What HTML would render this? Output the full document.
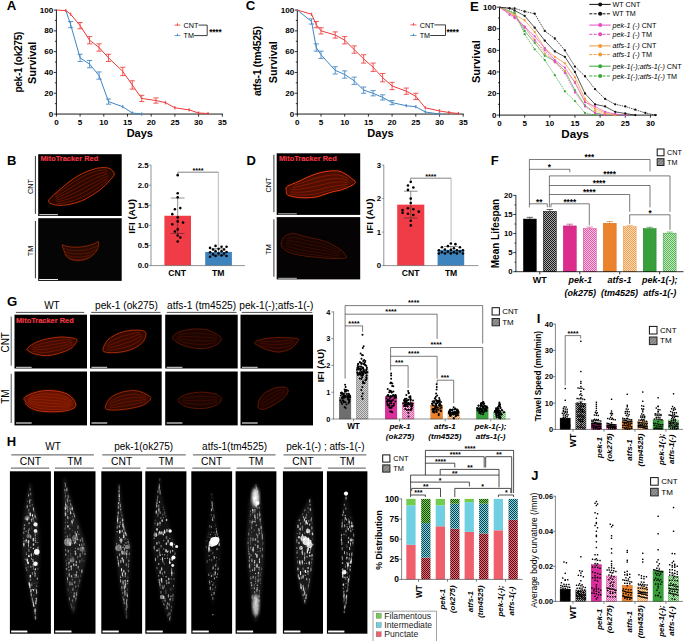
<!DOCTYPE html>
<html><head><meta charset="utf-8"><title>Figure</title>
<style>html,body{margin:0;padding:0;background:#fff;}svg{display:block;font-family:'Liberation Sans', sans-serif;}</style>
</head><body>
<svg width="685" height="641" viewBox="0 0 685 641" font-family='&quot;Liberation Sans&quot;, sans-serif'>
<rect x="0" y="0" width="685" height="641" fill="#fff"/>
<defs>
<pattern id="ckK" width="2.0" height="2.0" patternUnits="userSpaceOnUse"><rect width="2.0" height="2.0" fill="#a8a8a8"/><rect width="1.0" height="1.0" fill="#1a1a1a"/><rect x="1.0" y="1.0" width="1.0" height="1.0" fill="#1a1a1a"/></pattern>
<pattern id="ckM" width="2.0" height="2.0" patternUnits="userSpaceOnUse"><rect width="2.0" height="2.0" fill="#f9c4e0"/><rect width="1.0" height="1.0" fill="#e458ac"/><rect x="1.0" y="1.0" width="1.0" height="1.0" fill="#e458ac"/></pattern>
<pattern id="ckO" width="2.0" height="2.0" patternUnits="userSpaceOnUse"><rect width="2.0" height="2.0" fill="#fbdcb8"/><rect width="1.0" height="1.0" fill="#f0a050"/><rect x="1.0" y="1.0" width="1.0" height="1.0" fill="#f0a050"/></pattern>
<pattern id="ckG" width="2.0" height="2.0" patternUnits="userSpaceOnUse"><rect width="2.0" height="2.0" fill="#c4e8c0"/><rect width="1.0" height="1.0" fill="#58b556"/><rect x="1.0" y="1.0" width="1.0" height="1.0" fill="#58b556"/></pattern>
<pattern id="ckGray" width="2.0" height="2.0" patternUnits="userSpaceOnUse"><rect width="2.0" height="2.0" fill="#d4d4d4"/><rect width="1.0" height="1.0" fill="#8c8c8c"/><rect x="1.0" y="1.0" width="1.0" height="1.0" fill="#8c8c8c"/></pattern>
<pattern id="hP" width="2.0" height="2.0" patternUnits="userSpaceOnUse"><rect width="2.0" height="2.0" fill="#f06a75"/><rect width="1.0" height="1.0" fill="#50101a"/><rect x="1.0" y="1.0" width="1.0" height="1.0" fill="#50101a"/></pattern>
<pattern id="hI" width="2.0" height="2.0" patternUnits="userSpaceOnUse"><rect width="2.0" height="2.0" fill="#7dd5e6"/><rect width="1.0" height="1.0" fill="#104048"/><rect x="1.0" y="1.0" width="1.0" height="1.0" fill="#104048"/></pattern>
<pattern id="hF" width="2.0" height="2.0" patternUnits="userSpaceOnUse"><rect width="2.0" height="2.0" fill="#7ccf52"/><rect width="1.0" height="1.0" fill="#184a10"/><rect x="1.0" y="1.0" width="1.0" height="1.0" fill="#184a10"/></pattern>
<pattern id="hatchL" width="2.4" height="2.4" patternUnits="userSpaceOnUse" patternTransform="rotate(-45)"><rect width="2.4" height="2.4" fill="#7c7c7c"/><rect width="2.4" height="0.9" fill="#a2a2a2"/></pattern>
<filter id="b1" x="-20%" y="-20%" width="140%" height="140%"><feGaussianBlur stdDeviation="0.6"/></filter>
<filter id="b2" x="-20%" y="-20%" width="140%" height="140%"><feGaussianBlur stdDeviation="1.5"/></filter>
<filter id="b3" x="-30%" y="-30%" width="160%" height="160%"><feGaussianBlur stdDeviation="3"/></filter>
</defs>
<line x1="56.40" y1="9.55" x2="56.40" y2="114.55" stroke="#000" stroke-width="0.9"/>
<line x1="56.00" y1="114.05" x2="222.80" y2="114.05" stroke="#000" stroke-width="0.9"/>
<line x1="53.80" y1="114.05" x2="56.40" y2="114.05" stroke="#000" stroke-width="0.8"/>
<text x="53.30" y="116.55" font-size="8.1" font-weight="bold" text-anchor="end" fill="#000">0</text>
<line x1="54.90" y1="103.65" x2="56.40" y2="103.65" stroke="#000" stroke-width="0.8"/>
<line x1="53.80" y1="93.25" x2="56.40" y2="93.25" stroke="#000" stroke-width="0.8"/>
<text x="53.30" y="95.75" font-size="8.1" font-weight="bold" text-anchor="end" fill="#000">20</text>
<line x1="54.90" y1="82.85" x2="56.40" y2="82.85" stroke="#000" stroke-width="0.8"/>
<line x1="53.80" y1="72.45" x2="56.40" y2="72.45" stroke="#000" stroke-width="0.8"/>
<text x="53.30" y="74.95" font-size="8.1" font-weight="bold" text-anchor="end" fill="#000">40</text>
<line x1="54.90" y1="62.05" x2="56.40" y2="62.05" stroke="#000" stroke-width="0.8"/>
<line x1="53.80" y1="51.65" x2="56.40" y2="51.65" stroke="#000" stroke-width="0.8"/>
<text x="53.30" y="54.15" font-size="8.1" font-weight="bold" text-anchor="end" fill="#000">60</text>
<line x1="54.90" y1="41.25" x2="56.40" y2="41.25" stroke="#000" stroke-width="0.8"/>
<line x1="53.80" y1="30.85" x2="56.40" y2="30.85" stroke="#000" stroke-width="0.8"/>
<text x="53.30" y="33.35" font-size="8.1" font-weight="bold" text-anchor="end" fill="#000">80</text>
<line x1="54.90" y1="20.45" x2="56.40" y2="20.45" stroke="#000" stroke-width="0.8"/>
<line x1="53.80" y1="10.05" x2="56.40" y2="10.05" stroke="#000" stroke-width="0.8"/>
<text x="53.30" y="12.55" font-size="8.1" font-weight="bold" text-anchor="end" fill="#000">100</text>
<line x1="56.40" y1="114.05" x2="56.40" y2="116.65" stroke="#000" stroke-width="0.8"/>
<text x="56.40" y="124.65" font-size="8.1" font-weight="bold" text-anchor="middle" fill="#000">0</text>
<line x1="80.10" y1="114.05" x2="80.10" y2="116.65" stroke="#000" stroke-width="0.8"/>
<text x="80.10" y="124.65" font-size="8.1" font-weight="bold" text-anchor="middle" fill="#000">5</text>
<line x1="103.80" y1="114.05" x2="103.80" y2="116.65" stroke="#000" stroke-width="0.8"/>
<text x="103.80" y="124.65" font-size="8.1" font-weight="bold" text-anchor="middle" fill="#000">10</text>
<line x1="127.50" y1="114.05" x2="127.50" y2="116.65" stroke="#000" stroke-width="0.8"/>
<text x="127.50" y="124.65" font-size="8.1" font-weight="bold" text-anchor="middle" fill="#000">15</text>
<line x1="151.20" y1="114.05" x2="151.20" y2="116.65" stroke="#000" stroke-width="0.8"/>
<text x="151.20" y="124.65" font-size="8.1" font-weight="bold" text-anchor="middle" fill="#000">20</text>
<line x1="174.90" y1="114.05" x2="174.90" y2="116.65" stroke="#000" stroke-width="0.8"/>
<text x="174.90" y="124.65" font-size="8.1" font-weight="bold" text-anchor="middle" fill="#000">25</text>
<line x1="198.60" y1="114.05" x2="198.60" y2="116.65" stroke="#000" stroke-width="0.8"/>
<text x="198.60" y="124.65" font-size="8.1" font-weight="bold" text-anchor="middle" fill="#000">30</text>
<line x1="222.30" y1="114.05" x2="222.30" y2="116.65" stroke="#000" stroke-width="0.8"/>
<text x="222.30" y="124.65" font-size="8.1" font-weight="bold" text-anchor="middle" fill="#000">35</text>
<text x="6.70" y="10.10" font-size="13.2" font-weight="bold" text-anchor="start" fill="#000">A</text>
<text x="139.80" y="137.00" font-size="11" font-weight="bold" text-anchor="middle" fill="#000">Days</text>
<text x="35.90" y="62.80" font-size="10.9" font-weight="bold" text-anchor="middle" fill="#000" transform="rotate(-90 35.90 62.80)">Survival</text>
<text x="21.60" y="62.30" font-size="10.1" font-weight="bold" text-anchor="middle" fill="#000" transform="rotate(-90 21.60 62.30)" letter-spacing="-0.3">pek-1 (ok275)</text>
<polyline points="65.88,10.57 70.62,24.61 80.10,57.89 89.58,64.13 99.06,75.57 108.54,101.57 122.76,106.77 132.24,113.01 141.72,114.05" fill="none" stroke="#3f86c4" stroke-width="1.0" stroke-linejoin="round"/>
<line x1="70.62" y1="21.49" x2="70.62" y2="27.73" stroke="#3f86c4" stroke-width="0.85"/>
<line x1="68.02" y1="21.49" x2="73.22" y2="21.49" stroke="#3f86c4" stroke-width="0.85"/>
<line x1="68.02" y1="27.73" x2="73.22" y2="27.73" stroke="#3f86c4" stroke-width="0.85"/>
<line x1="80.10" y1="54.25" x2="80.10" y2="61.53" stroke="#3f86c4" stroke-width="0.85"/>
<line x1="77.50" y1="54.25" x2="82.70" y2="54.25" stroke="#3f86c4" stroke-width="0.85"/>
<line x1="77.50" y1="61.53" x2="82.70" y2="61.53" stroke="#3f86c4" stroke-width="0.85"/>
<line x1="89.58" y1="60.49" x2="89.58" y2="67.77" stroke="#3f86c4" stroke-width="0.85"/>
<line x1="86.98" y1="60.49" x2="92.18" y2="60.49" stroke="#3f86c4" stroke-width="0.85"/>
<line x1="86.98" y1="67.77" x2="92.18" y2="67.77" stroke="#3f86c4" stroke-width="0.85"/>
<line x1="99.06" y1="71.93" x2="99.06" y2="79.21" stroke="#3f86c4" stroke-width="0.85"/>
<line x1="96.46" y1="71.93" x2="101.66" y2="71.93" stroke="#3f86c4" stroke-width="0.85"/>
<line x1="96.46" y1="79.21" x2="101.66" y2="79.21" stroke="#3f86c4" stroke-width="0.85"/>
<line x1="108.54" y1="98.97" x2="108.54" y2="104.17" stroke="#3f86c4" stroke-width="0.85"/>
<line x1="105.94" y1="98.97" x2="111.14" y2="98.97" stroke="#3f86c4" stroke-width="0.85"/>
<line x1="105.94" y1="104.17" x2="111.14" y2="104.17" stroke="#3f86c4" stroke-width="0.85"/>
<line x1="122.76" y1="105.73" x2="122.76" y2="107.81" stroke="#3f86c4" stroke-width="0.85"/>
<line x1="122.06" y1="105.73" x2="123.46" y2="105.73" stroke="#3f86c4" stroke-width="0.85"/>
<line x1="122.06" y1="107.81" x2="123.46" y2="107.81" stroke="#3f86c4" stroke-width="0.85"/>
<line x1="132.24" y1="111.97" x2="132.24" y2="114.05" stroke="#3f86c4" stroke-width="0.85"/>
<line x1="131.54" y1="111.97" x2="132.94" y2="111.97" stroke="#3f86c4" stroke-width="0.85"/>
<line x1="131.54" y1="114.05" x2="132.94" y2="114.05" stroke="#3f86c4" stroke-width="0.85"/>
<line x1="141.72" y1="113.01" x2="141.72" y2="115.09" stroke="#3f86c4" stroke-width="0.85"/>
<line x1="141.02" y1="113.01" x2="142.42" y2="113.01" stroke="#3f86c4" stroke-width="0.85"/>
<line x1="141.02" y1="115.09" x2="142.42" y2="115.09" stroke="#3f86c4" stroke-width="0.85"/>
<polyline points="56.40,10.05 65.88,10.57 70.62,14.21 80.10,25.65 89.58,40.21 99.06,47.49 108.54,57.89 122.76,71.41 132.24,84.93 141.72,98.45 155.94,100.53 165.42,102.61 174.90,107.81 189.12,109.89 198.60,113.01 208.08,113.53" fill="none" stroke="#ee3b3b" stroke-width="1.0" stroke-linejoin="round"/>
<line x1="65.88" y1="9.74" x2="65.88" y2="11.40" stroke="#ee3b3b" stroke-width="0.85"/>
<line x1="65.18" y1="9.74" x2="66.58" y2="9.74" stroke="#ee3b3b" stroke-width="0.85"/>
<line x1="65.18" y1="11.40" x2="66.58" y2="11.40" stroke="#ee3b3b" stroke-width="0.85"/>
<line x1="70.62" y1="13.17" x2="70.62" y2="15.25" stroke="#ee3b3b" stroke-width="0.85"/>
<line x1="69.92" y1="13.17" x2="71.32" y2="13.17" stroke="#ee3b3b" stroke-width="0.85"/>
<line x1="69.92" y1="15.25" x2="71.32" y2="15.25" stroke="#ee3b3b" stroke-width="0.85"/>
<line x1="80.10" y1="22.53" x2="80.10" y2="28.77" stroke="#ee3b3b" stroke-width="0.85"/>
<line x1="77.50" y1="22.53" x2="82.70" y2="22.53" stroke="#ee3b3b" stroke-width="0.85"/>
<line x1="77.50" y1="28.77" x2="82.70" y2="28.77" stroke="#ee3b3b" stroke-width="0.85"/>
<line x1="89.58" y1="36.57" x2="89.58" y2="43.85" stroke="#ee3b3b" stroke-width="0.85"/>
<line x1="86.98" y1="36.57" x2="92.18" y2="36.57" stroke="#ee3b3b" stroke-width="0.85"/>
<line x1="86.98" y1="43.85" x2="92.18" y2="43.85" stroke="#ee3b3b" stroke-width="0.85"/>
<line x1="99.06" y1="43.85" x2="99.06" y2="51.13" stroke="#ee3b3b" stroke-width="0.85"/>
<line x1="96.46" y1="43.85" x2="101.66" y2="43.85" stroke="#ee3b3b" stroke-width="0.85"/>
<line x1="96.46" y1="51.13" x2="101.66" y2="51.13" stroke="#ee3b3b" stroke-width="0.85"/>
<line x1="108.54" y1="54.25" x2="108.54" y2="61.53" stroke="#ee3b3b" stroke-width="0.85"/>
<line x1="105.94" y1="54.25" x2="111.14" y2="54.25" stroke="#ee3b3b" stroke-width="0.85"/>
<line x1="105.94" y1="61.53" x2="111.14" y2="61.53" stroke="#ee3b3b" stroke-width="0.85"/>
<line x1="122.76" y1="67.25" x2="122.76" y2="75.57" stroke="#ee3b3b" stroke-width="0.85"/>
<line x1="120.16" y1="67.25" x2="125.36" y2="67.25" stroke="#ee3b3b" stroke-width="0.85"/>
<line x1="120.16" y1="75.57" x2="125.36" y2="75.57" stroke="#ee3b3b" stroke-width="0.85"/>
<line x1="132.24" y1="80.77" x2="132.24" y2="89.09" stroke="#ee3b3b" stroke-width="0.85"/>
<line x1="129.64" y1="80.77" x2="134.84" y2="80.77" stroke="#ee3b3b" stroke-width="0.85"/>
<line x1="129.64" y1="89.09" x2="134.84" y2="89.09" stroke="#ee3b3b" stroke-width="0.85"/>
<line x1="141.72" y1="95.33" x2="141.72" y2="101.57" stroke="#ee3b3b" stroke-width="0.85"/>
<line x1="139.12" y1="95.33" x2="144.32" y2="95.33" stroke="#ee3b3b" stroke-width="0.85"/>
<line x1="139.12" y1="101.57" x2="144.32" y2="101.57" stroke="#ee3b3b" stroke-width="0.85"/>
<line x1="155.94" y1="97.93" x2="155.94" y2="103.13" stroke="#ee3b3b" stroke-width="0.85"/>
<line x1="153.34" y1="97.93" x2="158.54" y2="97.93" stroke="#ee3b3b" stroke-width="0.85"/>
<line x1="153.34" y1="103.13" x2="158.54" y2="103.13" stroke="#ee3b3b" stroke-width="0.85"/>
<line x1="165.42" y1="101.36" x2="165.42" y2="103.86" stroke="#ee3b3b" stroke-width="0.85"/>
<line x1="164.72" y1="101.36" x2="166.12" y2="101.36" stroke="#ee3b3b" stroke-width="0.85"/>
<line x1="164.72" y1="103.86" x2="166.12" y2="103.86" stroke="#ee3b3b" stroke-width="0.85"/>
<line x1="174.90" y1="106.77" x2="174.90" y2="108.85" stroke="#ee3b3b" stroke-width="0.85"/>
<line x1="174.20" y1="106.77" x2="175.60" y2="106.77" stroke="#ee3b3b" stroke-width="0.85"/>
<line x1="174.20" y1="108.85" x2="175.60" y2="108.85" stroke="#ee3b3b" stroke-width="0.85"/>
<line x1="189.12" y1="108.85" x2="189.12" y2="110.93" stroke="#ee3b3b" stroke-width="0.85"/>
<line x1="188.42" y1="108.85" x2="189.82" y2="108.85" stroke="#ee3b3b" stroke-width="0.85"/>
<line x1="188.42" y1="110.93" x2="189.82" y2="110.93" stroke="#ee3b3b" stroke-width="0.85"/>
<line x1="198.60" y1="111.97" x2="198.60" y2="114.05" stroke="#ee3b3b" stroke-width="0.85"/>
<line x1="197.90" y1="111.97" x2="199.30" y2="111.97" stroke="#ee3b3b" stroke-width="0.85"/>
<line x1="197.90" y1="114.05" x2="199.30" y2="114.05" stroke="#ee3b3b" stroke-width="0.85"/>
<line x1="208.08" y1="112.70" x2="208.08" y2="114.36" stroke="#ee3b3b" stroke-width="0.85"/>
<line x1="207.38" y1="112.70" x2="208.78" y2="112.70" stroke="#ee3b3b" stroke-width="0.85"/>
<line x1="207.38" y1="114.36" x2="208.78" y2="114.36" stroke="#ee3b3b" stroke-width="0.85"/>
<line x1="174.50" y1="25.10" x2="180.40" y2="25.10" stroke="#ee3b3b" stroke-width="0.8"/>
<line x1="177.45" y1="23.30" x2="177.45" y2="25.40" stroke="#ee3b3b" stroke-width="1.0"/>
<line x1="174.50" y1="35.60" x2="180.40" y2="35.60" stroke="#3f86c4" stroke-width="0.8"/>
<line x1="177.45" y1="33.80" x2="177.45" y2="35.90" stroke="#3f86c4" stroke-width="1.0"/>
<text x="183.60" y="27.70" font-size="7.2" text-anchor="start" fill="#000">CNT</text>
<text x="183.60" y="38.20" font-size="7.2" text-anchor="start" fill="#000">TM</text>
<polyline points="198.50,25.10 207.20,25.10 207.20,35.60 194.10,35.60" fill="none" stroke="#333" stroke-width="0.95"/>
<text x="209.20" y="34.75" font-size="8.2" font-weight="bold" text-anchor="start" fill="#000" letter-spacing="-0.1">****</text>
<line x1="297.30" y1="9.55" x2="297.30" y2="114.55" stroke="#000" stroke-width="0.9"/>
<line x1="296.90" y1="114.05" x2="463.70" y2="114.05" stroke="#000" stroke-width="0.9"/>
<line x1="294.70" y1="114.05" x2="297.30" y2="114.05" stroke="#000" stroke-width="0.8"/>
<text x="294.20" y="116.55" font-size="8.1" font-weight="bold" text-anchor="end" fill="#000">0</text>
<line x1="295.80" y1="103.65" x2="297.30" y2="103.65" stroke="#000" stroke-width="0.8"/>
<line x1="294.70" y1="93.25" x2="297.30" y2="93.25" stroke="#000" stroke-width="0.8"/>
<text x="294.20" y="95.75" font-size="8.1" font-weight="bold" text-anchor="end" fill="#000">20</text>
<line x1="295.80" y1="82.85" x2="297.30" y2="82.85" stroke="#000" stroke-width="0.8"/>
<line x1="294.70" y1="72.45" x2="297.30" y2="72.45" stroke="#000" stroke-width="0.8"/>
<text x="294.20" y="74.95" font-size="8.1" font-weight="bold" text-anchor="end" fill="#000">40</text>
<line x1="295.80" y1="62.05" x2="297.30" y2="62.05" stroke="#000" stroke-width="0.8"/>
<line x1="294.70" y1="51.65" x2="297.30" y2="51.65" stroke="#000" stroke-width="0.8"/>
<text x="294.20" y="54.15" font-size="8.1" font-weight="bold" text-anchor="end" fill="#000">60</text>
<line x1="295.80" y1="41.25" x2="297.30" y2="41.25" stroke="#000" stroke-width="0.8"/>
<line x1="294.70" y1="30.85" x2="297.30" y2="30.85" stroke="#000" stroke-width="0.8"/>
<text x="294.20" y="33.35" font-size="8.1" font-weight="bold" text-anchor="end" fill="#000">80</text>
<line x1="295.80" y1="20.45" x2="297.30" y2="20.45" stroke="#000" stroke-width="0.8"/>
<line x1="294.70" y1="10.05" x2="297.30" y2="10.05" stroke="#000" stroke-width="0.8"/>
<text x="294.20" y="12.55" font-size="8.1" font-weight="bold" text-anchor="end" fill="#000">100</text>
<line x1="297.30" y1="114.05" x2="297.30" y2="116.65" stroke="#000" stroke-width="0.8"/>
<text x="297.30" y="124.65" font-size="8.1" font-weight="bold" text-anchor="middle" fill="#000">0</text>
<line x1="321.00" y1="114.05" x2="321.00" y2="116.65" stroke="#000" stroke-width="0.8"/>
<text x="321.00" y="124.65" font-size="8.1" font-weight="bold" text-anchor="middle" fill="#000">5</text>
<line x1="344.70" y1="114.05" x2="344.70" y2="116.65" stroke="#000" stroke-width="0.8"/>
<text x="344.70" y="124.65" font-size="8.1" font-weight="bold" text-anchor="middle" fill="#000">10</text>
<line x1="368.40" y1="114.05" x2="368.40" y2="116.65" stroke="#000" stroke-width="0.8"/>
<text x="368.40" y="124.65" font-size="8.1" font-weight="bold" text-anchor="middle" fill="#000">15</text>
<line x1="392.10" y1="114.05" x2="392.10" y2="116.65" stroke="#000" stroke-width="0.8"/>
<text x="392.10" y="124.65" font-size="8.1" font-weight="bold" text-anchor="middle" fill="#000">20</text>
<line x1="415.80" y1="114.05" x2="415.80" y2="116.65" stroke="#000" stroke-width="0.8"/>
<text x="415.80" y="124.65" font-size="8.1" font-weight="bold" text-anchor="middle" fill="#000">25</text>
<line x1="439.50" y1="114.05" x2="439.50" y2="116.65" stroke="#000" stroke-width="0.8"/>
<text x="439.50" y="124.65" font-size="8.1" font-weight="bold" text-anchor="middle" fill="#000">30</text>
<line x1="463.20" y1="114.05" x2="463.20" y2="116.65" stroke="#000" stroke-width="0.8"/>
<text x="463.20" y="124.65" font-size="8.1" font-weight="bold" text-anchor="middle" fill="#000">35</text>
<text x="245.70" y="10.40" font-size="13.2" font-weight="bold" text-anchor="start" fill="#000">C</text>
<text x="380.50" y="137.00" font-size="11" font-weight="bold" text-anchor="middle" fill="#000">Days</text>
<text x="276.60" y="62.30" font-size="10.8" font-weight="bold" text-anchor="middle" fill="#000" transform="rotate(-90 276.60 62.30)">Survival</text>
<text x="261.30" y="61.20" font-size="10.5" font-weight="bold" text-anchor="middle" fill="#000" transform="rotate(-90 261.30 61.20)" letter-spacing="-0.3">atfs-1 (tm4525)</text>
<polyline points="297.30,10.05 311.52,21.49 316.26,47.49 321.00,54.77 335.22,70.37 344.70,74.53 354.18,80.77 363.66,90.13 373.14,93.25 382.62,97.41 392.10,102.61 406.32,105.73 415.80,106.77 425.28,111.97 439.50,114.05" fill="none" stroke="#3f86c4" stroke-width="1.0" stroke-linejoin="round"/>
<line x1="311.52" y1="18.89" x2="311.52" y2="24.09" stroke="#3f86c4" stroke-width="0.85"/>
<line x1="308.92" y1="18.89" x2="314.12" y2="18.89" stroke="#3f86c4" stroke-width="0.85"/>
<line x1="308.92" y1="24.09" x2="314.12" y2="24.09" stroke="#3f86c4" stroke-width="0.85"/>
<line x1="316.26" y1="43.85" x2="316.26" y2="51.13" stroke="#3f86c4" stroke-width="0.85"/>
<line x1="313.66" y1="43.85" x2="318.86" y2="43.85" stroke="#3f86c4" stroke-width="0.85"/>
<line x1="313.66" y1="51.13" x2="318.86" y2="51.13" stroke="#3f86c4" stroke-width="0.85"/>
<line x1="321.00" y1="51.13" x2="321.00" y2="58.41" stroke="#3f86c4" stroke-width="0.85"/>
<line x1="318.40" y1="51.13" x2="323.60" y2="51.13" stroke="#3f86c4" stroke-width="0.85"/>
<line x1="318.40" y1="58.41" x2="323.60" y2="58.41" stroke="#3f86c4" stroke-width="0.85"/>
<line x1="335.22" y1="66.73" x2="335.22" y2="74.01" stroke="#3f86c4" stroke-width="0.85"/>
<line x1="332.62" y1="66.73" x2="337.82" y2="66.73" stroke="#3f86c4" stroke-width="0.85"/>
<line x1="332.62" y1="74.01" x2="337.82" y2="74.01" stroke="#3f86c4" stroke-width="0.85"/>
<line x1="344.70" y1="70.89" x2="344.70" y2="78.17" stroke="#3f86c4" stroke-width="0.85"/>
<line x1="342.10" y1="70.89" x2="347.30" y2="70.89" stroke="#3f86c4" stroke-width="0.85"/>
<line x1="342.10" y1="78.17" x2="347.30" y2="78.17" stroke="#3f86c4" stroke-width="0.85"/>
<line x1="354.18" y1="77.13" x2="354.18" y2="84.41" stroke="#3f86c4" stroke-width="0.85"/>
<line x1="351.58" y1="77.13" x2="356.78" y2="77.13" stroke="#3f86c4" stroke-width="0.85"/>
<line x1="351.58" y1="84.41" x2="356.78" y2="84.41" stroke="#3f86c4" stroke-width="0.85"/>
<line x1="363.66" y1="87.01" x2="363.66" y2="93.25" stroke="#3f86c4" stroke-width="0.85"/>
<line x1="361.06" y1="87.01" x2="366.26" y2="87.01" stroke="#3f86c4" stroke-width="0.85"/>
<line x1="361.06" y1="93.25" x2="366.26" y2="93.25" stroke="#3f86c4" stroke-width="0.85"/>
<line x1="373.14" y1="90.65" x2="373.14" y2="95.85" stroke="#3f86c4" stroke-width="0.85"/>
<line x1="370.54" y1="90.65" x2="375.74" y2="90.65" stroke="#3f86c4" stroke-width="0.85"/>
<line x1="370.54" y1="95.85" x2="375.74" y2="95.85" stroke="#3f86c4" stroke-width="0.85"/>
<line x1="382.62" y1="94.81" x2="382.62" y2="100.01" stroke="#3f86c4" stroke-width="0.85"/>
<line x1="380.02" y1="94.81" x2="385.22" y2="94.81" stroke="#3f86c4" stroke-width="0.85"/>
<line x1="380.02" y1="100.01" x2="385.22" y2="100.01" stroke="#3f86c4" stroke-width="0.85"/>
<line x1="392.10" y1="100.53" x2="392.10" y2="104.69" stroke="#3f86c4" stroke-width="0.85"/>
<line x1="389.50" y1="100.53" x2="394.70" y2="100.53" stroke="#3f86c4" stroke-width="0.85"/>
<line x1="389.50" y1="104.69" x2="394.70" y2="104.69" stroke="#3f86c4" stroke-width="0.85"/>
<line x1="406.32" y1="104.69" x2="406.32" y2="106.77" stroke="#3f86c4" stroke-width="0.85"/>
<line x1="405.62" y1="104.69" x2="407.02" y2="104.69" stroke="#3f86c4" stroke-width="0.85"/>
<line x1="405.62" y1="106.77" x2="407.02" y2="106.77" stroke="#3f86c4" stroke-width="0.85"/>
<line x1="415.80" y1="105.73" x2="415.80" y2="107.81" stroke="#3f86c4" stroke-width="0.85"/>
<line x1="415.10" y1="105.73" x2="416.50" y2="105.73" stroke="#3f86c4" stroke-width="0.85"/>
<line x1="415.10" y1="107.81" x2="416.50" y2="107.81" stroke="#3f86c4" stroke-width="0.85"/>
<line x1="425.28" y1="110.93" x2="425.28" y2="113.01" stroke="#3f86c4" stroke-width="0.85"/>
<line x1="424.58" y1="110.93" x2="425.98" y2="110.93" stroke="#3f86c4" stroke-width="0.85"/>
<line x1="424.58" y1="113.01" x2="425.98" y2="113.01" stroke="#3f86c4" stroke-width="0.85"/>
<line x1="439.50" y1="113.01" x2="439.50" y2="115.09" stroke="#3f86c4" stroke-width="0.85"/>
<line x1="438.80" y1="113.01" x2="440.20" y2="113.01" stroke="#3f86c4" stroke-width="0.85"/>
<line x1="438.80" y1="115.09" x2="440.20" y2="115.09" stroke="#3f86c4" stroke-width="0.85"/>
<polyline points="297.30,10.05 311.52,14.21 316.26,24.61 321.00,30.85 335.22,35.01 344.70,40.21 354.18,49.57 363.66,58.93 373.14,67.25 382.62,77.65 392.10,85.97 406.32,91.17 415.80,96.37 425.28,107.81 439.50,110.93 448.98,112.49 458.46,113.53" fill="none" stroke="#ee3b3b" stroke-width="1.0" stroke-linejoin="round"/>
<line x1="311.52" y1="13.17" x2="311.52" y2="15.25" stroke="#ee3b3b" stroke-width="0.85"/>
<line x1="310.82" y1="13.17" x2="312.22" y2="13.17" stroke="#ee3b3b" stroke-width="0.85"/>
<line x1="310.82" y1="15.25" x2="312.22" y2="15.25" stroke="#ee3b3b" stroke-width="0.85"/>
<line x1="316.26" y1="21.49" x2="316.26" y2="27.73" stroke="#ee3b3b" stroke-width="0.85"/>
<line x1="313.66" y1="21.49" x2="318.86" y2="21.49" stroke="#ee3b3b" stroke-width="0.85"/>
<line x1="313.66" y1="27.73" x2="318.86" y2="27.73" stroke="#ee3b3b" stroke-width="0.85"/>
<line x1="321.00" y1="27.73" x2="321.00" y2="33.97" stroke="#ee3b3b" stroke-width="0.85"/>
<line x1="318.40" y1="27.73" x2="323.60" y2="27.73" stroke="#ee3b3b" stroke-width="0.85"/>
<line x1="318.40" y1="33.97" x2="323.60" y2="33.97" stroke="#ee3b3b" stroke-width="0.85"/>
<line x1="335.22" y1="31.89" x2="335.22" y2="38.13" stroke="#ee3b3b" stroke-width="0.85"/>
<line x1="332.62" y1="31.89" x2="337.82" y2="31.89" stroke="#ee3b3b" stroke-width="0.85"/>
<line x1="332.62" y1="38.13" x2="337.82" y2="38.13" stroke="#ee3b3b" stroke-width="0.85"/>
<line x1="344.70" y1="36.57" x2="344.70" y2="43.85" stroke="#ee3b3b" stroke-width="0.85"/>
<line x1="342.10" y1="36.57" x2="347.30" y2="36.57" stroke="#ee3b3b" stroke-width="0.85"/>
<line x1="342.10" y1="43.85" x2="347.30" y2="43.85" stroke="#ee3b3b" stroke-width="0.85"/>
<line x1="354.18" y1="45.93" x2="354.18" y2="53.21" stroke="#ee3b3b" stroke-width="0.85"/>
<line x1="351.58" y1="45.93" x2="356.78" y2="45.93" stroke="#ee3b3b" stroke-width="0.85"/>
<line x1="351.58" y1="53.21" x2="356.78" y2="53.21" stroke="#ee3b3b" stroke-width="0.85"/>
<line x1="363.66" y1="54.77" x2="363.66" y2="63.09" stroke="#ee3b3b" stroke-width="0.85"/>
<line x1="361.06" y1="54.77" x2="366.26" y2="54.77" stroke="#ee3b3b" stroke-width="0.85"/>
<line x1="361.06" y1="63.09" x2="366.26" y2="63.09" stroke="#ee3b3b" stroke-width="0.85"/>
<line x1="373.14" y1="63.09" x2="373.14" y2="71.41" stroke="#ee3b3b" stroke-width="0.85"/>
<line x1="370.54" y1="63.09" x2="375.74" y2="63.09" stroke="#ee3b3b" stroke-width="0.85"/>
<line x1="370.54" y1="71.41" x2="375.74" y2="71.41" stroke="#ee3b3b" stroke-width="0.85"/>
<line x1="382.62" y1="73.49" x2="382.62" y2="81.81" stroke="#ee3b3b" stroke-width="0.85"/>
<line x1="380.02" y1="73.49" x2="385.22" y2="73.49" stroke="#ee3b3b" stroke-width="0.85"/>
<line x1="380.02" y1="81.81" x2="385.22" y2="81.81" stroke="#ee3b3b" stroke-width="0.85"/>
<line x1="392.10" y1="82.33" x2="392.10" y2="89.61" stroke="#ee3b3b" stroke-width="0.85"/>
<line x1="389.50" y1="82.33" x2="394.70" y2="82.33" stroke="#ee3b3b" stroke-width="0.85"/>
<line x1="389.50" y1="89.61" x2="394.70" y2="89.61" stroke="#ee3b3b" stroke-width="0.85"/>
<line x1="406.32" y1="88.05" x2="406.32" y2="94.29" stroke="#ee3b3b" stroke-width="0.85"/>
<line x1="403.72" y1="88.05" x2="408.92" y2="88.05" stroke="#ee3b3b" stroke-width="0.85"/>
<line x1="403.72" y1="94.29" x2="408.92" y2="94.29" stroke="#ee3b3b" stroke-width="0.85"/>
<line x1="415.80" y1="93.25" x2="415.80" y2="99.49" stroke="#ee3b3b" stroke-width="0.85"/>
<line x1="413.20" y1="93.25" x2="418.40" y2="93.25" stroke="#ee3b3b" stroke-width="0.85"/>
<line x1="413.20" y1="99.49" x2="418.40" y2="99.49" stroke="#ee3b3b" stroke-width="0.85"/>
<line x1="425.28" y1="106.77" x2="425.28" y2="108.85" stroke="#ee3b3b" stroke-width="0.85"/>
<line x1="424.58" y1="106.77" x2="425.98" y2="106.77" stroke="#ee3b3b" stroke-width="0.85"/>
<line x1="424.58" y1="108.85" x2="425.98" y2="108.85" stroke="#ee3b3b" stroke-width="0.85"/>
<line x1="439.50" y1="109.68" x2="439.50" y2="112.18" stroke="#ee3b3b" stroke-width="0.85"/>
<line x1="438.80" y1="109.68" x2="440.20" y2="109.68" stroke="#ee3b3b" stroke-width="0.85"/>
<line x1="438.80" y1="112.18" x2="440.20" y2="112.18" stroke="#ee3b3b" stroke-width="0.85"/>
<line x1="448.98" y1="111.45" x2="448.98" y2="113.53" stroke="#ee3b3b" stroke-width="0.85"/>
<line x1="448.28" y1="111.45" x2="449.68" y2="111.45" stroke="#ee3b3b" stroke-width="0.85"/>
<line x1="448.28" y1="113.53" x2="449.68" y2="113.53" stroke="#ee3b3b" stroke-width="0.85"/>
<line x1="458.46" y1="112.49" x2="458.46" y2="114.57" stroke="#ee3b3b" stroke-width="0.85"/>
<line x1="457.76" y1="112.49" x2="459.16" y2="112.49" stroke="#ee3b3b" stroke-width="0.85"/>
<line x1="457.76" y1="114.57" x2="459.16" y2="114.57" stroke="#ee3b3b" stroke-width="0.85"/>
<line x1="410.40" y1="24.90" x2="416.50" y2="24.90" stroke="#ee3b3b" stroke-width="0.8"/>
<line x1="413.45" y1="23.10" x2="413.45" y2="25.20" stroke="#ee3b3b" stroke-width="1.0"/>
<line x1="410.40" y1="35.50" x2="416.50" y2="35.50" stroke="#3f86c4" stroke-width="0.8"/>
<line x1="413.45" y1="33.70" x2="413.45" y2="35.80" stroke="#3f86c4" stroke-width="1.0"/>
<text x="419.70" y="27.50" font-size="7.2" text-anchor="start" fill="#000">CNT</text>
<text x="419.70" y="38.10" font-size="7.2" text-anchor="start" fill="#000">TM</text>
<polyline points="434.40,24.90 445.50,24.90 445.50,35.50 430.20,35.50" fill="none" stroke="#333" stroke-width="0.95"/>
<text x="446.40" y="34.60" font-size="8.2" font-weight="bold" text-anchor="start" fill="#000" letter-spacing="-0.1">****</text>
<line x1="499.50" y1="6.70" x2="499.50" y2="115.60" stroke="#000" stroke-width="0.9"/>
<line x1="499.10" y1="115.10" x2="656.94" y2="115.10" stroke="#000" stroke-width="0.9"/>
<line x1="496.90" y1="115.10" x2="499.50" y2="115.10" stroke="#000" stroke-width="0.8"/>
<text x="496.40" y="117.70" font-size="8.0" font-weight="bold" text-anchor="end" fill="#000">0</text>
<line x1="498.00" y1="104.31" x2="499.50" y2="104.31" stroke="#000" stroke-width="0.8"/>
<line x1="496.90" y1="93.52" x2="499.50" y2="93.52" stroke="#000" stroke-width="0.8"/>
<text x="496.40" y="96.12" font-size="8.0" font-weight="bold" text-anchor="end" fill="#000">20</text>
<line x1="498.00" y1="82.73" x2="499.50" y2="82.73" stroke="#000" stroke-width="0.8"/>
<line x1="496.90" y1="71.94" x2="499.50" y2="71.94" stroke="#000" stroke-width="0.8"/>
<text x="496.40" y="74.54" font-size="8.0" font-weight="bold" text-anchor="end" fill="#000">40</text>
<line x1="498.00" y1="61.15" x2="499.50" y2="61.15" stroke="#000" stroke-width="0.8"/>
<line x1="496.90" y1="50.36" x2="499.50" y2="50.36" stroke="#000" stroke-width="0.8"/>
<text x="496.40" y="52.96" font-size="8.0" font-weight="bold" text-anchor="end" fill="#000">60</text>
<line x1="498.00" y1="39.57" x2="499.50" y2="39.57" stroke="#000" stroke-width="0.8"/>
<line x1="496.90" y1="28.78" x2="499.50" y2="28.78" stroke="#000" stroke-width="0.8"/>
<text x="496.40" y="31.38" font-size="8.0" font-weight="bold" text-anchor="end" fill="#000">80</text>
<line x1="498.00" y1="17.99" x2="499.50" y2="17.99" stroke="#000" stroke-width="0.8"/>
<line x1="496.90" y1="7.20" x2="499.50" y2="7.20" stroke="#000" stroke-width="0.8"/>
<text x="496.40" y="9.80" font-size="8.0" font-weight="bold" text-anchor="end" fill="#000">100</text>
<line x1="499.50" y1="115.10" x2="499.50" y2="117.70" stroke="#000" stroke-width="0.8"/>
<text x="499.50" y="126.00" font-size="8.0" font-weight="bold" text-anchor="middle" fill="#000">0</text>
<line x1="524.65" y1="115.10" x2="524.65" y2="117.70" stroke="#000" stroke-width="0.8"/>
<text x="524.65" y="126.00" font-size="8.0" font-weight="bold" text-anchor="middle" fill="#000">5</text>
<line x1="549.80" y1="115.10" x2="549.80" y2="117.70" stroke="#000" stroke-width="0.8"/>
<text x="549.80" y="126.00" font-size="8.0" font-weight="bold" text-anchor="middle" fill="#000">10</text>
<line x1="574.95" y1="115.10" x2="574.95" y2="117.70" stroke="#000" stroke-width="0.8"/>
<text x="574.95" y="126.00" font-size="8.0" font-weight="bold" text-anchor="middle" fill="#000">15</text>
<line x1="600.10" y1="115.10" x2="600.10" y2="117.70" stroke="#000" stroke-width="0.8"/>
<text x="600.10" y="126.00" font-size="8.0" font-weight="bold" text-anchor="middle" fill="#000">20</text>
<line x1="625.25" y1="115.10" x2="625.25" y2="117.70" stroke="#000" stroke-width="0.8"/>
<text x="625.25" y="126.00" font-size="8.0" font-weight="bold" text-anchor="middle" fill="#000">25</text>
<line x1="650.40" y1="115.10" x2="650.40" y2="117.70" stroke="#000" stroke-width="0.8"/>
<text x="650.40" y="126.00" font-size="8.0" font-weight="bold" text-anchor="middle" fill="#000">30</text>
<text x="470.00" y="11.10" font-size="13.2" font-weight="bold" text-anchor="start" fill="#000">E</text>
<text x="575.20" y="138.30" font-size="11.6" font-weight="bold" text-anchor="middle" fill="#000">Days</text>
<text x="480.40" y="61.70" font-size="11" font-weight="bold" text-anchor="middle" fill="#000" transform="rotate(-90 480.40 61.70)">Survival</text>
<polyline points="499.50,7.20 514.59,12.59 524.65,34.17 534.71,49.28 544.77,60.07 554.83,75.18 564.89,91.36 574.95,101.07 585.01,112.94 595.07,115.10" fill="none" stroke="#3aa83c" stroke-width="0.7" stroke-dasharray="1.6 0.8"/>
<circle cx="514.59" cy="12.59" r="1.15" fill="#3aa83c"/>
<circle cx="524.65" cy="34.17" r="1.15" fill="#3aa83c"/>
<circle cx="534.71" cy="49.28" r="1.15" fill="#3aa83c"/>
<circle cx="544.77" cy="60.07" r="1.15" fill="#3aa83c"/>
<circle cx="554.83" cy="75.18" r="1.15" fill="#3aa83c"/>
<circle cx="564.89" cy="91.36" r="1.15" fill="#3aa83c"/>
<circle cx="574.95" cy="101.07" r="1.15" fill="#3aa83c"/>
<circle cx="585.01" cy="112.94" r="1.15" fill="#3aa83c"/>
<circle cx="595.07" cy="115.10" r="1.15" fill="#3aa83c"/>
<polyline points="499.50,7.20 514.59,13.67 524.65,30.94 534.71,42.81 544.77,55.75 554.83,61.15 564.89,70.86 574.95,90.28 585.01,105.39 595.07,112.94 605.13,115.10" fill="none" stroke="#3aa83c" stroke-width="0.7"/>
<circle cx="514.59" cy="13.67" r="1.15" fill="#3aa83c"/>
<circle cx="524.65" cy="30.94" r="1.15" fill="#3aa83c"/>
<circle cx="534.71" cy="42.81" r="1.15" fill="#3aa83c"/>
<circle cx="544.77" cy="55.75" r="1.15" fill="#3aa83c"/>
<circle cx="554.83" cy="61.15" r="1.15" fill="#3aa83c"/>
<circle cx="564.89" cy="70.86" r="1.15" fill="#3aa83c"/>
<circle cx="574.95" cy="90.28" r="1.15" fill="#3aa83c"/>
<circle cx="585.01" cy="105.39" r="1.15" fill="#3aa83c"/>
<circle cx="595.07" cy="112.94" r="1.15" fill="#3aa83c"/>
<circle cx="605.13" cy="115.10" r="1.15" fill="#3aa83c"/>
<polyline points="499.50,7.20 514.59,15.83 524.65,26.62 534.71,39.57 544.77,53.60 554.83,61.15 564.89,70.86 574.95,81.65 585.01,101.07 595.07,110.78 605.13,114.02 615.19,115.10" fill="none" stroke="#f09a3e" stroke-width="0.7" stroke-dasharray="1.6 0.8"/>
<circle cx="514.59" cy="15.83" r="1.15" fill="#f09a3e"/>
<circle cx="524.65" cy="26.62" r="1.15" fill="#f09a3e"/>
<circle cx="534.71" cy="39.57" r="1.15" fill="#f09a3e"/>
<circle cx="544.77" cy="53.60" r="1.15" fill="#f09a3e"/>
<circle cx="554.83" cy="61.15" r="1.15" fill="#f09a3e"/>
<circle cx="564.89" cy="70.86" r="1.15" fill="#f09a3e"/>
<circle cx="574.95" cy="81.65" r="1.15" fill="#f09a3e"/>
<circle cx="585.01" cy="101.07" r="1.15" fill="#f09a3e"/>
<circle cx="595.07" cy="110.78" r="1.15" fill="#f09a3e"/>
<circle cx="605.13" cy="114.02" r="1.15" fill="#f09a3e"/>
<circle cx="615.19" cy="115.10" r="1.15" fill="#f09a3e"/>
<polyline points="499.50,7.20 514.59,14.75 524.65,20.15 534.71,32.02 544.77,48.20 554.83,56.83 564.89,63.31 574.95,77.33 585.01,98.91 595.07,108.63 605.13,112.94 615.19,115.10" fill="none" stroke="#f09a3e" stroke-width="0.7"/>
<circle cx="514.59" cy="14.75" r="1.15" fill="#f09a3e"/>
<circle cx="524.65" cy="20.15" r="1.15" fill="#f09a3e"/>
<circle cx="534.71" cy="32.02" r="1.15" fill="#f09a3e"/>
<circle cx="544.77" cy="48.20" r="1.15" fill="#f09a3e"/>
<circle cx="554.83" cy="56.83" r="1.15" fill="#f09a3e"/>
<circle cx="564.89" cy="63.31" r="1.15" fill="#f09a3e"/>
<circle cx="574.95" cy="77.33" r="1.15" fill="#f09a3e"/>
<circle cx="585.01" cy="98.91" r="1.15" fill="#f09a3e"/>
<circle cx="595.07" cy="108.63" r="1.15" fill="#f09a3e"/>
<circle cx="605.13" cy="112.94" r="1.15" fill="#f09a3e"/>
<circle cx="615.19" cy="115.10" r="1.15" fill="#f09a3e"/>
<polyline points="499.50,7.20 509.56,14.75 514.59,17.99 524.65,27.70 534.71,40.65 544.77,50.36 554.83,62.23 564.89,73.02 574.95,92.44 585.01,106.47 595.07,112.94 605.13,115.10" fill="none" stroke="#e24fc0" stroke-width="0.7" stroke-dasharray="1.6 0.8"/>
<circle cx="509.56" cy="14.75" r="1.15" fill="#e24fc0"/>
<circle cx="514.59" cy="17.99" r="1.15" fill="#e24fc0"/>
<circle cx="524.65" cy="27.70" r="1.15" fill="#e24fc0"/>
<circle cx="534.71" cy="40.65" r="1.15" fill="#e24fc0"/>
<circle cx="544.77" cy="50.36" r="1.15" fill="#e24fc0"/>
<circle cx="554.83" cy="62.23" r="1.15" fill="#e24fc0"/>
<circle cx="564.89" cy="73.02" r="1.15" fill="#e24fc0"/>
<circle cx="574.95" cy="92.44" r="1.15" fill="#e24fc0"/>
<circle cx="585.01" cy="106.47" r="1.15" fill="#e24fc0"/>
<circle cx="595.07" cy="112.94" r="1.15" fill="#e24fc0"/>
<circle cx="605.13" cy="115.10" r="1.15" fill="#e24fc0"/>
<polyline points="499.50,7.20 514.59,16.91 524.65,26.62 534.71,36.33 544.77,48.20 554.83,60.07 564.89,67.62 574.95,82.73 585.01,102.15 595.07,106.47 605.13,111.86 615.19,114.02 625.25,115.10" fill="none" stroke="#e24fc0" stroke-width="0.7"/>
<circle cx="514.59" cy="16.91" r="1.15" fill="#e24fc0"/>
<circle cx="524.65" cy="26.62" r="1.15" fill="#e24fc0"/>
<circle cx="534.71" cy="36.33" r="1.15" fill="#e24fc0"/>
<circle cx="544.77" cy="48.20" r="1.15" fill="#e24fc0"/>
<circle cx="554.83" cy="60.07" r="1.15" fill="#e24fc0"/>
<circle cx="564.89" cy="67.62" r="1.15" fill="#e24fc0"/>
<circle cx="574.95" cy="82.73" r="1.15" fill="#e24fc0"/>
<circle cx="585.01" cy="102.15" r="1.15" fill="#e24fc0"/>
<circle cx="595.07" cy="106.47" r="1.15" fill="#e24fc0"/>
<circle cx="605.13" cy="111.86" r="1.15" fill="#e24fc0"/>
<circle cx="615.19" cy="114.02" r="1.15" fill="#e24fc0"/>
<circle cx="625.25" cy="115.10" r="1.15" fill="#e24fc0"/>
<polyline points="499.50,7.20 509.56,8.28 514.59,8.28 524.65,11.52 534.71,13.67 544.77,30.94 554.83,38.49 564.89,50.36 574.95,66.54 585.01,76.26 595.07,89.20 605.13,98.91 615.19,104.31 625.25,106.47 635.31,109.70 645.37,112.94 655.43,115.10" fill="none" stroke="#111" stroke-width="0.7" stroke-dasharray="1.6 0.8"/>
<circle cx="509.56" cy="8.28" r="1.15" fill="#111"/>
<circle cx="514.59" cy="8.28" r="1.15" fill="#111"/>
<circle cx="524.65" cy="11.52" r="1.15" fill="#111"/>
<circle cx="534.71" cy="13.67" r="1.15" fill="#111"/>
<circle cx="544.77" cy="30.94" r="1.15" fill="#111"/>
<circle cx="554.83" cy="38.49" r="1.15" fill="#111"/>
<circle cx="564.89" cy="50.36" r="1.15" fill="#111"/>
<circle cx="574.95" cy="66.54" r="1.15" fill="#111"/>
<circle cx="585.01" cy="76.26" r="1.15" fill="#111"/>
<circle cx="595.07" cy="89.20" r="1.15" fill="#111"/>
<circle cx="605.13" cy="98.91" r="1.15" fill="#111"/>
<circle cx="615.19" cy="104.31" r="1.15" fill="#111"/>
<circle cx="625.25" cy="106.47" r="1.15" fill="#111"/>
<circle cx="635.31" cy="109.70" r="1.15" fill="#111"/>
<circle cx="645.37" cy="112.94" r="1.15" fill="#111"/>
<circle cx="655.43" cy="115.10" r="1.15" fill="#111"/>
<polyline points="499.50,7.20 509.56,8.28 514.59,10.44 524.65,15.83 534.71,27.70 544.77,40.65 554.83,51.44 564.89,56.83 574.95,71.94 585.01,93.52 595.07,104.31 605.13,106.47 615.19,111.86 625.25,113.48 635.31,115.10" fill="none" stroke="#111" stroke-width="0.7"/>
<circle cx="509.56" cy="8.28" r="1.15" fill="#111"/>
<circle cx="514.59" cy="10.44" r="1.15" fill="#111"/>
<circle cx="524.65" cy="15.83" r="1.15" fill="#111"/>
<circle cx="534.71" cy="27.70" r="1.15" fill="#111"/>
<circle cx="544.77" cy="40.65" r="1.15" fill="#111"/>
<circle cx="554.83" cy="51.44" r="1.15" fill="#111"/>
<circle cx="564.89" cy="56.83" r="1.15" fill="#111"/>
<circle cx="574.95" cy="71.94" r="1.15" fill="#111"/>
<circle cx="585.01" cy="93.52" r="1.15" fill="#111"/>
<circle cx="595.07" cy="104.31" r="1.15" fill="#111"/>
<circle cx="605.13" cy="106.47" r="1.15" fill="#111"/>
<circle cx="615.19" cy="111.86" r="1.15" fill="#111"/>
<circle cx="625.25" cy="113.48" r="1.15" fill="#111"/>
<circle cx="635.31" cy="115.10" r="1.15" fill="#111"/>
<line x1="589.30" y1="4.40" x2="610.70" y2="4.40" stroke="#111" stroke-width="1.0"/>
<circle cx="600.20" cy="4.40" r="2.0" fill="#111"/>
<text x="612.50" y="6.90" font-size="7.2" text-anchor="start" fill="#000">WT CNT</text>
<line x1="589.30" y1="13.80" x2="610.70" y2="13.80" stroke="#111" stroke-width="1.0" stroke-dasharray="3 1.4"/>
<circle cx="600.20" cy="13.80" r="2.0" fill="#111"/>
<text x="612.50" y="16.30" font-size="7.2" text-anchor="start" fill="#000">WT TM</text>
<line x1="589.30" y1="25.10" x2="610.70" y2="25.10" stroke="#e24fc0" stroke-width="1.0"/>
<circle cx="600.20" cy="25.10" r="2.0" fill="#e24fc0"/>
<text x="612.5" y="27.60" font-size="7.2"><tspan font-style="italic">pek-1 (-)</tspan> CNT</text>
<line x1="589.30" y1="34.30" x2="610.70" y2="34.30" stroke="#e24fc0" stroke-width="1.0" stroke-dasharray="3 1.4"/>
<circle cx="600.20" cy="34.30" r="2.0" fill="#e24fc0"/>
<text x="612.5" y="36.80" font-size="7.2"><tspan font-style="italic">pek-1 (-)</tspan> TM</text>
<line x1="589.30" y1="45.90" x2="610.70" y2="45.90" stroke="#f09a3e" stroke-width="1.0"/>
<circle cx="600.20" cy="45.90" r="2.0" fill="#f09a3e"/>
<text x="612.5" y="48.40" font-size="7.2"><tspan font-style="italic">atfs-1 (-)</tspan> CNT</text>
<line x1="589.30" y1="54.60" x2="610.70" y2="54.60" stroke="#f09a3e" stroke-width="1.0" stroke-dasharray="3 1.4"/>
<circle cx="600.20" cy="54.60" r="2.0" fill="#f09a3e"/>
<text x="612.5" y="57.10" font-size="7.2"><tspan font-style="italic">atfs-1 (-)</tspan> TM</text>
<line x1="589.30" y1="66.20" x2="610.70" y2="66.20" stroke="#3aa83c" stroke-width="1.0"/>
<circle cx="600.20" cy="66.20" r="2.0" fill="#3aa83c"/>
<text x="612.5" y="68.70" font-size="7.2"><tspan font-style="italic">pek-1(-);atfs-1(-)</tspan> CNT</text>
<line x1="589.30" y1="76.00" x2="610.70" y2="76.00" stroke="#3aa83c" stroke-width="1.0" stroke-dasharray="3 1.4"/>
<circle cx="600.20" cy="76.00" r="2.0" fill="#3aa83c"/>
<text x="612.5" y="78.50" font-size="7.2"><tspan font-style="italic">pek-1(-);atfs-1(-)</tspan> TM</text>
<rect x="38.20" y="154.20" width="83.50" height="61.80" fill="#000"/>
<rect x="38.20" y="218.20" width="83.50" height="62.70" fill="#050505"/>
<g fill="none"><path d="M48.5,201.2C48.6,199.6 51.6,197.0 53.7,194.9C55.8,192.8 58.6,190.8 61.1,188.6C63.6,186.4 66.2,184.1 69.0,182.0C71.8,179.9 74.8,177.8 77.8,176.1C80.8,174.3 83.9,172.8 87.0,171.5C90.1,170.2 93.8,169.1 96.6,168.4C99.4,167.8 101.8,167.5 104.0,167.6C106.2,167.7 108.4,167.7 110.1,168.8C111.8,169.9 114.2,172.2 114.3,174.0C114.4,175.8 112.1,177.6 110.5,179.5C108.9,181.4 106.8,183.7 104.9,185.5C103.0,187.3 101.1,188.9 99.0,190.5C96.9,192.1 94.7,193.5 92.4,194.9C90.2,196.3 87.9,197.8 85.5,199.0C83.1,200.2 80.7,201.3 77.8,202.2C74.9,203.1 71.1,204.1 68.0,204.6C64.9,205.1 61.5,205.4 59.0,205.3C56.5,205.2 54.8,205.0 53.0,204.3C51.2,203.6 48.4,202.8 48.5,201.2Z" fill="rgb(150,28,6)" opacity="0.28" filter="url(#b2)"/><path d="M48.5,201.2C48.6,199.6 51.6,197.0 53.7,194.9C55.8,192.8 58.6,190.8 61.1,188.6C63.6,186.4 66.2,184.1 69.0,182.0C71.8,179.9 74.8,177.8 77.8,176.1C80.8,174.3 83.9,172.8 87.0,171.5C90.1,170.2 93.8,169.1 96.6,168.4C99.4,167.8 101.8,167.5 104.0,167.6C106.2,167.7 108.4,167.7 110.1,168.8C111.8,169.9 114.2,172.2 114.3,174.0C114.4,175.8 112.1,177.6 110.5,179.5C108.9,181.4 106.8,183.7 104.9,185.5C103.0,187.3 101.1,188.9 99.0,190.5C96.9,192.1 94.7,193.5 92.4,194.9C90.2,196.3 87.9,197.8 85.5,199.0C83.1,200.2 80.7,201.3 77.8,202.2C74.9,203.1 71.1,204.1 68.0,204.6C64.9,205.1 61.5,205.4 59.0,205.3C56.5,205.2 54.8,205.0 53.0,204.3C51.2,203.6 48.4,202.8 48.5,201.2Z" stroke="rgb(222,56,12)" stroke-width="0.85" filter="url(#b1)"/><path d="M55.3,195.1C56.6,194.2 60.5,191.3 63.1,189.4C65.8,187.5 68.3,185.5 71.1,183.7C73.8,181.8 76.6,180.1 79.5,178.5C82.3,176.9 85.3,175.3 88.3,174.0C91.3,172.8 94.5,171.5 97.6,170.8C100.7,170.0 105.5,170.0 107.1,169.8" stroke="rgb(200,46,10)" stroke-width="0.6" opacity="0.62" filter="url(#b1)"/><path d="M55.6,196.8C57.0,196.0 61.0,193.7 63.8,192.0C66.5,190.4 69.2,188.6 72.0,186.9C74.7,185.2 77.6,183.6 80.5,182.0C83.3,180.4 86.3,178.8 89.2,177.5C92.2,176.1 95.2,174.7 98.3,173.8C101.3,172.8 105.8,172.1 107.3,171.8" stroke="rgb(200,46,10)" stroke-width="0.6" opacity="0.62" filter="url(#b1)"/><path d="M55.9,198.5C57.3,197.8 61.6,196.0 64.4,194.6C67.2,193.2 70.0,191.6 72.8,190.1C75.7,188.6 78.6,187.0 81.5,185.5C84.3,184.0 87.2,182.3 90.1,180.9C93.0,179.4 96.0,177.9 98.9,176.8C101.8,175.6 106.1,174.3 107.6,173.9" stroke="rgb(200,46,10)" stroke-width="0.6" opacity="0.62" filter="url(#b1)"/><path d="M56.3,200.2C57.7,199.7 62.1,198.4 65.0,197.2C67.9,196.1 70.8,194.7 73.7,193.3C76.6,192.0 79.6,190.5 82.5,189.0C85.3,187.5 88.2,185.8 91.0,184.3C93.9,182.8 96.8,181.2 99.6,179.8C102.4,178.4 106.4,176.5 107.8,175.9" stroke="rgb(200,46,10)" stroke-width="0.6" opacity="0.62" filter="url(#b1)"/><path d="M56.6,201.8C58.1,201.5 62.6,200.7 65.6,199.8C68.7,198.9 71.7,197.8 74.6,196.6C77.6,195.3 80.6,194.0 83.4,192.5C86.3,191.0 89.1,189.3 91.9,187.7C94.7,186.1 97.6,184.4 100.2,182.8C102.9,181.2 106.7,178.7 108.0,177.9" stroke="rgb(200,46,10)" stroke-width="0.6" opacity="0.62" filter="url(#b1)"/><path d="M56.9,203.5C58.5,203.4 63.2,203.1 66.3,202.4C69.4,201.8 72.5,200.8 75.5,199.8C78.5,198.7 81.6,197.5 84.4,196.0C87.3,194.6 90.1,192.8 92.8,191.1C95.6,189.4 98.3,187.7 100.9,185.8C103.5,183.9 107.0,180.9 108.2,179.9" stroke="rgb(200,46,10)" stroke-width="0.6" opacity="0.62" filter="url(#b1)"/></g>
<g transform="translate(0.0 0.0) rotate(0)" fill="none"><path d="M62,244.6 C68,248.6 88,248.6 98.5,241.5 C99.5,248 95,255 87,258.8 C79,262 69,260.6 66,255.5 C64.3,251.5 63,248 62,244.6 Z" fill="rgb(99,18,3)" opacity="0.4" filter="url(#b2)"/><path d="M62,244.6 C68,248.6 88,248.6 98.5,241.5 C99.5,248 95,255 87,258.8 C79,262 69,260.6 66,255.5 C64.3,251.5 63,248 62,244.6 Z" stroke="rgb(158,40,7)" stroke-width="0.8" filter="url(#b1)"/><path d="M63.3,248 C70,252 88,252 98.3,245.3" stroke="rgb(141,33,6)" stroke-width="0.6" opacity="0.8" filter="url(#b1)"/><path d="M64.5,251.5 C72,255.3 88,255 96.5,249.3" stroke="rgb(141,33,6)" stroke-width="0.6" opacity="0.8" filter="url(#b1)"/><path d="M66,254.8 C73,258.3 86,258 93.5,253.3" stroke="rgb(141,33,6)" stroke-width="0.6" opacity="0.8" filter="url(#b1)"/><path d="M69,258 C75,260.6 83,260.2 89,257" stroke="rgb(141,33,6)" stroke-width="0.6" opacity="0.8" filter="url(#b1)"/></g>
<text x="40.40" y="161.30" font-size="7.45" font-weight="bold" text-anchor="start" fill="#f23a44" stroke="#f23a44" stroke-width="0.15">MitoTracker Red</text>
<line x1="39.30" y1="214.70" x2="57.90" y2="214.70" stroke="#eee" stroke-width="1.0"/>
<line x1="39.10" y1="279.50" x2="58.00" y2="279.50" stroke="#eee" stroke-width="1.0"/>
<line x1="35.40" y1="156.00" x2="35.40" y2="213.80" stroke="#000" stroke-width="0.8"/>
<line x1="35.40" y1="221.00" x2="35.40" y2="278.30" stroke="#000" stroke-width="0.8"/>
<text x="33.20" y="186.50" font-size="7.3" text-anchor="middle" fill="#000" transform="rotate(-90 33.20 186.50)">CNT</text>
<text x="33.20" y="251.00" font-size="7.3" text-anchor="middle" fill="#000" transform="rotate(-90 33.20 251.00)">TM</text>
<text x="7.00" y="165.00" font-size="13" font-weight="bold" text-anchor="start" fill="#000">B</text>
<rect x="276.70" y="153.30" width="83.50" height="61.60" fill="#000"/>
<rect x="276.70" y="217.10" width="83.50" height="62.30" fill="#050303"/>
<g fill="none"><path d="M286.5,187.2C287.5,185.9 290.4,185.0 292.5,184.0C294.6,183.0 296.7,182.4 299.1,181.3C301.5,180.2 304.2,178.7 307.0,177.5C309.8,176.3 312.6,175.0 315.8,174.0C319.0,173.0 322.5,172.0 326.0,171.5C329.5,171.0 333.9,170.7 336.6,170.9C339.4,171.1 340.8,171.8 342.5,172.5C344.2,173.2 345.6,174.1 347.1,175.1C348.6,176.1 350.1,177.3 351.5,178.5C352.9,179.7 355.6,181.2 355.4,182.4C355.2,183.7 352.2,185.0 350.5,186.0C348.8,187.0 346.9,187.8 345.0,188.6C343.1,189.3 341.1,190.0 339.0,190.5C336.9,191.0 335.0,191.1 332.5,191.8C330.0,192.5 326.8,193.6 324.0,194.5C321.2,195.4 319.0,196.4 315.8,197.0C312.6,197.6 308.5,197.8 305.0,197.8C301.5,197.8 297.8,197.5 294.9,197.0C292.0,196.5 289.0,195.8 287.6,194.9C286.2,194.0 286.8,192.8 286.6,191.5C286.4,190.2 285.5,188.4 286.5,187.2Z" fill="rgb(157,29,6)" opacity="0.5" filter="url(#b2)"/><path d="M286.5,187.2C287.5,185.9 290.4,185.0 292.5,184.0C294.6,183.0 296.7,182.4 299.1,181.3C301.5,180.2 304.2,178.7 307.0,177.5C309.8,176.3 312.6,175.0 315.8,174.0C319.0,173.0 322.5,172.0 326.0,171.5C329.5,171.0 333.9,170.7 336.6,170.9C339.4,171.1 340.8,171.8 342.5,172.5C344.2,173.2 345.6,174.1 347.1,175.1C348.6,176.1 350.1,177.3 351.5,178.5C352.9,179.7 355.6,181.2 355.4,182.4C355.2,183.7 352.2,185.0 350.5,186.0C348.8,187.0 346.9,187.8 345.0,188.6C343.1,189.3 341.1,190.0 339.0,190.5C336.9,191.0 335.0,191.1 332.5,191.8C330.0,192.5 326.8,193.6 324.0,194.5C321.2,195.4 319.0,196.4 315.8,197.0C312.6,197.6 308.5,197.8 305.0,197.8C301.5,197.8 297.8,197.5 294.9,197.0C292.0,196.5 289.0,195.8 287.6,194.9C286.2,194.0 286.8,192.8 286.6,191.5C286.4,190.2 285.5,188.4 286.5,187.2Z" stroke="rgb(233,58,12)" stroke-width="1.0" filter="url(#b1)"/><path d="M294.0,185.2C295.5,184.8 299.9,183.4 302.8,182.4C305.8,181.4 308.7,180.3 311.7,179.4C314.7,178.4 317.8,177.6 320.9,176.9C324.0,176.2 327.1,175.5 330.2,175.2C333.3,174.9 336.6,174.7 339.6,175.2C342.6,175.7 346.7,177.7 348.1,178.2" stroke="rgb(210,48,10)" stroke-width="0.6" opacity="0.62" filter="url(#b1)"/><path d="M293.0,187.5C294.5,187.2 299.0,186.4 302.0,185.7C305.0,185.0 308.1,184.1 311.1,183.3C314.2,182.6 317.3,181.8 320.4,181.1C323.5,180.4 326.6,179.5 329.8,179.1C332.9,178.7 336.2,178.5 339.2,178.6C342.2,178.8 346.5,180.0 347.9,180.2" stroke="rgb(210,48,10)" stroke-width="0.6" opacity="0.62" filter="url(#b1)"/><path d="M292.0,189.7C293.6,189.6 298.1,189.4 301.2,189.0C304.3,188.6 307.4,187.9 310.5,187.3C313.7,186.7 316.8,186.0 319.9,185.3C323.1,184.6 326.2,183.6 329.3,183.1C332.5,182.5 335.7,182.2 338.8,182.0C341.8,181.9 346.2,182.3 347.7,182.3" stroke="rgb(210,48,10)" stroke-width="0.6" opacity="0.62" filter="url(#b1)"/><path d="M291.1,192.0C292.6,192.0 297.3,192.4 300.4,192.2C303.6,192.1 306.8,191.8 310.0,191.3C313.1,190.9 316.3,190.2 319.5,189.5C322.6,188.8 325.7,187.7 328.9,187.0C332.0,186.3 335.3,185.9 338.4,185.5C341.5,185.0 345.9,184.6 347.4,184.4" stroke="rgb(210,48,10)" stroke-width="0.6" opacity="0.62" filter="url(#b1)"/><path d="M290.2,194.0C291.8,194.2 296.5,195.0 299.7,195.2C302.9,195.3 306.2,195.2 309.4,194.8C312.7,194.5 315.9,194.0 319.1,193.3C322.2,192.6 325.3,191.3 328.5,190.5C331.6,189.7 334.9,189.2 338.0,188.5C341.1,187.8 345.7,186.6 347.2,186.2" stroke="rgb(210,48,10)" stroke-width="0.6" opacity="0.62" filter="url(#b1)"/></g>
<g fill="none"><path d="M281.3,242.9C281.6,241.2 282.5,238.3 284.4,236.7C286.3,235.1 289.3,233.5 292.8,233.5C296.3,233.5 300.8,235.6 305.3,236.7C309.8,237.8 315.9,238.8 319.9,239.8C323.8,240.9 326.2,241.8 329.0,243.0C331.8,244.2 334.4,245.8 336.6,247.1C338.8,248.4 340.6,249.8 342.0,251.0C343.4,252.2 344.2,253.3 345.0,254.4C345.8,255.5 347.2,256.8 346.7,257.5C346.2,258.2 343.7,258.2 342.0,258.4C340.3,258.6 338.9,258.6 336.6,258.6C334.3,258.6 330.8,258.5 328.0,258.3C325.2,258.1 322.9,257.8 319.9,257.5C316.9,257.2 313.1,257.1 310.0,256.7C306.9,256.3 304.7,256.1 301.1,255.4C297.5,254.7 291.7,253.7 288.6,252.3C285.5,250.9 283.6,248.7 282.4,247.1C281.2,245.5 281.0,244.6 281.3,242.9Z" fill="rgb(75,14,3)" opacity="0.28" filter="url(#b2)"/><path d="M281.3,242.9C281.6,241.2 282.5,238.3 284.4,236.7C286.3,235.1 289.3,233.5 292.8,233.5C296.3,233.5 300.8,235.6 305.3,236.7C309.8,237.8 315.9,238.8 319.9,239.8C323.8,240.9 326.2,241.8 329.0,243.0C331.8,244.2 334.4,245.8 336.6,247.1C338.8,248.4 340.6,249.8 342.0,251.0C343.4,252.2 344.2,253.3 345.0,254.4C345.8,255.5 347.2,256.8 346.7,257.5C346.2,258.2 343.7,258.2 342.0,258.4C340.3,258.6 338.9,258.6 336.6,258.6C334.3,258.6 330.8,258.5 328.0,258.3C325.2,258.1 322.9,257.8 319.9,257.5C316.9,257.2 313.1,257.1 310.0,256.7C306.9,256.3 304.7,256.1 301.1,255.4C297.5,254.7 291.7,253.7 288.6,252.3C285.5,250.9 283.6,248.7 282.4,247.1C281.2,245.5 281.0,244.6 281.3,242.9Z" stroke="rgb(111,28,6)" stroke-width="0.7" filter="url(#b1)"/><path d="M286.7,238.3C288.2,238.2 292.6,237.5 295.6,237.8C298.6,238.1 301.7,239.4 304.8,240.1C307.8,240.8 311.0,241.3 314.0,241.9C317.1,242.6 320.2,243.2 323.2,244.1C326.2,245.0 329.2,246.1 332.0,247.4C334.9,248.6 338.9,250.9 340.2,251.6" stroke="rgb(100,23,5)" stroke-width="0.6" opacity="0.62" filter="url(#b1)"/><path d="M286.5,240.9C288.0,241.0 292.2,240.8 295.2,241.3C298.1,241.7 301.2,242.8 304.3,243.5C307.3,244.2 310.4,244.6 313.4,245.2C316.5,245.8 319.6,246.3 322.5,247.1C325.5,247.8 328.5,248.8 331.4,249.8C334.2,250.8 338.3,252.6 339.7,253.1" stroke="rgb(100,23,5)" stroke-width="0.6" opacity="0.62" filter="url(#b1)"/><path d="M286.3,243.5C287.8,243.7 291.9,244.1 294.8,244.7C297.7,245.3 300.7,246.3 303.8,246.9C306.8,247.5 309.8,247.9 312.8,248.5C315.8,249.0 318.9,249.4 321.9,250.0C324.8,250.6 327.8,251.4 330.7,252.2C333.6,253.0 337.8,254.3 339.2,254.7" stroke="rgb(100,23,5)" stroke-width="0.6" opacity="0.62" filter="url(#b1)"/><path d="M286.2,246.0C287.5,246.4 291.6,247.5 294.4,248.2C297.3,248.9 300.3,249.7 303.2,250.3C306.2,250.9 309.2,251.3 312.2,251.7C315.2,252.2 318.2,252.5 321.2,253.0C324.2,253.4 327.1,254.1 330.0,254.6C332.9,255.1 337.3,255.9 338.7,256.2" stroke="rgb(100,23,5)" stroke-width="0.6" opacity="0.62" filter="url(#b1)"/><path d="M286.0,248.3C287.4,248.8 291.3,250.4 294.1,251.3C296.9,252.1 299.9,252.8 302.8,253.3C305.7,253.9 308.7,254.3 311.7,254.6C314.6,255.0 317.6,255.2 320.6,255.6C323.6,255.9 326.5,256.4 329.4,256.7C332.4,257.1 336.8,257.4 338.2,257.5" stroke="rgb(100,23,5)" stroke-width="0.6" opacity="0.62" filter="url(#b1)"/></g>
<text x="278.90" y="161.30" font-size="7.45" font-weight="bold" text-anchor="start" fill="#f23a44" stroke="#f23a44" stroke-width="0.15">MitoTracker Red</text>
<line x1="278.20" y1="213.80" x2="296.80" y2="213.80" stroke="#bbb" stroke-width="1.0"/>
<line x1="278.20" y1="278.30" x2="296.80" y2="278.30" stroke="#bbb" stroke-width="1.0"/>
<line x1="273.90" y1="154.80" x2="273.90" y2="212.30" stroke="#000" stroke-width="0.8"/>
<line x1="273.90" y1="219.30" x2="273.90" y2="276.70" stroke="#000" stroke-width="0.8"/>
<text x="271.00" y="185.00" font-size="7.3" text-anchor="middle" fill="#000" transform="rotate(-90 271.00 185.00)">CNT</text>
<text x="271.00" y="249.40" font-size="7.3" text-anchor="middle" fill="#000" transform="rotate(-90 271.00 249.40)">TM</text>
<text x="246.40" y="164.70" font-size="13" font-weight="bold" text-anchor="start" fill="#000">D</text>
<rect x="164.40" y="215.75" width="26.60" height="49.85" fill="#f03c46"/>
<line x1="177.70" y1="198.06" x2="177.70" y2="233.44" stroke="#222" stroke-width="0.5"/>
<line x1="170.90" y1="198.06" x2="184.50" y2="198.06" stroke="#222" stroke-width="0.5"/>
<line x1="170.90" y1="233.44" x2="184.50" y2="233.44" stroke="#222" stroke-width="0.5"/>
<circle cx="177.70" cy="175.15" r="1.3" fill="#000"/>
<circle cx="177.70" cy="193.24" r="1.3" fill="#000"/>
<circle cx="177.70" cy="197.26" r="1.3" fill="#000"/>
<circle cx="180.30" cy="208.11" r="1.3" fill="#000"/>
<circle cx="174.90" cy="209.32" r="1.3" fill="#000"/>
<circle cx="172.30" cy="214.14" r="1.3" fill="#000"/>
<circle cx="177.70" cy="217.36" r="1.3" fill="#000"/>
<circle cx="177.70" cy="221.38" r="1.3" fill="#000"/>
<circle cx="183.10" cy="222.59" r="1.3" fill="#000"/>
<circle cx="172.30" cy="224.19" r="1.3" fill="#000"/>
<circle cx="177.70" cy="229.42" r="1.3" fill="#000"/>
<circle cx="174.90" cy="231.43" r="1.3" fill="#000"/>
<circle cx="177.70" cy="235.45" r="1.3" fill="#000"/>
<circle cx="180.30" cy="237.46" r="1.3" fill="#000"/>
<circle cx="177.70" cy="241.48" r="1.3" fill="#000"/>
<rect x="205.20" y="251.93" width="26.70" height="13.67" fill="#3d84be"/>
<line x1="218.55" y1="248.72" x2="218.55" y2="255.15" stroke="#222" stroke-width="0.5"/>
<line x1="211.75" y1="248.72" x2="225.35" y2="248.72" stroke="#222" stroke-width="0.5"/>
<line x1="211.75" y1="255.15" x2="225.35" y2="255.15" stroke="#222" stroke-width="0.5"/>
<circle cx="210.05" cy="256.76" r="1.3" fill="#000"/>
<circle cx="210.05" cy="252.33" r="1.3" fill="#000"/>
<circle cx="210.05" cy="247.91" r="1.3" fill="#000"/>
<circle cx="213.05" cy="254.34" r="1.3" fill="#000"/>
<circle cx="213.05" cy="249.52" r="1.3" fill="#000"/>
<circle cx="215.55" cy="255.95" r="1.3" fill="#000"/>
<circle cx="215.55" cy="251.13" r="1.3" fill="#000"/>
<circle cx="215.55" cy="245.90" r="1.3" fill="#000"/>
<circle cx="218.55" cy="253.54" r="1.3" fill="#000"/>
<circle cx="218.55" cy="248.72" r="1.3" fill="#000"/>
<circle cx="221.55" cy="255.55" r="1.3" fill="#000"/>
<circle cx="221.55" cy="251.13" r="1.3" fill="#000"/>
<circle cx="221.55" cy="246.71" r="1.3" fill="#000"/>
<circle cx="224.05" cy="253.54" r="1.3" fill="#000"/>
<circle cx="224.05" cy="249.52" r="1.3" fill="#000"/>
<circle cx="226.55" cy="255.95" r="1.3" fill="#000"/>
<circle cx="226.55" cy="251.93" r="1.3" fill="#000"/>
<circle cx="226.55" cy="246.71" r="1.3" fill="#000"/>
<line x1="151.00" y1="164.80" x2="151.00" y2="265.90" stroke="#666" stroke-width="0.7"/>
<line x1="150.80" y1="265.60" x2="245.00" y2="265.60" stroke="#666" stroke-width="0.7"/>
<line x1="149.00" y1="265.60" x2="151.00" y2="265.60" stroke="#555" stroke-width="0.5"/>
<text x="148.60" y="268.10" font-size="7.8" font-weight="bold" text-anchor="end" fill="#000">0.0</text>
<line x1="149.00" y1="245.50" x2="151.00" y2="245.50" stroke="#555" stroke-width="0.5"/>
<text x="148.60" y="248.00" font-size="7.8" font-weight="bold" text-anchor="end" fill="#000">0.5</text>
<line x1="149.00" y1="225.40" x2="151.00" y2="225.40" stroke="#555" stroke-width="0.5"/>
<text x="148.60" y="227.90" font-size="7.8" font-weight="bold" text-anchor="end" fill="#000">1.0</text>
<line x1="149.00" y1="205.30" x2="151.00" y2="205.30" stroke="#555" stroke-width="0.5"/>
<text x="148.60" y="207.80" font-size="7.8" font-weight="bold" text-anchor="end" fill="#000">1.5</text>
<line x1="149.00" y1="185.20" x2="151.00" y2="185.20" stroke="#555" stroke-width="0.5"/>
<text x="148.60" y="187.70" font-size="7.8" font-weight="bold" text-anchor="end" fill="#000">2.0</text>
<line x1="149.00" y1="165.10" x2="151.00" y2="165.10" stroke="#555" stroke-width="0.5"/>
<text x="148.60" y="167.60" font-size="7.8" font-weight="bold" text-anchor="end" fill="#000">2.5</text>
<text x="135.30" y="216.30" font-size="9.8" font-weight="bold" text-anchor="middle" fill="#000" transform="rotate(-90 135.30 216.30)">IFI (AU)</text>
<polyline points="177.90,173.90 177.90,172.20 218.30,172.20" fill="none" stroke="#333" stroke-width="0.6"/>
<line x1="218.30" y1="172.20" x2="218.30" y2="246.60" stroke="#888" stroke-width="0.6"/>
<text x="198.00" y="173.20" font-size="7.2" font-weight="bold" text-anchor="middle" fill="#000">****</text>
<text x="177.20" y="276.30" font-size="8.6" font-weight="bold" text-anchor="middle" fill="#000">CNT</text>
<text x="218.30" y="276.30" font-size="8.6" font-weight="bold" text-anchor="middle" fill="#000">TM</text>
<rect x="397.20" y="204.63" width="27.10" height="60.97" fill="#f03c46"/>
<line x1="410.75" y1="191.23" x2="410.75" y2="218.03" stroke="#222" stroke-width="0.5"/>
<line x1="403.95" y1="191.23" x2="417.55" y2="191.23" stroke="#222" stroke-width="0.5"/>
<line x1="403.95" y1="218.03" x2="417.55" y2="218.03" stroke="#222" stroke-width="0.5"/>
<circle cx="410.75" cy="181.85" r="1.3" fill="#000"/>
<circle cx="407.95" cy="185.53" r="1.3" fill="#000"/>
<circle cx="413.35" cy="187.55" r="1.3" fill="#000"/>
<circle cx="407.95" cy="189.89" r="1.3" fill="#000"/>
<circle cx="410.75" cy="198.60" r="1.3" fill="#000"/>
<circle cx="410.75" cy="202.96" r="1.3" fill="#000"/>
<circle cx="407.95" cy="208.31" r="1.3" fill="#000"/>
<circle cx="413.35" cy="209.32" r="1.3" fill="#000"/>
<circle cx="402.55" cy="209.99" r="1.3" fill="#000"/>
<circle cx="418.75" cy="211.67" r="1.3" fill="#000"/>
<circle cx="402.55" cy="212.67" r="1.3" fill="#000"/>
<circle cx="407.95" cy="213.68" r="1.3" fill="#000"/>
<circle cx="413.35" cy="215.02" r="1.3" fill="#000"/>
<circle cx="410.75" cy="220.71" r="1.3" fill="#000"/>
<circle cx="410.75" cy="225.40" r="1.3" fill="#000"/>
<rect x="437.60" y="249.86" width="26.60" height="15.75" fill="#3d84be"/>
<line x1="450.90" y1="246.51" x2="450.90" y2="252.87" stroke="#222" stroke-width="0.5"/>
<line x1="444.10" y1="246.51" x2="457.70" y2="246.51" stroke="#222" stroke-width="0.5"/>
<line x1="444.10" y1="252.87" x2="457.70" y2="252.87" stroke="#222" stroke-width="0.5"/>
<circle cx="438.90" cy="253.54" r="1.3" fill="#000"/>
<circle cx="438.90" cy="250.19" r="1.3" fill="#000"/>
<circle cx="441.90" cy="252.20" r="1.3" fill="#000"/>
<circle cx="441.90" cy="247.18" r="1.3" fill="#000"/>
<circle cx="444.90" cy="253.54" r="1.3" fill="#000"/>
<circle cx="444.90" cy="249.52" r="1.3" fill="#000"/>
<circle cx="447.90" cy="251.53" r="1.3" fill="#000"/>
<circle cx="447.90" cy="246.17" r="1.3" fill="#000"/>
<circle cx="450.90" cy="243.49" r="1.3" fill="#000"/>
<circle cx="450.90" cy="253.54" r="1.3" fill="#000"/>
<circle cx="450.90" cy="249.86" r="1.3" fill="#000"/>
<circle cx="453.90" cy="252.20" r="1.3" fill="#000"/>
<circle cx="453.90" cy="248.18" r="1.3" fill="#000"/>
<circle cx="455.40" cy="244.16" r="1.3" fill="#000"/>
<circle cx="456.90" cy="253.54" r="1.3" fill="#000"/>
<circle cx="456.90" cy="250.19" r="1.3" fill="#000"/>
<circle cx="459.90" cy="251.53" r="1.3" fill="#000"/>
<circle cx="459.90" cy="247.18" r="1.3" fill="#000"/>
<circle cx="462.90" cy="253.54" r="1.3" fill="#000"/>
<circle cx="462.90" cy="250.19" r="1.3" fill="#000"/>
<line x1="383.80" y1="164.80" x2="383.80" y2="265.90" stroke="#666" stroke-width="0.7"/>
<line x1="383.60" y1="265.60" x2="478.40" y2="265.60" stroke="#666" stroke-width="0.7"/>
<line x1="381.80" y1="265.60" x2="383.80" y2="265.60" stroke="#555" stroke-width="0.5"/>
<text x="381.20" y="268.10" font-size="7.8" font-weight="bold" text-anchor="end" fill="#000">0</text>
<line x1="381.80" y1="232.10" x2="383.80" y2="232.10" stroke="#555" stroke-width="0.5"/>
<text x="381.20" y="234.60" font-size="7.8" font-weight="bold" text-anchor="end" fill="#000">1</text>
<line x1="381.80" y1="198.60" x2="383.80" y2="198.60" stroke="#555" stroke-width="0.5"/>
<text x="381.20" y="201.10" font-size="7.8" font-weight="bold" text-anchor="end" fill="#000">2</text>
<line x1="381.80" y1="165.10" x2="383.80" y2="165.10" stroke="#555" stroke-width="0.5"/>
<text x="381.20" y="167.60" font-size="7.8" font-weight="bold" text-anchor="end" fill="#000">3</text>
<text x="372.70" y="216.00" font-size="9.8" font-weight="bold" text-anchor="middle" fill="#000" transform="rotate(-90 372.70 216.00)">IFI (AU)</text>
<polyline points="410.70,180.00 410.70,178.20 451.10,178.20" fill="none" stroke="#333" stroke-width="0.6"/>
<line x1="451.10" y1="178.20" x2="451.10" y2="241.10" stroke="#888" stroke-width="0.6"/>
<text x="430.80" y="178.90" font-size="7.2" font-weight="bold" text-anchor="middle" fill="#000">****</text>
<text x="410.70" y="276.30" font-size="8.6" font-weight="bold" text-anchor="middle" fill="#000">CNT</text>
<text x="451.10" y="276.30" font-size="8.6" font-weight="bold" text-anchor="middle" fill="#000">TM</text>
<rect x="523.40" y="219.05" width="12.90" height="52.65" fill="#000" stroke="#000" stroke-width="0.5"/>
<line x1="529.85" y1="219.05" x2="529.85" y2="217.34" stroke="#000" stroke-width="0.6"/>
<line x1="526.65" y1="217.34" x2="533.05" y2="217.34" stroke="#000" stroke-width="0.6"/>
<rect x="543.37" y="211.42" width="12.90" height="60.28" fill="url(#ckK)" stroke="#000" stroke-width="0.5"/>
<line x1="549.82" y1="211.42" x2="549.82" y2="209.52" stroke="#000" stroke-width="0.6"/>
<line x1="546.62" y1="209.52" x2="553.02" y2="209.52" stroke="#000" stroke-width="0.6"/>
<rect x="563.34" y="225.92" width="12.90" height="45.78" fill="#dc2d8c" stroke="#b01870" stroke-width="0.5"/>
<line x1="569.79" y1="225.92" x2="569.79" y2="224.20" stroke="#b01870" stroke-width="0.6"/>
<line x1="566.59" y1="224.20" x2="572.99" y2="224.20" stroke="#b01870" stroke-width="0.6"/>
<rect x="583.31" y="228.59" width="12.90" height="43.11" fill="url(#ckM)" stroke="#d63a92" stroke-width="0.5"/>
<line x1="589.76" y1="228.59" x2="589.76" y2="227.06" stroke="#d63a92" stroke-width="0.6"/>
<line x1="586.56" y1="227.06" x2="592.96" y2="227.06" stroke="#d63a92" stroke-width="0.6"/>
<rect x="603.28" y="223.25" width="12.90" height="48.45" fill="#ec832c" stroke="#c96a18" stroke-width="0.5"/>
<line x1="609.73" y1="223.25" x2="609.73" y2="221.53" stroke="#c96a18" stroke-width="0.6"/>
<line x1="606.53" y1="221.53" x2="612.93" y2="221.53" stroke="#c96a18" stroke-width="0.6"/>
<rect x="623.25" y="226.68" width="12.90" height="45.02" fill="url(#ckO)" stroke="#e8923c" stroke-width="0.5"/>
<line x1="629.70" y1="226.68" x2="629.70" y2="225.35" stroke="#e8923c" stroke-width="0.6"/>
<line x1="626.50" y1="225.35" x2="632.90" y2="225.35" stroke="#e8923c" stroke-width="0.6"/>
<rect x="643.22" y="228.59" width="12.90" height="43.11" fill="#37a03a" stroke="#227a26" stroke-width="0.5"/>
<line x1="649.67" y1="228.59" x2="649.67" y2="227.26" stroke="#227a26" stroke-width="0.6"/>
<line x1="646.47" y1="227.26" x2="652.87" y2="227.26" stroke="#227a26" stroke-width="0.6"/>
<rect x="663.19" y="233.17" width="12.90" height="38.53" fill="url(#ckG)" stroke="#3fa23f" stroke-width="0.5"/>
<line x1="669.64" y1="233.17" x2="669.64" y2="232.02" stroke="#3fa23f" stroke-width="0.6"/>
<line x1="666.44" y1="232.02" x2="672.84" y2="232.02" stroke="#3fa23f" stroke-width="0.6"/>
<line x1="515.90" y1="195.10" x2="515.90" y2="272.00" stroke="#000" stroke-width="0.8"/>
<line x1="515.60" y1="271.70" x2="683.50" y2="271.70" stroke="#000" stroke-width="0.8"/>
<line x1="513.30" y1="271.70" x2="515.90" y2="271.70" stroke="#000" stroke-width="0.8"/>
<text x="512.60" y="274.40" font-size="7.8" font-weight="bold" text-anchor="end" fill="#000">0</text>
<line x1="513.30" y1="252.62" x2="515.90" y2="252.62" stroke="#000" stroke-width="0.8"/>
<text x="512.60" y="255.32" font-size="7.8" font-weight="bold" text-anchor="end" fill="#000">5</text>
<line x1="513.30" y1="233.55" x2="515.90" y2="233.55" stroke="#000" stroke-width="0.8"/>
<text x="512.60" y="236.25" font-size="7.8" font-weight="bold" text-anchor="end" fill="#000">10</text>
<line x1="513.30" y1="214.47" x2="515.90" y2="214.47" stroke="#000" stroke-width="0.8"/>
<text x="512.60" y="217.17" font-size="7.8" font-weight="bold" text-anchor="end" fill="#000">15</text>
<line x1="513.30" y1="195.40" x2="515.90" y2="195.40" stroke="#000" stroke-width="0.8"/>
<text x="512.60" y="198.10" font-size="7.8" font-weight="bold" text-anchor="end" fill="#000">20</text>
<line x1="514.40" y1="262.16" x2="515.90" y2="262.16" stroke="#000" stroke-width="0.7"/>
<line x1="514.40" y1="243.09" x2="515.90" y2="243.09" stroke="#000" stroke-width="0.7"/>
<line x1="514.40" y1="224.01" x2="515.90" y2="224.01" stroke="#000" stroke-width="0.7"/>
<line x1="514.40" y1="204.94" x2="515.90" y2="204.94" stroke="#000" stroke-width="0.7"/>
<line x1="539.84" y1="271.70" x2="539.84" y2="274.30" stroke="#000" stroke-width="0.8"/>
<line x1="579.78" y1="271.70" x2="579.78" y2="274.30" stroke="#000" stroke-width="0.8"/>
<line x1="619.72" y1="271.70" x2="619.72" y2="274.30" stroke="#000" stroke-width="0.8"/>
<line x1="659.65" y1="271.70" x2="659.65" y2="274.30" stroke="#000" stroke-width="0.8"/>
<text x="498.60" y="233.50" font-size="10.0" font-weight="bold" text-anchor="middle" fill="#000" transform="rotate(-90 498.60 233.50)">Mean Lifespan</text>
<text x="490.70" y="164.80" font-size="13" font-weight="bold" text-anchor="start" fill="#000">F</text>
<text x="539.70" y="283.40" font-size="9.0" font-weight="bold" text-anchor="middle" fill="#000">WT</text>
<text x="580.30" y="283.40" font-size="9.0" font-weight="bold" font-style="italic" text-anchor="middle" fill="#000">pek-1</text>
<text x="580.30" y="296.00" font-size="9.0" font-weight="bold" font-style="italic" text-anchor="middle" fill="#000">(ok275)</text>
<text x="619.60" y="283.40" font-size="9.0" font-weight="bold" font-style="italic" text-anchor="middle" fill="#000">atfs-1</text>
<text x="619.60" y="296.00" font-size="9.0" font-weight="bold" font-style="italic" text-anchor="middle" fill="#000">(tm4525)</text>
<text x="659.80" y="283.40" font-size="9.0" font-weight="bold" font-style="italic" text-anchor="middle" fill="#000">pek-1(-);</text>
<text x="659.80" y="296.00" font-size="9.0" font-weight="bold" font-style="italic" text-anchor="middle" fill="#000">atfs-1(-)</text>
<rect x="657.20" y="149.00" width="6.80" height="6.80" fill="#fff" stroke="#111" stroke-width="1.0"/>
<rect x="657.20" y="158.70" width="6.80" height="6.80" fill="url(#hatchL)" stroke="#222" stroke-width="1.0"/>
<text x="667.00" y="155.00" font-size="7.2" text-anchor="start" fill="#000">CNT</text>
<text x="667.00" y="164.70" font-size="7.2" text-anchor="start" fill="#000">TM</text>
<polyline points="529.40,207.30 529.40,159.50 650.00,159.50 650.00,171.40" fill="none" stroke="#222" stroke-width="0.6"/>
<text x="589.30" y="160.35" font-size="8.2" font-weight="bold" text-anchor="middle" fill="#000">***</text>
<polyline points="529.40,169.30 569.80,169.30 569.80,172.30" fill="none" stroke="#222" stroke-width="0.6"/>
<text x="549.40" y="170.15" font-size="8.2" font-weight="bold" text-anchor="middle" fill="#000">*</text>
<polyline points="549.40,207.30 549.40,175.90 670.00,175.90 670.00,211.80" fill="none" stroke="#222" stroke-width="0.6"/>
<text x="609.60" y="176.55" font-size="8.2" font-weight="bold" text-anchor="middle" fill="#000">****</text>
<polyline points="549.40,185.50 650.00,185.50 650.00,207.30" fill="none" stroke="#222" stroke-width="0.6"/>
<text x="599.10" y="186.15" font-size="8.2" font-weight="bold" text-anchor="middle" fill="#000">****</text>
<polyline points="549.40,194.50 629.70,194.50 629.70,211.80" fill="none" stroke="#222" stroke-width="0.6"/>
<text x="589.30" y="195.45" font-size="8.2" font-weight="bold" text-anchor="middle" fill="#000">****</text>
<polyline points="529.40,203.80 547.30,203.80 547.30,207.30" fill="none" stroke="#222" stroke-width="0.6"/>
<text x="539.30" y="204.75" font-size="8.2" font-weight="bold" text-anchor="middle" fill="#000">**</text>
<polyline points="551.00,207.30 551.00,203.80 589.30,203.80 589.30,225.30" fill="none" stroke="#222" stroke-width="0.6"/>
<text x="569.80" y="204.75" font-size="8.2" font-weight="bold" text-anchor="middle" fill="#000">****</text>
<polyline points="629.70,223.80 629.70,214.80 670.00,214.80 670.00,229.80" fill="none" stroke="#222" stroke-width="0.6"/>
<text x="650.00" y="215.75" font-size="8.2" font-weight="bold" text-anchor="middle" fill="#000">*</text>
<text x="7.00" y="306.30" font-size="13.2" font-weight="bold" text-anchor="start" fill="#000">G</text>
<rect x="14.50" y="314.70" width="72.50" height="53.80" fill="#000"/>
<rect x="14.50" y="371.50" width="72.50" height="53.90" fill="#000"/>
<rect x="90.00" y="314.70" width="71.70" height="53.80" fill="#000"/>
<rect x="90.00" y="371.50" width="71.70" height="53.90" fill="#000"/>
<rect x="165.20" y="314.70" width="72.50" height="53.80" fill="#000"/>
<rect x="165.20" y="371.50" width="72.50" height="53.90" fill="#000"/>
<rect x="240.50" y="314.70" width="72.50" height="53.80" fill="#000"/>
<rect x="240.50" y="371.50" width="72.50" height="53.90" fill="#000"/>
<text x="51.90" y="309.20" font-size="10" text-anchor="middle" fill="#000">WT</text>
<text x="126.40" y="309.20" font-size="10.2" text-anchor="middle" fill="#000">pek-1 (ok275)</text>
<text x="201.60" y="309.20" font-size="10.2" text-anchor="middle" fill="#000">atfs-1 (tm4525)</text>
<text x="276.30" y="309.20" font-size="10.2" text-anchor="middle" fill="#000">pek-1(-);atfs-1(-)</text>
<line x1="15.90" y1="312.40" x2="84.20" y2="312.40" stroke="#222" stroke-width="0.8"/>
<line x1="91.20" y1="312.40" x2="160.50" y2="312.40" stroke="#222" stroke-width="0.8"/>
<line x1="166.80" y1="312.40" x2="236.50" y2="312.40" stroke="#222" stroke-width="0.8"/>
<line x1="241.70" y1="312.40" x2="312.30" y2="312.40" stroke="#222" stroke-width="0.8"/>
<line x1="11.20" y1="316.60" x2="11.20" y2="365.70" stroke="#222" stroke-width="0.8"/>
<line x1="11.20" y1="373.90" x2="11.20" y2="423.00" stroke="#222" stroke-width="0.8"/>
<text x="8.70" y="342.30" font-size="10" text-anchor="middle" fill="#000" transform="rotate(-90 8.70 342.30)">CNT</text>
<text x="8.70" y="396.60" font-size="10" text-anchor="middle" fill="#000" transform="rotate(-90 8.70 396.60)">TM</text>
<text x="15.90" y="323.30" font-size="7.45" font-weight="bold" text-anchor="start" fill="#f23a44" stroke="#f23a44" stroke-width="0.15">MitoTracker Red</text>
<line x1="16.00" y1="367.30" x2="31.70" y2="367.30" stroke="#e4e4e4" stroke-width="1.0"/>
<line x1="16.00" y1="423.00" x2="31.70" y2="423.00" stroke="#f4f4f4" stroke-width="1.1"/>
<line x1="91.50" y1="367.30" x2="107.20" y2="367.30" stroke="#e4e4e4" stroke-width="1.0"/>
<line x1="91.50" y1="423.00" x2="107.20" y2="423.00" stroke="#f4f4f4" stroke-width="1.1"/>
<line x1="166.70" y1="367.30" x2="182.40" y2="367.30" stroke="#e4e4e4" stroke-width="1.0"/>
<line x1="166.70" y1="423.00" x2="182.40" y2="423.00" stroke="#f4f4f4" stroke-width="1.1"/>
<line x1="242.00" y1="367.30" x2="257.70" y2="367.30" stroke="#e4e4e4" stroke-width="1.0"/>
<line x1="242.00" y1="423.00" x2="257.70" y2="423.00" stroke="#f4f4f4" stroke-width="1.1"/>
<g fill="none"><path d="M27.2,348.9C27.9,347.5 31.2,344.9 34.3,343.3C37.3,341.7 41.4,340.3 45.5,339.3C49.6,338.3 54.8,337.5 58.9,337.2C63.0,336.9 67.1,337.3 70.1,337.7C73.1,338.1 75.9,338.5 76.8,339.5C77.7,340.5 76.3,342.1 75.2,343.7C74.1,345.3 72.8,347.3 70.1,348.9C67.4,350.5 62.6,352.2 58.9,353.3C55.2,354.4 51.4,355.4 47.7,355.6C44.0,355.8 39.6,355.0 36.6,354.4C33.6,353.8 31.5,352.7 29.9,351.8C28.3,350.9 26.5,350.3 27.2,348.9Z" fill="rgb(135,25,5)" opacity="0.5" filter="url(#b2)"/><path d="M27.2,348.9C27.9,347.5 31.2,344.9 34.3,343.3C37.3,341.7 41.4,340.3 45.5,339.3C49.6,338.3 54.8,337.5 58.9,337.2C63.0,336.9 67.1,337.3 70.1,337.7C73.1,338.1 75.9,338.5 76.8,339.5C77.7,340.5 76.3,342.1 75.2,343.7C74.1,345.3 72.8,347.3 70.1,348.9C67.4,350.5 62.6,352.2 58.9,353.3C55.2,354.4 51.4,355.4 47.7,355.6C44.0,355.8 39.6,355.0 36.6,354.4C33.6,353.8 31.5,352.7 29.9,351.8C28.3,350.9 26.5,350.3 27.2,348.9Z" stroke="rgb(199,50,10)" stroke-width="0.85" filter="url(#b1)"/><path d="M32.5,346.5C33.5,346.1 36.4,345.1 38.5,344.5C40.6,343.9 42.7,343.3 44.9,342.9C47.1,342.4 49.3,342.0 51.5,341.6C53.7,341.2 55.9,340.7 58.1,340.5C60.3,340.2 62.5,340.1 64.6,339.9C66.8,339.7 70.0,339.5 71.0,339.4" stroke="rgb(180,41,9)" stroke-width="0.6" opacity="0.62" filter="url(#b1)"/><path d="M32.6,348.1C33.6,347.9 36.7,347.4 38.8,347.0C41.0,346.7 43.2,346.4 45.4,346.0C47.6,345.7 49.9,345.2 52.1,344.8C54.3,344.4 56.6,343.9 58.8,343.5C61.0,343.1 63.3,342.8 65.4,342.4C67.5,342.0 70.6,341.2 71.6,340.9" stroke="rgb(180,41,9)" stroke-width="0.6" opacity="0.62" filter="url(#b1)"/><path d="M32.7,349.7C33.8,349.7 37.0,349.7 39.2,349.6C41.4,349.5 43.7,349.5 45.9,349.2C48.2,348.9 50.5,348.4 52.7,348.0C55.0,347.5 57.3,347.0 59.5,346.5C61.7,346.0 64.0,345.5 66.2,344.9C68.3,344.2 71.2,342.9 72.2,342.5" stroke="rgb(180,41,9)" stroke-width="0.6" opacity="0.62" filter="url(#b1)"/><path d="M32.8,351.3C33.9,351.5 37.2,352.0 39.5,352.2C41.8,352.4 44.1,352.5 46.5,352.4C48.8,352.2 51.1,351.6 53.4,351.1C55.7,350.7 58.0,350.1 60.2,349.5C62.5,348.9 64.8,348.3 66.9,347.4C69.0,346.5 71.8,344.6 72.7,344.1" stroke="rgb(180,41,9)" stroke-width="0.6" opacity="0.62" filter="url(#b1)"/></g>
<g fill="none"><path d="M24.3,398.0C25.4,396.7 28.6,394.7 32.1,393.5C35.6,392.3 40.7,390.9 45.5,390.6C50.3,390.4 56.8,390.9 61.1,392.0C65.4,393.1 68.8,394.6 71.2,396.9C73.6,399.2 76.3,403.6 75.7,405.8C75.1,408.0 71.7,409.3 67.8,410.3C63.9,411.3 57.4,411.8 52.2,411.8C47.0,411.8 40.7,411.3 36.6,410.3C32.5,409.3 29.5,407.3 27.6,405.8C25.7,404.3 25.9,402.6 25.4,401.3C24.8,400.0 23.2,399.3 24.3,398.0Z" fill="rgb(150,28,6)" opacity="0.75" filter="url(#b2)"/><path d="M24.3,398.0C25.4,396.7 28.6,394.7 32.1,393.5C35.6,392.3 40.7,390.9 45.5,390.6C50.3,390.4 56.8,390.9 61.1,392.0C65.4,393.1 68.8,394.6 71.2,396.9C73.6,399.2 76.3,403.6 75.7,405.8C75.1,408.0 71.7,409.3 67.8,410.3C63.9,411.3 57.4,411.8 52.2,411.8C47.0,411.8 40.7,411.3 36.6,410.3C32.5,409.3 29.5,407.3 27.6,405.8C25.7,404.3 25.9,402.6 25.4,401.3C24.8,400.0 23.2,399.3 24.3,398.0Z" stroke="rgb(222,56,12)" stroke-width="0.85" filter="url(#b1)"/><path d="M30.2,395.9C31.4,395.7 34.8,395.1 37.2,394.7C39.5,394.3 41.9,393.7 44.4,393.7C46.8,393.6 49.3,394.1 51.8,394.2C54.3,394.4 56.8,394.4 59.2,394.8C61.6,395.3 64.0,396.2 66.1,397.2C68.2,398.1 70.9,400.1 71.9,400.7" stroke="rgb(200,46,10)" stroke-width="0.6" opacity="0.62" filter="url(#b1)"/><path d="M29.7,397.4C30.8,397.4 34.1,397.3 36.5,397.2C38.8,397.0 41.2,396.6 43.6,396.7C46.1,396.7 48.6,397.1 51.0,397.3C53.5,397.5 56.0,397.4 58.4,397.8C60.8,398.2 63.2,398.8 65.4,399.6C67.6,400.3 70.4,401.8 71.4,402.2" stroke="rgb(200,46,10)" stroke-width="0.6" opacity="0.62" filter="url(#b1)"/><path d="M29.1,399.0C30.2,399.1 33.5,399.5 35.8,399.6C38.1,399.7 40.5,399.5 42.9,399.7C45.3,399.8 47.8,400.1 50.3,400.3C52.7,400.5 55.2,400.5 57.7,400.7C60.1,401.0 62.5,401.5 64.7,402.0C66.9,402.5 69.9,403.5 71.0,403.8" stroke="rgb(200,46,10)" stroke-width="0.6" opacity="0.62" filter="url(#b1)"/><path d="M28.6,400.6C29.6,400.8 32.8,401.7 35.1,402.1C37.3,402.4 39.7,402.4 42.1,402.7C44.6,402.9 47.1,403.1 49.5,403.3C52.0,403.5 54.5,403.5 56.9,403.7C59.3,403.9 61.7,404.1 64.0,404.4C66.3,404.7 69.4,405.2 70.5,405.3" stroke="rgb(200,46,10)" stroke-width="0.6" opacity="0.62" filter="url(#b1)"/><path d="M28.0,402.2C29.1,402.6 32.1,403.9 34.4,404.5C36.6,405.1 39.0,405.4 41.4,405.7C43.8,406.0 46.3,406.2 48.8,406.3C51.2,406.5 53.7,406.6 56.1,406.6C58.5,406.7 61.0,406.8 63.3,406.8C65.6,406.9 68.9,406.9 70.1,406.9" stroke="rgb(200,46,10)" stroke-width="0.6" opacity="0.62" filter="url(#b1)"/><path d="M27.5,403.7C28.5,404.3 31.5,406.1 33.7,407.0C35.9,407.8 38.3,408.3 40.7,408.6C43.0,409.0 45.5,409.2 48.0,409.3C50.4,409.5 52.9,409.6 55.3,409.6C57.8,409.6 60.3,409.4 62.6,409.2C65.0,409.0 68.4,408.6 69.6,408.4" stroke="rgb(200,46,10)" stroke-width="0.6" opacity="0.62" filter="url(#b1)"/></g>
<g fill="none"><path d="M103.1,348.9C103.6,346.9 105.3,342.5 108.0,339.9C110.7,337.3 115.1,334.8 119.2,333.2C123.3,331.6 128.3,330.6 132.6,330.3C136.9,330.1 143.0,330.1 144.9,331.7C146.8,333.3 145.5,337.4 144.2,339.9C142.9,342.4 140.1,344.7 137.1,346.6C134.1,348.5 130.0,350.1 125.9,351.1C121.8,352.1 116.0,352.6 112.5,352.7C109.0,352.8 106.3,352.4 104.7,351.8C103.1,351.2 102.5,350.9 103.1,348.9Z" fill="rgb(132,24,5)" opacity="0.45" filter="url(#b2)"/><path d="M103.1,348.9C103.6,346.9 105.3,342.5 108.0,339.9C110.7,337.3 115.1,334.8 119.2,333.2C123.3,331.6 128.3,330.6 132.6,330.3C136.9,330.1 143.0,330.1 144.9,331.7C146.8,333.3 145.5,337.4 144.2,339.9C142.9,342.4 140.1,344.7 137.1,346.6C134.1,348.5 130.0,350.1 125.9,351.1C121.8,352.1 116.0,352.6 112.5,352.7C109.0,352.8 106.3,352.4 104.7,351.8C103.1,351.2 102.5,350.9 103.1,348.9Z" stroke="rgb(195,49,10)" stroke-width="0.85" filter="url(#b1)"/><path d="M106.5,345.2C107.2,344.6 109.2,342.6 110.8,341.5C112.5,340.5 114.6,339.7 116.4,338.8C118.3,338.0 120.2,337.0 122.1,336.3C124.1,335.7 126.2,335.3 128.2,334.8C130.2,334.2 132.2,333.4 134.2,333.0C136.1,332.6 138.9,332.6 139.9,332.5" stroke="rgb(176,40,8)" stroke-width="0.6" opacity="0.62" filter="url(#b1)"/><path d="M106.9,347.0C107.7,346.5 110.1,345.1 111.9,344.3C113.7,343.4 115.8,342.8 117.8,342.0C119.7,341.3 121.7,340.5 123.7,339.8C125.7,339.1 127.9,338.7 129.9,338.0C131.9,337.3 133.8,336.3 135.7,335.6C137.5,335.0 140.1,334.3 141.0,334.0" stroke="rgb(176,40,8)" stroke-width="0.6" opacity="0.62" filter="url(#b1)"/><path d="M107.3,348.7C108.3,348.4 111.0,347.6 112.9,347.0C114.9,346.4 117.1,345.8 119.1,345.2C121.2,344.6 123.2,343.9 125.3,343.2C127.3,342.5 129.5,342.0 131.5,341.2C133.5,340.3 135.4,339.2 137.2,338.3C139.0,337.4 141.3,336.0 142.1,335.5" stroke="rgb(176,40,8)" stroke-width="0.6" opacity="0.62" filter="url(#b1)"/><path d="M107.8,350.5C108.8,350.3 111.8,350.0 114.0,349.7C116.1,349.3 118.3,348.9 120.5,348.4C122.6,347.9 124.7,347.3 126.8,346.7C128.9,346.0 131.1,345.3 133.1,344.4C135.1,343.4 137.0,342.2 138.7,341.0C140.4,339.7 142.5,337.7 143.2,337.0" stroke="rgb(176,40,8)" stroke-width="0.6" opacity="0.62" filter="url(#b1)"/></g>
<g fill="none"><path d="M105.4,406.9C105.8,405.0 107.6,400.4 110.3,398.0C113.0,395.6 117.3,393.6 121.4,392.4C125.5,391.2 130.8,390.3 134.9,390.6C139.0,390.9 143.4,392.9 146.0,394.2C148.6,395.5 150.9,396.9 150.5,398.7C150.1,400.4 146.8,403.1 143.8,404.7C140.8,406.2 136.7,407.1 132.6,408.0C128.5,408.9 123.3,409.5 119.2,409.8C115.1,410.1 110.3,410.1 108.0,409.6C105.7,409.1 105.0,408.8 105.4,406.9Z" fill="rgb(122,22,4)" opacity="0.5" filter="url(#b2)"/><path d="M105.4,406.9C105.8,405.0 107.6,400.4 110.3,398.0C113.0,395.6 117.3,393.6 121.4,392.4C125.5,391.2 130.8,390.3 134.9,390.6C139.0,390.9 143.4,392.9 146.0,394.2C148.6,395.5 150.9,396.9 150.5,398.7C150.1,400.4 146.8,403.1 143.8,404.7C140.8,406.2 136.7,407.1 132.6,408.0C128.5,408.9 123.3,409.5 119.2,409.8C115.1,410.1 110.3,410.1 108.0,409.6C105.7,409.1 105.0,408.8 105.4,406.9Z" stroke="rgb(182,45,9)" stroke-width="0.85" filter="url(#b1)"/><path d="M109.0,402.7C109.8,402.1 112.1,400.1 114.0,399.1C115.8,398.1 118.0,397.3 120.0,396.6C122.1,395.9 124.3,395.5 126.5,395.1C128.6,394.7 130.9,394.3 133.0,394.2C135.2,394.1 137.3,394.4 139.5,394.7C141.6,395.0 144.6,395.6 145.7,395.8" stroke="rgb(164,37,8)" stroke-width="0.6" opacity="0.62" filter="url(#b1)"/><path d="M109.4,404.4C110.2,404.0 112.7,402.6 114.6,401.8C116.5,401.0 118.6,400.3 120.7,399.8C122.8,399.2 124.9,398.9 127.0,398.5C129.2,398.1 131.3,397.7 133.5,397.5C135.6,397.3 137.7,397.4 139.7,397.4C141.8,397.5 144.7,397.5 145.7,397.6" stroke="rgb(164,37,8)" stroke-width="0.6" opacity="0.62" filter="url(#b1)"/><path d="M109.7,406.2C110.6,405.9 113.3,405.0 115.3,404.4C117.2,403.9 119.3,403.4 121.3,403.0C123.4,402.5 125.5,402.2 127.6,401.8C129.7,401.5 131.8,401.1 133.9,400.8C136.0,400.5 138.1,400.4 140.0,400.2C142.0,399.9 144.8,399.5 145.8,399.3" stroke="rgb(164,37,8)" stroke-width="0.6" opacity="0.62" filter="url(#b1)"/><path d="M110.0,407.9C111.0,407.8 113.9,407.4 115.9,407.1C117.9,406.8 120.0,406.5 122.0,406.2C124.0,405.8 126.1,405.5 128.2,405.2C130.2,404.8 132.3,404.5 134.3,404.1C136.4,403.7 138.4,403.4 140.3,402.9C142.3,402.4 144.9,401.4 145.9,401.1" stroke="rgb(164,37,8)" stroke-width="0.6" opacity="0.62" filter="url(#b1)"/></g>
<g fill="none"><path d="M172.8,336.9C173.6,335.6 175.4,333.5 178.7,332.2C182.0,330.9 188.0,329.6 192.7,329.2C197.4,328.8 202.6,329.0 206.7,329.9C210.8,330.8 214.8,332.9 217.2,334.5C219.6,336.1 221.4,337.4 221.2,339.2C221.0,340.9 218.9,343.4 216.1,345.0C213.3,346.6 208.7,348.1 204.4,348.5C200.1,348.9 194.5,348.2 190.4,347.4C186.3,346.6 182.6,345.1 179.9,343.9C177.2,342.6 175.2,341.1 174.0,339.9C172.8,338.7 172.0,338.2 172.8,336.9Z" fill="rgb(75,14,3)" opacity="0.4" filter="url(#b2)"/><path d="M172.8,336.9C173.6,335.6 175.4,333.5 178.7,332.2C182.0,330.9 188.0,329.6 192.7,329.2C197.4,328.8 202.6,329.0 206.7,329.9C210.8,330.8 214.8,332.9 217.2,334.5C219.6,336.1 221.4,337.4 221.2,339.2C221.0,340.9 218.9,343.4 216.1,345.0C213.3,346.6 208.7,348.1 204.4,348.5C200.1,348.9 194.5,348.2 190.4,347.4C186.3,346.6 182.6,345.1 179.9,343.9C177.2,342.6 175.2,341.1 174.0,339.9C172.8,338.7 172.0,338.2 172.8,336.9Z" stroke="rgb(111,28,6)" stroke-width="0.75" filter="url(#b1)"/><path d="M177.8,334.6C178.9,334.4 182.0,334.0 184.2,333.8C186.3,333.5 188.5,333.2 190.7,333.1C192.9,333.0 195.2,333.1 197.4,333.1C199.6,333.2 201.9,333.3 204.1,333.5C206.3,333.8 208.4,334.2 210.5,334.6C212.6,335.1 215.7,336.0 216.7,336.3" stroke="rgb(100,23,5)" stroke-width="0.6" opacity="0.62" filter="url(#b1)"/><path d="M177.6,336.4C178.7,336.5 181.8,336.6 183.9,336.6C186.1,336.6 188.3,336.6 190.5,336.6C192.7,336.7 195.0,336.7 197.2,336.8C199.5,336.9 201.8,337.1 204.0,337.2C206.2,337.4 208.3,337.5 210.5,337.7C212.6,337.8 215.6,338.2 216.7,338.3" stroke="rgb(100,23,5)" stroke-width="0.6" opacity="0.62" filter="url(#b1)"/><path d="M177.4,338.3C178.5,338.5 181.6,339.1 183.7,339.4C185.8,339.7 188.0,340.0 190.2,340.1C192.5,340.3 194.8,340.4 197.0,340.5C199.3,340.7 201.6,340.9 203.8,341.0C206.1,341.0 208.2,340.8 210.4,340.7C212.5,340.6 215.6,340.4 216.7,340.4" stroke="rgb(100,23,5)" stroke-width="0.6" opacity="0.62" filter="url(#b1)"/><path d="M177.3,340.1C178.3,340.5 181.3,341.6 183.5,342.2C185.6,342.8 187.8,343.3 190.0,343.7C192.2,344.0 194.6,344.0 196.8,344.2C199.1,344.4 201.5,344.8 203.7,344.7C205.9,344.6 208.1,344.1 210.3,343.7C212.5,343.3 215.6,342.6 216.6,342.4" stroke="rgb(100,23,5)" stroke-width="0.6" opacity="0.62" filter="url(#b1)"/></g>
<g fill="none"><path d="M178.2,399.9C178.6,398.1 182.1,395.9 185.7,394.6C189.3,393.3 195.0,392.4 199.7,392.2C204.4,392.0 210.3,392.8 213.7,393.6C217.1,394.4 219.1,395.8 220.3,396.9C221.6,397.9 221.7,398.6 221.2,399.9C220.7,401.2 219.6,403.2 217.2,404.6C214.8,406.0 210.8,407.5 206.7,408.1C202.6,408.7 196.6,408.6 192.7,408.1C188.8,407.6 185.8,406.7 183.4,405.3C181.0,403.9 177.8,401.7 178.2,399.9Z" fill="rgb(75,14,3)" opacity="0.4" filter="url(#b2)"/><path d="M178.2,399.9C178.6,398.1 182.1,395.9 185.7,394.6C189.3,393.3 195.0,392.4 199.7,392.2C204.4,392.0 210.3,392.8 213.7,393.6C217.1,394.4 219.1,395.8 220.3,396.9C221.6,397.9 221.7,398.6 221.2,399.9C220.7,401.2 219.6,403.2 217.2,404.6C214.8,406.0 210.8,407.5 206.7,408.1C202.6,408.7 196.6,408.6 192.7,408.1C188.8,407.6 185.8,406.7 183.4,405.3C181.0,403.9 177.8,401.7 178.2,399.9Z" stroke="rgb(111,28,6)" stroke-width="0.75" filter="url(#b1)"/><path d="M182.9,398.4C183.8,398.2 186.4,397.5 188.3,397.3C190.2,397.0 192.2,397.0 194.2,396.9C196.2,396.7 198.2,396.3 200.1,396.2C202.1,396.2 204.2,396.6 206.1,396.7C208.1,396.7 210.1,396.5 212.1,396.7C214.0,396.9 216.7,397.7 217.6,397.8" stroke="rgb(100,23,5)" stroke-width="0.6" opacity="0.62" filter="url(#b1)"/><path d="M182.7,400.4C183.6,400.4 186.3,400.3 188.1,400.4C190.0,400.4 192.0,400.6 194.0,400.6C196.0,400.6 198.0,400.2 200.0,400.2C202.0,400.2 204.0,400.5 206.0,400.5C208.0,400.4 210.0,400.0 211.9,400.0C213.8,399.9 216.6,400.0 217.5,400.1" stroke="rgb(100,23,5)" stroke-width="0.6" opacity="0.62" filter="url(#b1)"/><path d="M182.6,402.3C183.5,402.5 186.1,403.2 188.0,403.5C189.9,403.8 191.9,404.2 193.8,404.4C195.8,404.5 197.9,404.2 199.9,404.1C201.9,404.1 203.9,404.4 205.9,404.3C207.9,404.1 209.8,403.6 211.7,403.2C213.6,402.9 216.4,402.4 217.4,402.3" stroke="rgb(100,23,5)" stroke-width="0.6" opacity="0.62" filter="url(#b1)"/></g>
<g fill="none"><path d="M254.6,342.7C255.2,341.5 259.1,340.0 262.8,339.2C266.5,338.4 272.1,337.8 276.8,337.6C281.5,337.4 287.2,337.8 290.8,338.0C294.4,338.2 297.3,338.2 298.3,339.0C299.3,339.8 297.9,341.1 296.7,342.7C295.4,344.3 293.7,346.9 290.8,348.5C287.9,350.1 283.0,351.8 279.1,352.0C275.2,352.2 270.8,350.7 267.5,349.7C264.2,348.7 261.4,347.4 259.3,346.2C257.2,345.0 254.0,343.9 254.6,342.7Z" fill="rgb(90,16,3)" opacity="0.4" filter="url(#b2)"/><path d="M254.6,342.7C255.2,341.5 259.1,340.0 262.8,339.2C266.5,338.4 272.1,337.8 276.8,337.6C281.5,337.4 287.2,337.8 290.8,338.0C294.4,338.2 297.3,338.2 298.3,339.0C299.3,339.8 297.9,341.1 296.7,342.7C295.4,344.3 293.7,346.9 290.8,348.5C287.9,350.1 283.0,351.8 279.1,352.0C275.2,352.2 270.8,350.7 267.5,349.7C264.2,348.7 261.4,347.4 259.3,346.2C257.2,345.0 254.0,343.9 254.6,342.7Z" stroke="rgb(133,33,7)" stroke-width="0.75" filter="url(#b1)"/><path d="M259.7,342.0C260.6,341.9 263.3,341.5 265.2,341.4C267.0,341.3 269.0,341.4 270.9,341.4C272.8,341.3 274.7,341.3 276.6,341.2C278.5,341.1 280.4,341.0 282.3,340.9C284.2,340.8 286.2,340.8 288.0,340.6C289.8,340.4 292.4,339.9 293.3,339.8" stroke="rgb(120,27,6)" stroke-width="0.6" opacity="0.62" filter="url(#b1)"/><path d="M259.8,343.5C260.7,343.5 263.4,343.8 265.3,343.9C267.2,344.1 269.2,344.3 271.2,344.4C273.1,344.6 275.1,344.8 277.1,344.7C279.0,344.7 281.0,344.3 282.9,344.1C284.9,343.9 287.0,343.7 288.8,343.3C290.6,342.8 293.0,341.6 293.9,341.3" stroke="rgb(120,27,6)" stroke-width="0.6" opacity="0.62" filter="url(#b1)"/><path d="M259.8,344.9C260.7,345.2 263.5,346.0 265.5,346.4C267.5,346.9 269.5,347.2 271.5,347.5C273.5,347.8 275.6,348.3 277.6,348.3C279.6,348.2 281.6,347.7 283.6,347.3C285.6,346.9 287.8,346.7 289.6,346.0C291.4,345.2 293.6,343.4 294.5,342.8" stroke="rgb(120,27,6)" stroke-width="0.6" opacity="0.62" filter="url(#b1)"/></g>
<g fill="none"><path d="M258.1,406.9C258.1,405.4 258.1,402.2 259.3,399.9C260.5,397.6 262.6,394.8 265.1,392.9C267.6,391.0 271.4,389.3 274.5,388.3C277.6,387.3 281.6,386.8 283.8,387.1C286.1,387.4 287.6,388.5 288.0,389.9C288.4,391.3 287.4,393.5 286.1,395.3C284.8,397.1 282.6,398.9 280.3,400.6C278.0,402.4 274.8,404.4 272.1,405.8C269.4,407.2 266.0,408.8 263.9,409.3C261.8,409.8 260.3,409.0 259.3,408.6C258.3,408.2 258.1,408.3 258.1,406.9Z" fill="rgb(82,15,3)" opacity="0.35" filter="url(#b2)"/><path d="M258.1,406.9C258.1,405.4 258.1,402.2 259.3,399.9C260.5,397.6 262.6,394.8 265.1,392.9C267.6,391.0 271.4,389.3 274.5,388.3C277.6,387.3 281.6,386.8 283.8,387.1C286.1,387.4 287.6,388.5 288.0,389.9C288.4,391.3 287.4,393.5 286.1,395.3C284.8,397.1 282.6,398.9 280.3,400.6C278.0,402.4 274.8,404.4 272.1,405.8C269.4,407.2 266.0,408.8 263.9,409.3C261.8,409.8 260.3,409.0 259.3,408.6C258.3,408.2 258.1,408.3 258.1,406.9Z" stroke="rgb(122,30,6)" stroke-width="0.75" filter="url(#b1)"/><path d="M259.7,403.6C260.2,403.0 261.6,401.3 262.7,400.1C263.7,399.0 264.9,397.7 266.2,396.7C267.6,395.7 269.1,395.0 270.6,394.2C272.1,393.4 273.5,392.5 275.1,391.8C276.6,391.2 278.2,390.8 279.7,390.3C281.3,389.8 283.6,389.2 284.4,389.0" stroke="rgb(110,25,5)" stroke-width="0.6" opacity="0.62" filter="url(#b1)"/><path d="M260.5,405.4C261.1,405.0 262.8,403.7 264.0,402.8C265.2,401.9 266.5,400.8 267.9,399.9C269.2,399.0 270.7,398.2 272.2,397.4C273.6,396.6 275.1,395.7 276.5,394.9C278.0,394.2 279.5,393.6 280.9,392.9C282.3,392.2 284.4,391.1 285.0,390.8" stroke="rgb(110,25,5)" stroke-width="0.6" opacity="0.62" filter="url(#b1)"/><path d="M261.3,407.2C262.0,406.9 264.0,406.2 265.3,405.5C266.7,404.8 268.1,403.9 269.5,403.0C270.9,402.2 272.3,401.4 273.7,400.6C275.2,399.7 276.6,398.9 278.0,398.0C279.4,397.2 280.7,396.3 282.0,395.4C283.3,394.5 285.1,393.1 285.7,392.6" stroke="rgb(110,25,5)" stroke-width="0.6" opacity="0.62" filter="url(#b1)"/></g>
<rect x="339.20" y="397.31" width="11.70" height="21.69" fill="#6e6e6e" stroke="#555" stroke-width="0.4"/>
<rect x="356.30" y="369.20" width="11.70" height="49.80" fill="url(#ckGray)" stroke="#777" stroke-width="0.4"/>
<rect x="385.20" y="396.51" width="11.70" height="22.49" fill="#dc2d9c" stroke="#b01870" stroke-width="0.4"/>
<rect x="402.30" y="402.67" width="11.70" height="16.33" fill="url(#ckM)" stroke="#d63a92" stroke-width="0.4"/>
<rect x="430.80" y="405.61" width="11.70" height="13.39" fill="#ec832c" stroke="#c96a18" stroke-width="0.4"/>
<rect x="447.90" y="412.57" width="11.70" height="6.43" fill="url(#ckO)" stroke="#e8923c" stroke-width="0.4"/>
<rect x="476.40" y="407.75" width="11.70" height="11.25" fill="#37a03a" stroke="#227a26" stroke-width="0.4"/>
<rect x="493.50" y="412.57" width="11.70" height="6.43" fill="url(#ckG)" stroke="#3fa23f" stroke-width="0.4"/>
<line x1="333.60" y1="311.60" x2="333.60" y2="419.30" stroke="#444" stroke-width="0.6"/>
<line x1="333.30" y1="419.00" x2="510.40" y2="419.00" stroke="#444" stroke-width="0.6"/>
<line x1="331.40" y1="419.00" x2="333.60" y2="419.00" stroke="#444" stroke-width="0.6"/>
<text x="330.40" y="421.60" font-size="7.4" font-weight="bold" text-anchor="end" fill="#000">0</text>
<line x1="331.40" y1="392.23" x2="333.60" y2="392.23" stroke="#444" stroke-width="0.6"/>
<text x="330.40" y="394.83" font-size="7.4" font-weight="bold" text-anchor="end" fill="#000">1</text>
<line x1="331.40" y1="365.45" x2="333.60" y2="365.45" stroke="#444" stroke-width="0.6"/>
<text x="330.40" y="368.05" font-size="7.4" font-weight="bold" text-anchor="end" fill="#000">2</text>
<line x1="331.40" y1="338.67" x2="333.60" y2="338.67" stroke="#444" stroke-width="0.6"/>
<text x="330.40" y="341.27" font-size="7.4" font-weight="bold" text-anchor="end" fill="#000">3</text>
<line x1="331.40" y1="311.90" x2="333.60" y2="311.90" stroke="#444" stroke-width="0.6"/>
<text x="330.40" y="314.50" font-size="7.4" font-weight="bold" text-anchor="end" fill="#000">4</text>
<line x1="353.60" y1="419.00" x2="353.60" y2="421.40" stroke="#444" stroke-width="0.6"/>
<line x1="399.60" y1="419.00" x2="399.60" y2="421.40" stroke="#444" stroke-width="0.6"/>
<line x1="445.20" y1="419.00" x2="445.20" y2="421.40" stroke="#444" stroke-width="0.6"/>
<line x1="490.80" y1="419.00" x2="490.80" y2="421.40" stroke="#444" stroke-width="0.6"/>
<text x="324.40" y="365.60" font-size="9.4" font-weight="bold" text-anchor="middle" fill="#000" transform="rotate(-90 324.40 365.60)">IFI (AU)</text>
<g fill="#000"><circle cx="346.3" cy="394.0" r="1.0"/><circle cx="344.9" cy="391.7" r="1.0"/><circle cx="348.2" cy="395.7" r="1.0"/><circle cx="345.1" cy="389.9" r="1.0"/><circle cx="340.3" cy="400.5" r="1.0"/><circle cx="343.7" cy="397.4" r="1.0"/><circle cx="348.1" cy="398.7" r="1.0"/><circle cx="342.3" cy="398.1" r="1.0"/><circle cx="350.2" cy="397.2" r="1.0"/><circle cx="347.5" cy="396.1" r="1.0"/><circle cx="340.9" cy="393.1" r="1.0"/><circle cx="343.5" cy="401.5" r="1.0"/><circle cx="349.6" cy="399.4" r="1.0"/><circle cx="343.7" cy="397.3" r="1.0"/><circle cx="341.8" cy="392.9" r="1.0"/><circle cx="348.0" cy="390.8" r="1.0"/><circle cx="343.8" cy="402.5" r="1.0"/><circle cx="344.9" cy="395.7" r="1.0"/><circle cx="348.8" cy="396.9" r="1.0"/><circle cx="342.3" cy="396.2" r="1.0"/><circle cx="349.9" cy="396.8" r="1.0"/><circle cx="348.9" cy="400.2" r="1.0"/><circle cx="345.9" cy="397.1" r="1.0"/><circle cx="346.4" cy="404.6" r="1.0"/><circle cx="348.1" cy="393.8" r="1.0"/><circle cx="342.2" cy="393.9" r="1.0"/><circle cx="344.6" cy="389.4" r="1.0"/><circle cx="343.8" cy="401.5" r="1.0"/><circle cx="349.5" cy="401.3" r="1.0"/><circle cx="343.9" cy="396.0" r="1.0"/><circle cx="347.3" cy="395.4" r="1.0"/><circle cx="350.2" cy="397.0" r="1.0"/><circle cx="345.5" cy="402.3" r="1.0"/><circle cx="347.6" cy="397.2" r="1.0"/><circle cx="345.6" cy="396.3" r="1.0"/><circle cx="346.0" cy="391.5" r="1.0"/><circle cx="343.5" cy="396.2" r="1.0"/><circle cx="349.3" cy="394.9" r="1.0"/><circle cx="343.2" cy="400.6" r="1.0"/><circle cx="341.7" cy="392.6" r="1.0"/><circle cx="346.7" cy="390.1" r="1.0"/><circle cx="343.9" cy="394.2" r="1.0"/><circle cx="349.0" cy="399.9" r="1.0"/><circle cx="348.5" cy="403.2" r="1.0"/><circle cx="345.6" cy="408.1" r="1.0"/><circle cx="345.6" cy="390.2" r="1.0"/><circle cx="343.9" cy="393.6" r="1.0"/><circle cx="342.7" cy="400.6" r="1.0"/><circle cx="340.7" cy="395.5" r="1.0"/><circle cx="348.1" cy="399.1" r="1.0"/><circle cx="348.5" cy="396.6" r="1.0"/><circle cx="341.3" cy="402.2" r="1.0"/><circle cx="344.2" cy="397.5" r="1.0"/><circle cx="342.0" cy="393.8" r="1.0"/><circle cx="348.8" cy="393.8" r="1.0"/><circle cx="350.0" cy="395.7" r="1.0"/><circle cx="342.5" cy="397.4" r="1.0"/><circle cx="348.9" cy="402.2" r="1.0"/><circle cx="342.0" cy="404.1" r="1.0"/><circle cx="342.1" cy="398.4" r="1.0"/><circle cx="345.1" cy="384.7" r="1.0"/><circle cx="345.6" cy="386.9" r="1.0"/><circle cx="344.6" cy="407.0" r="1.0"/></g>
<g fill="#000"><circle cx="357.2" cy="367.9" r="1.0"/><circle cx="367.5" cy="372.3" r="1.0"/><circle cx="363.8" cy="370.0" r="1.0"/><circle cx="360.5" cy="368.4" r="1.0"/><circle cx="366.9" cy="367.8" r="1.0"/><circle cx="360.3" cy="374.3" r="1.0"/><circle cx="363.1" cy="383.3" r="1.0"/><circle cx="365.4" cy="380.2" r="1.0"/><circle cx="366.3" cy="371.9" r="1.0"/><circle cx="363.1" cy="373.3" r="1.0"/><circle cx="365.9" cy="372.9" r="1.0"/><circle cx="363.0" cy="367.5" r="1.0"/><circle cx="365.3" cy="361.1" r="1.0"/><circle cx="362.8" cy="375.5" r="1.0"/><circle cx="359.6" cy="374.2" r="1.0"/><circle cx="365.8" cy="379.7" r="1.0"/><circle cx="366.7" cy="375.6" r="1.0"/><circle cx="363.2" cy="361.0" r="1.0"/><circle cx="363.6" cy="363.8" r="1.0"/><circle cx="359.8" cy="362.0" r="1.0"/><circle cx="358.1" cy="363.8" r="1.0"/><circle cx="366.6" cy="368.9" r="1.0"/><circle cx="361.4" cy="379.1" r="1.0"/><circle cx="363.9" cy="371.6" r="1.0"/><circle cx="360.9" cy="366.6" r="1.0"/><circle cx="363.0" cy="374.1" r="1.0"/><circle cx="362.6" cy="373.9" r="1.0"/><circle cx="361.6" cy="363.1" r="1.0"/><circle cx="357.9" cy="375.0" r="1.0"/><circle cx="366.6" cy="378.3" r="1.0"/><circle cx="361.2" cy="375.6" r="1.0"/><circle cx="366.3" cy="366.0" r="1.0"/><circle cx="361.3" cy="364.0" r="1.0"/><circle cx="357.9" cy="373.6" r="1.0"/><circle cx="362.6" cy="368.2" r="1.0"/><circle cx="360.6" cy="373.7" r="1.0"/><circle cx="358.9" cy="374.2" r="1.0"/><circle cx="357.7" cy="366.0" r="1.0"/><circle cx="363.0" cy="382.5" r="1.0"/><circle cx="359.0" cy="373.9" r="1.0"/><circle cx="361.2" cy="372.1" r="1.0"/><circle cx="365.6" cy="373.3" r="1.0"/><circle cx="365.4" cy="365.1" r="1.0"/><circle cx="362.1" cy="374.7" r="1.0"/><circle cx="366.1" cy="379.8" r="1.0"/><circle cx="364.8" cy="372.6" r="1.0"/><circle cx="363.1" cy="381.6" r="1.0"/><circle cx="360.6" cy="369.6" r="1.0"/><circle cx="363.3" cy="368.8" r="1.0"/><circle cx="364.6" cy="383.0" r="1.0"/><circle cx="363.3" cy="363.8" r="1.0"/><circle cx="360.4" cy="370.5" r="1.0"/><circle cx="361.5" cy="366.7" r="1.0"/><circle cx="360.3" cy="362.7" r="1.0"/><circle cx="362.0" cy="355.1" r="1.0"/><circle cx="358.3" cy="367.0" r="1.0"/><circle cx="366.1" cy="370.3" r="1.0"/><circle cx="359.0" cy="366.5" r="1.0"/><circle cx="361.8" cy="371.8" r="1.0"/><circle cx="359.1" cy="368.5" r="1.0"/><circle cx="366.2" cy="377.2" r="1.0"/><circle cx="364.8" cy="362.6" r="1.0"/><circle cx="365.4" cy="365.3" r="1.0"/><circle cx="357.1" cy="369.8" r="1.0"/><circle cx="360.9" cy="369.2" r="1.0"/><circle cx="364.4" cy="364.2" r="1.0"/><circle cx="359.5" cy="372.8" r="1.0"/><circle cx="359.8" cy="378.4" r="1.0"/><circle cx="363.9" cy="371.6" r="1.0"/><circle cx="358.5" cy="369.0" r="1.0"/><circle cx="358.2" cy="364.2" r="1.0"/><circle cx="362.1" cy="377.3" r="1.0"/><circle cx="362.0" cy="372.8" r="1.0"/><circle cx="357.1" cy="372.5" r="1.0"/><circle cx="363.6" cy="371.3" r="1.0"/><circle cx="362.5" cy="334.7" r="1.0"/><circle cx="363.6" cy="346.2" r="1.0"/><circle cx="362.8" cy="348.0" r="1.0"/><circle cx="360.6" cy="353.4" r="1.0"/><circle cx="362.9" cy="355.3" r="1.0"/><circle cx="361.5" cy="358.8" r="1.0"/><circle cx="364.1" cy="360.1" r="1.0"/><circle cx="362.4" cy="386.9" r="1.0"/><circle cx="361.3" cy="390.1" r="1.0"/><circle cx="362.8" cy="393.6" r="1.0"/><circle cx="361.8" cy="396.2" r="1.0"/><circle cx="362.6" cy="398.7" r="1.0"/></g>
<g fill="#000"><circle cx="392.3" cy="383.6" r="1.0"/><circle cx="387.5" cy="404.7" r="1.0"/><circle cx="391.3" cy="403.2" r="1.0"/><circle cx="387.4" cy="401.3" r="1.0"/><circle cx="388.2" cy="395.1" r="1.0"/><circle cx="390.7" cy="391.1" r="1.0"/><circle cx="393.2" cy="394.9" r="1.0"/><circle cx="390.2" cy="397.2" r="1.0"/><circle cx="390.2" cy="408.0" r="1.0"/><circle cx="386.5" cy="398.4" r="1.0"/><circle cx="392.7" cy="395.8" r="1.0"/><circle cx="392.0" cy="406.0" r="1.0"/><circle cx="393.4" cy="391.6" r="1.0"/><circle cx="389.7" cy="398.7" r="1.0"/><circle cx="389.6" cy="406.1" r="1.0"/><circle cx="387.0" cy="401.7" r="1.0"/><circle cx="391.6" cy="407.7" r="1.0"/><circle cx="390.5" cy="395.9" r="1.0"/><circle cx="387.8" cy="400.1" r="1.0"/><circle cx="389.3" cy="400.8" r="1.0"/><circle cx="387.1" cy="395.9" r="1.0"/><circle cx="387.1" cy="401.5" r="1.0"/><circle cx="391.7" cy="392.6" r="1.0"/><circle cx="394.4" cy="396.3" r="1.0"/><circle cx="388.9" cy="400.6" r="1.0"/><circle cx="389.2" cy="392.2" r="1.0"/><circle cx="388.6" cy="396.2" r="1.0"/><circle cx="387.9" cy="405.6" r="1.0"/><circle cx="394.4" cy="395.5" r="1.0"/><circle cx="389.3" cy="407.4" r="1.0"/><circle cx="391.4" cy="411.4" r="1.0"/><circle cx="395.4" cy="401.6" r="1.0"/><circle cx="387.7" cy="388.9" r="1.0"/><circle cx="390.9" cy="382.4" r="1.0"/><circle cx="392.1" cy="386.0" r="1.0"/><circle cx="395.9" cy="395.9" r="1.0"/><circle cx="391.4" cy="392.3" r="1.0"/><circle cx="392.2" cy="412.3" r="1.0"/><circle cx="396.0" cy="397.6" r="1.0"/><circle cx="389.9" cy="403.5" r="1.0"/><circle cx="390.7" cy="396.7" r="1.0"/><circle cx="388.0" cy="395.2" r="1.0"/><circle cx="390.3" cy="383.2" r="1.0"/><circle cx="387.5" cy="404.0" r="1.0"/><circle cx="391.5" cy="401.4" r="1.0"/><circle cx="394.3" cy="398.3" r="1.0"/><circle cx="395.2" cy="397.7" r="1.0"/><circle cx="390.6" cy="390.9" r="1.0"/><circle cx="393.7" cy="405.0" r="1.0"/><circle cx="393.3" cy="386.3" r="1.0"/><circle cx="393.0" cy="400.1" r="1.0"/><circle cx="394.0" cy="403.7" r="1.0"/><circle cx="389.0" cy="400.6" r="1.0"/><circle cx="390.2" cy="401.2" r="1.0"/><circle cx="391.6" cy="396.5" r="1.0"/><circle cx="393.6" cy="405.7" r="1.0"/><circle cx="389.6" cy="390.5" r="1.0"/><circle cx="391.6" cy="391.9" r="1.0"/><circle cx="395.6" cy="395.1" r="1.0"/><circle cx="386.9" cy="401.8" r="1.0"/><circle cx="388.8" cy="405.0" r="1.0"/><circle cx="391.7" cy="400.6" r="1.0"/><circle cx="391.1" cy="382.9" r="1.0"/><circle cx="391.1" cy="378.8" r="1.0"/><circle cx="391.1" cy="375.6" r="1.0"/><circle cx="391.1" cy="373.5" r="1.0"/><circle cx="390.1" cy="411.5" r="1.0"/></g>
<g fill="#000"><circle cx="404.9" cy="404.5" r="1.0"/><circle cx="410.7" cy="410.1" r="1.0"/><circle cx="404.1" cy="400.6" r="1.0"/><circle cx="410.1" cy="397.0" r="1.0"/><circle cx="410.2" cy="399.0" r="1.0"/><circle cx="410.3" cy="397.5" r="1.0"/><circle cx="410.6" cy="410.2" r="1.0"/><circle cx="404.5" cy="399.8" r="1.0"/><circle cx="408.4" cy="412.7" r="1.0"/><circle cx="407.6" cy="403.7" r="1.0"/><circle cx="404.3" cy="406.0" r="1.0"/><circle cx="408.7" cy="393.3" r="1.0"/><circle cx="406.4" cy="401.4" r="1.0"/><circle cx="406.2" cy="404.6" r="1.0"/><circle cx="411.7" cy="406.4" r="1.0"/><circle cx="412.5" cy="403.7" r="1.0"/><circle cx="404.2" cy="406.1" r="1.0"/><circle cx="406.3" cy="394.9" r="1.0"/><circle cx="411.1" cy="406.3" r="1.0"/><circle cx="411.5" cy="408.9" r="1.0"/><circle cx="410.6" cy="400.7" r="1.0"/><circle cx="412.3" cy="405.1" r="1.0"/><circle cx="405.1" cy="398.8" r="1.0"/><circle cx="404.7" cy="400.1" r="1.0"/><circle cx="411.5" cy="408.6" r="1.0"/><circle cx="404.3" cy="401.9" r="1.0"/><circle cx="408.5" cy="416.5" r="1.0"/><circle cx="408.5" cy="403.1" r="1.0"/><circle cx="405.7" cy="402.4" r="1.0"/><circle cx="409.2" cy="397.0" r="1.0"/><circle cx="411.1" cy="405.0" r="1.0"/><circle cx="407.2" cy="405.9" r="1.0"/><circle cx="406.9" cy="410.1" r="1.0"/><circle cx="404.9" cy="401.2" r="1.0"/><circle cx="411.5" cy="406.5" r="1.0"/><circle cx="405.6" cy="404.6" r="1.0"/><circle cx="407.6" cy="403.6" r="1.0"/><circle cx="406.2" cy="401.7" r="1.0"/><circle cx="405.2" cy="409.1" r="1.0"/><circle cx="413.0" cy="400.5" r="1.0"/><circle cx="408.5" cy="404.4" r="1.0"/><circle cx="408.6" cy="409.8" r="1.0"/><circle cx="405.6" cy="406.1" r="1.0"/><circle cx="406.2" cy="400.5" r="1.0"/><circle cx="412.3" cy="403.7" r="1.0"/><circle cx="410.9" cy="399.2" r="1.0"/><circle cx="405.7" cy="403.1" r="1.0"/><circle cx="408.6" cy="403.2" r="1.0"/><circle cx="409.5" cy="404.2" r="1.0"/><circle cx="411.8" cy="406.6" r="1.0"/><circle cx="410.9" cy="403.1" r="1.0"/><circle cx="406.5" cy="398.8" r="1.0"/><circle cx="403.2" cy="403.4" r="1.0"/><circle cx="407.8" cy="406.6" r="1.0"/><circle cx="410.4" cy="396.3" r="1.0"/><circle cx="408.4" cy="399.7" r="1.0"/><circle cx="407.6" cy="400.4" r="1.0"/><circle cx="404.9" cy="404.3" r="1.0"/><circle cx="408.1" cy="390.9" r="1.0"/><circle cx="408.6" cy="392.8" r="1.0"/></g>
<g fill="#000"><circle cx="438.8" cy="414.0" r="1.0"/><circle cx="434.8" cy="398.5" r="1.0"/><circle cx="432.6" cy="401.4" r="1.0"/><circle cx="440.6" cy="411.1" r="1.0"/><circle cx="435.9" cy="406.3" r="1.0"/><circle cx="437.5" cy="402.0" r="1.0"/><circle cx="439.5" cy="400.9" r="1.0"/><circle cx="436.8" cy="401.0" r="1.0"/><circle cx="440.0" cy="404.3" r="1.0"/><circle cx="434.2" cy="412.6" r="1.0"/><circle cx="432.8" cy="409.6" r="1.0"/><circle cx="441.0" cy="401.9" r="1.0"/><circle cx="437.5" cy="407.6" r="1.0"/><circle cx="435.8" cy="407.8" r="1.0"/><circle cx="436.2" cy="405.1" r="1.0"/><circle cx="432.4" cy="403.5" r="1.0"/><circle cx="433.5" cy="411.5" r="1.0"/><circle cx="440.4" cy="408.4" r="1.0"/><circle cx="439.8" cy="403.3" r="1.0"/><circle cx="433.8" cy="405.4" r="1.0"/><circle cx="436.1" cy="411.6" r="1.0"/><circle cx="436.6" cy="403.3" r="1.0"/><circle cx="432.9" cy="411.7" r="1.0"/><circle cx="439.9" cy="406.3" r="1.0"/><circle cx="435.7" cy="406.5" r="1.0"/><circle cx="439.9" cy="404.7" r="1.0"/><circle cx="436.4" cy="409.8" r="1.0"/><circle cx="434.0" cy="410.0" r="1.0"/><circle cx="432.4" cy="409.4" r="1.0"/><circle cx="433.0" cy="409.2" r="1.0"/><circle cx="439.7" cy="400.0" r="1.0"/><circle cx="439.0" cy="402.1" r="1.0"/><circle cx="441.3" cy="405.6" r="1.0"/><circle cx="435.4" cy="403.5" r="1.0"/><circle cx="437.8" cy="403.0" r="1.0"/><circle cx="437.0" cy="400.7" r="1.0"/><circle cx="436.6" cy="410.1" r="1.0"/><circle cx="436.2" cy="404.9" r="1.0"/><circle cx="435.2" cy="408.3" r="1.0"/><circle cx="441.0" cy="410.9" r="1.0"/><circle cx="436.0" cy="399.9" r="1.0"/><circle cx="439.3" cy="401.0" r="1.0"/><circle cx="437.8" cy="407.8" r="1.0"/><circle cx="434.5" cy="412.2" r="1.0"/><circle cx="435.2" cy="398.2" r="1.0"/><circle cx="432.6" cy="405.3" r="1.0"/><circle cx="432.0" cy="403.7" r="1.0"/><circle cx="436.8" cy="412.1" r="1.0"/><circle cx="434.6" cy="401.2" r="1.0"/><circle cx="439.2" cy="397.9" r="1.0"/><circle cx="435.7" cy="407.6" r="1.0"/><circle cx="441.5" cy="407.4" r="1.0"/><circle cx="435.3" cy="407.0" r="1.0"/><circle cx="434.4" cy="408.8" r="1.0"/><circle cx="438.3" cy="400.8" r="1.0"/><circle cx="433.9" cy="402.6" r="1.0"/><circle cx="438.6" cy="415.2" r="1.0"/><circle cx="433.4" cy="409.2" r="1.0"/><circle cx="435.9" cy="396.7" r="1.0"/><circle cx="433.7" cy="401.3" r="1.0"/><circle cx="438.9" cy="405.0" r="1.0"/><circle cx="438.5" cy="409.7" r="1.0"/><circle cx="436.6" cy="389.5" r="1.0"/><circle cx="436.8" cy="386.9" r="1.0"/><circle cx="436.6" cy="384.2" r="1.0"/><circle cx="436.1" cy="393.6" r="1.0"/><circle cx="437.2" cy="395.4" r="1.0"/></g>
<g fill="#000"><circle cx="450.7" cy="412.6" r="1.0"/><circle cx="454.7" cy="414.1" r="1.0"/><circle cx="455.4" cy="408.9" r="1.0"/><circle cx="449.2" cy="411.2" r="1.0"/><circle cx="455.1" cy="413.7" r="1.0"/><circle cx="457.7" cy="415.0" r="1.0"/><circle cx="456.8" cy="410.2" r="1.0"/><circle cx="456.7" cy="412.8" r="1.0"/><circle cx="458.3" cy="412.0" r="1.0"/><circle cx="450.9" cy="412.7" r="1.0"/><circle cx="456.8" cy="410.5" r="1.0"/><circle cx="457.8" cy="410.3" r="1.0"/><circle cx="450.0" cy="415.4" r="1.0"/><circle cx="457.2" cy="409.4" r="1.0"/><circle cx="449.9" cy="413.3" r="1.0"/><circle cx="450.0" cy="409.8" r="1.0"/><circle cx="454.2" cy="409.5" r="1.0"/><circle cx="457.0" cy="412.4" r="1.0"/><circle cx="457.2" cy="411.2" r="1.0"/><circle cx="451.0" cy="414.5" r="1.0"/><circle cx="458.1" cy="411.3" r="1.0"/><circle cx="452.6" cy="413.8" r="1.0"/><circle cx="450.0" cy="415.0" r="1.0"/><circle cx="449.5" cy="411.4" r="1.0"/><circle cx="450.6" cy="416.0" r="1.0"/><circle cx="452.8" cy="413.6" r="1.0"/><circle cx="457.8" cy="415.3" r="1.0"/><circle cx="450.5" cy="409.7" r="1.0"/><circle cx="456.6" cy="413.6" r="1.0"/><circle cx="458.3" cy="412.9" r="1.0"/><circle cx="449.1" cy="413.4" r="1.0"/><circle cx="450.6" cy="415.5" r="1.0"/><circle cx="449.9" cy="412.5" r="1.0"/><circle cx="458.4" cy="411.6" r="1.0"/><circle cx="455.8" cy="415.4" r="1.0"/><circle cx="455.3" cy="408.5" r="1.0"/><circle cx="452.6" cy="409.6" r="1.0"/><circle cx="453.5" cy="414.4" r="1.0"/><circle cx="449.0" cy="413.0" r="1.0"/><circle cx="454.5" cy="412.2" r="1.0"/><circle cx="453.9" cy="418.5" r="1.0"/><circle cx="457.0" cy="413.4" r="1.0"/><circle cx="456.2" cy="415.5" r="1.0"/><circle cx="448.9" cy="412.1" r="1.0"/><circle cx="451.9" cy="410.2" r="1.0"/><circle cx="453.0" cy="412.3" r="1.0"/><circle cx="449.8" cy="411.3" r="1.0"/><circle cx="454.9" cy="412.0" r="1.0"/><circle cx="455.6" cy="412.1" r="1.0"/><circle cx="453.0" cy="412.5" r="1.0"/><circle cx="453.7" cy="407.2" r="1.0"/><circle cx="458.2" cy="411.8" r="1.0"/><circle cx="452.8" cy="414.3" r="1.0"/><circle cx="450.2" cy="414.9" r="1.0"/><circle cx="452.1" cy="410.2" r="1.0"/><circle cx="450.1" cy="413.1" r="1.0"/><circle cx="453.6" cy="417.9" r="1.0"/><circle cx="455.7" cy="416.3" r="1.0"/></g>
<g fill="#000"><circle cx="486.4" cy="411.0" r="1.0"/><circle cx="479.8" cy="412.0" r="1.0"/><circle cx="481.3" cy="403.3" r="1.0"/><circle cx="481.0" cy="406.1" r="1.0"/><circle cx="486.5" cy="407.5" r="1.0"/><circle cx="482.2" cy="410.0" r="1.0"/><circle cx="482.6" cy="402.4" r="1.0"/><circle cx="478.5" cy="405.4" r="1.0"/><circle cx="484.4" cy="405.6" r="1.0"/><circle cx="483.4" cy="412.6" r="1.0"/><circle cx="487.2" cy="407.8" r="1.0"/><circle cx="483.7" cy="408.3" r="1.0"/><circle cx="480.6" cy="408.4" r="1.0"/><circle cx="483.4" cy="404.2" r="1.0"/><circle cx="478.2" cy="409.3" r="1.0"/><circle cx="481.4" cy="411.7" r="1.0"/><circle cx="486.5" cy="409.9" r="1.0"/><circle cx="484.1" cy="403.6" r="1.0"/><circle cx="484.3" cy="410.1" r="1.0"/><circle cx="479.8" cy="408.6" r="1.0"/><circle cx="486.8" cy="406.5" r="1.0"/><circle cx="477.2" cy="408.3" r="1.0"/><circle cx="483.0" cy="407.8" r="1.0"/><circle cx="481.5" cy="411.0" r="1.0"/><circle cx="485.5" cy="409.4" r="1.0"/><circle cx="480.9" cy="405.3" r="1.0"/><circle cx="479.5" cy="411.6" r="1.0"/><circle cx="481.2" cy="404.4" r="1.0"/><circle cx="479.5" cy="411.8" r="1.0"/><circle cx="485.0" cy="408.7" r="1.0"/><circle cx="480.6" cy="409.6" r="1.0"/><circle cx="477.6" cy="408.2" r="1.0"/><circle cx="479.7" cy="409.1" r="1.0"/><circle cx="482.8" cy="407.1" r="1.0"/><circle cx="481.9" cy="409.2" r="1.0"/><circle cx="482.4" cy="410.6" r="1.0"/><circle cx="480.8" cy="413.8" r="1.0"/><circle cx="484.6" cy="411.6" r="1.0"/><circle cx="483.0" cy="414.2" r="1.0"/><circle cx="477.5" cy="410.4" r="1.0"/><circle cx="481.0" cy="403.4" r="1.0"/><circle cx="483.4" cy="406.4" r="1.0"/><circle cx="481.5" cy="405.2" r="1.0"/><circle cx="481.9" cy="406.1" r="1.0"/><circle cx="483.4" cy="402.0" r="1.0"/><circle cx="484.8" cy="408.2" r="1.0"/><circle cx="479.2" cy="409.8" r="1.0"/><circle cx="485.6" cy="409.7" r="1.0"/><circle cx="486.1" cy="409.7" r="1.0"/><circle cx="480.8" cy="405.7" r="1.0"/><circle cx="485.7" cy="406.4" r="1.0"/><circle cx="480.1" cy="408.4" r="1.0"/><circle cx="485.4" cy="406.2" r="1.0"/><circle cx="478.6" cy="405.8" r="1.0"/><circle cx="479.3" cy="413.1" r="1.0"/><circle cx="482.2" cy="411.5" r="1.0"/><circle cx="485.6" cy="409.6" r="1.0"/><circle cx="481.7" cy="405.2" r="1.0"/><circle cx="482.2" cy="402.9" r="1.0"/></g>
<g fill="#000"><circle cx="500.3" cy="411.4" r="1.0"/><circle cx="496.1" cy="411.6" r="1.0"/><circle cx="498.6" cy="410.4" r="1.0"/><circle cx="496.7" cy="410.1" r="1.0"/><circle cx="496.8" cy="417.0" r="1.0"/><circle cx="496.8" cy="409.0" r="1.0"/><circle cx="495.5" cy="410.4" r="1.0"/><circle cx="504.4" cy="412.2" r="1.0"/><circle cx="496.3" cy="416.1" r="1.0"/><circle cx="499.9" cy="404.4" r="1.0"/><circle cx="500.5" cy="417.1" r="1.0"/><circle cx="497.0" cy="412.8" r="1.0"/><circle cx="495.5" cy="412.1" r="1.0"/><circle cx="496.0" cy="408.2" r="1.0"/><circle cx="496.9" cy="412.0" r="1.0"/><circle cx="499.5" cy="416.7" r="1.0"/><circle cx="495.7" cy="410.6" r="1.0"/><circle cx="498.5" cy="413.9" r="1.0"/><circle cx="494.7" cy="411.2" r="1.0"/><circle cx="501.8" cy="410.1" r="1.0"/><circle cx="498.1" cy="411.6" r="1.0"/><circle cx="497.1" cy="415.2" r="1.0"/><circle cx="500.1" cy="406.8" r="1.0"/><circle cx="496.1" cy="414.3" r="1.0"/><circle cx="496.4" cy="410.2" r="1.0"/><circle cx="500.7" cy="408.1" r="1.0"/><circle cx="496.2" cy="413.2" r="1.0"/><circle cx="503.6" cy="412.2" r="1.0"/><circle cx="501.9" cy="414.5" r="1.0"/><circle cx="498.6" cy="408.6" r="1.0"/><circle cx="500.3" cy="418.4" r="1.0"/><circle cx="499.6" cy="412.5" r="1.0"/><circle cx="498.7" cy="415.7" r="1.0"/><circle cx="501.1" cy="413.5" r="1.0"/><circle cx="497.2" cy="412.3" r="1.0"/><circle cx="498.2" cy="406.7" r="1.0"/><circle cx="498.4" cy="412.1" r="1.0"/><circle cx="499.9" cy="412.7" r="1.0"/><circle cx="500.3" cy="417.7" r="1.0"/><circle cx="499.4" cy="410.5" r="1.0"/><circle cx="499.2" cy="404.1" r="1.0"/><circle cx="497.9" cy="412.4" r="1.0"/><circle cx="495.2" cy="412.2" r="1.0"/><circle cx="495.8" cy="410.7" r="1.0"/><circle cx="499.5" cy="413.7" r="1.0"/><circle cx="500.8" cy="414.8" r="1.0"/><circle cx="497.3" cy="408.1" r="1.0"/><circle cx="502.3" cy="410.4" r="1.0"/><circle cx="497.7" cy="410.1" r="1.0"/><circle cx="499.4" cy="414.7" r="1.0"/><circle cx="499.9" cy="406.0" r="1.0"/><circle cx="498.7" cy="417.4" r="1.0"/><circle cx="499.4" cy="402.4" r="1.0"/><circle cx="499.9" cy="404.3" r="1.0"/><circle cx="499.0" cy="405.6" r="1.0"/></g>
<text x="353.50" y="428.90" font-size="8.2" font-weight="bold" text-anchor="middle" fill="#000">WT</text>
<text x="400.00" y="428.70" font-size="8.1" font-weight="bold" font-style="italic" text-anchor="middle" fill="#000">pek-1</text>
<text x="400.00" y="438.90" font-size="8.1" font-weight="bold" font-style="italic" text-anchor="middle" fill="#000">(ok275)</text>
<text x="444.90" y="428.70" font-size="8.1" font-weight="bold" font-style="italic" text-anchor="middle" fill="#000">atfs-1</text>
<text x="444.90" y="438.90" font-size="8.1" font-weight="bold" font-style="italic" text-anchor="middle" fill="#000">(tm4525)</text>
<text x="490.50" y="428.70" font-size="8.1" font-weight="bold" font-style="italic" text-anchor="middle" fill="#000">pek-1(-);</text>
<text x="490.50" y="438.90" font-size="8.1" font-weight="bold" font-style="italic" text-anchor="middle" fill="#000">atfs-1(-)</text>
<rect x="492.10" y="307.70" width="7.30" height="7.30" fill="#fff" stroke="#111" stroke-width="1.0"/>
<rect x="492.10" y="318.50" width="7.30" height="7.30" fill="url(#hatchL)" stroke="#222" stroke-width="1.0"/>
<text x="502.20" y="313.95" font-size="7.9" text-anchor="start" fill="#000">CNT</text>
<text x="502.20" y="324.75" font-size="7.9" text-anchor="start" fill="#000">TM</text>
<polyline points="345.10,378.60 345.10,305.60 482.70,305.60 482.70,343.50" fill="none" stroke="#222" stroke-width="0.6"/>
<text x="413.70" y="305.05" font-size="7.3" font-weight="bold" text-anchor="middle" fill="#000">****</text>
<polyline points="345.10,314.20 437.10,314.20 437.10,338.80" fill="none" stroke="#222" stroke-width="0.6"/>
<text x="391.00" y="313.85" font-size="7.3" font-weight="bold" text-anchor="middle" fill="#000">****</text>
<polyline points="345.10,325.90 362.60,325.90 362.60,331.80" fill="none" stroke="#222" stroke-width="0.6"/>
<text x="354.00" y="325.65" font-size="7.3" font-weight="bold" text-anchor="middle" fill="#000">****</text>
<polyline points="390.60,370.40 390.60,347.50 482.70,347.50 482.70,402.00" fill="none" stroke="#222" stroke-width="0.6"/>
<text x="436.20" y="346.95" font-size="7.3" font-weight="bold" text-anchor="middle" fill="#000">****</text>
<polyline points="390.60,356.30 437.10,356.30 437.10,378.60" fill="none" stroke="#222" stroke-width="0.6"/>
<text x="413.70" y="355.85" font-size="7.3" font-weight="bold" text-anchor="middle" fill="#000">****</text>
<polyline points="390.60,365.70 408.10,365.70 408.10,388.00" fill="none" stroke="#222" stroke-width="0.6"/>
<text x="399.20" y="365.15" font-size="7.3" font-weight="bold" text-anchor="middle" fill="#000">***</text>
<polyline points="437.10,384.40 437.10,380.20 453.70,380.20 453.70,403.00" fill="none" stroke="#222" stroke-width="0.6"/>
<text x="444.90" y="379.85" font-size="7.3" font-weight="bold" text-anchor="middle" fill="#000">***</text>
<text x="6.70" y="445.60" font-size="13" font-weight="bold" text-anchor="start" fill="#000">H</text>
<rect x="9.90" y="471.30" width="41.00" height="162.40" fill="#000"/>
<line x1="11.10" y1="631.50" x2="27.40" y2="631.50" stroke="#fff" stroke-width="1.9"/>
<rect x="54.00" y="471.30" width="41.50" height="162.40" fill="#000"/>
<line x1="55.20" y1="631.50" x2="71.50" y2="631.50" stroke="#fff" stroke-width="1.9"/>
<rect x="101.30" y="471.30" width="40.80" height="162.40" fill="#000"/>
<line x1="102.50" y1="631.50" x2="118.80" y2="631.50" stroke="#fff" stroke-width="1.9"/>
<rect x="145.30" y="471.30" width="41.10" height="162.40" fill="#000"/>
<line x1="146.50" y1="631.50" x2="162.80" y2="631.50" stroke="#fff" stroke-width="1.9"/>
<rect x="191.30" y="471.30" width="40.80" height="162.40" fill="#000"/>
<line x1="192.50" y1="631.50" x2="208.80" y2="631.50" stroke="#fff" stroke-width="1.9"/>
<rect x="235.60" y="471.30" width="40.80" height="162.40" fill="#000"/>
<line x1="236.80" y1="631.50" x2="253.10" y2="631.50" stroke="#fff" stroke-width="1.9"/>
<rect x="282.90" y="471.30" width="40.10" height="162.40" fill="#000"/>
<line x1="284.10" y1="631.50" x2="300.40" y2="631.50" stroke="#fff" stroke-width="1.9"/>
<rect x="326.90" y="471.30" width="40.50" height="162.40" fill="#000"/>
<line x1="328.10" y1="631.50" x2="344.40" y2="631.50" stroke="#fff" stroke-width="1.9"/>
<text x="53.00" y="449.80" font-size="10" text-anchor="middle" fill="#000">WT</text>
<line x1="11.30" y1="454.90" x2="93.90" y2="454.90" stroke="#555" stroke-width="1.0"/>
<text x="143.70" y="449.80" font-size="10" text-anchor="middle" fill="#000">pek-1(ok275)</text>
<line x1="102.20" y1="454.90" x2="185.80" y2="454.90" stroke="#555" stroke-width="1.0"/>
<text x="234.60" y="449.80" font-size="10" text-anchor="middle" fill="#000">atfs-1(tm4525)</text>
<line x1="192.90" y1="454.90" x2="275.50" y2="454.90" stroke="#555" stroke-width="1.0"/>
<text x="325.30" y="449.80" font-size="10" text-anchor="middle" fill="#000">pek-1(-) ; atfs-1(-)</text>
<line x1="283.50" y1="454.90" x2="366.40" y2="454.90" stroke="#555" stroke-width="1.0"/>
<text x="30.40" y="465.00" font-size="10.3" text-anchor="middle" fill="#000">CNT</text>
<line x1="10.90" y1="468.10" x2="49.30" y2="468.10" stroke="#555" stroke-width="1.0"/>
<text x="74.75" y="465.00" font-size="10.3" text-anchor="middle" fill="#000">TM</text>
<line x1="55.00" y1="468.10" x2="93.90" y2="468.10" stroke="#555" stroke-width="1.0"/>
<text x="121.70" y="465.00" font-size="10.3" text-anchor="middle" fill="#000">CNT</text>
<line x1="102.30" y1="468.10" x2="140.50" y2="468.10" stroke="#555" stroke-width="1.0"/>
<text x="165.85" y="465.00" font-size="10.3" text-anchor="middle" fill="#000">TM</text>
<line x1="146.30" y1="468.10" x2="184.80" y2="468.10" stroke="#555" stroke-width="1.0"/>
<text x="211.70" y="465.00" font-size="10.3" text-anchor="middle" fill="#000">CNT</text>
<line x1="192.30" y1="468.10" x2="230.50" y2="468.10" stroke="#555" stroke-width="1.0"/>
<text x="256.00" y="465.00" font-size="10.3" text-anchor="middle" fill="#000">TM</text>
<line x1="236.60" y1="468.10" x2="274.80" y2="468.10" stroke="#555" stroke-width="1.0"/>
<text x="302.95" y="465.00" font-size="10.3" text-anchor="middle" fill="#000">CNT</text>
<line x1="283.90" y1="468.10" x2="321.40" y2="468.10" stroke="#555" stroke-width="1.0"/>
<text x="347.15" y="465.00" font-size="10.3" text-anchor="middle" fill="#000">TM</text>
<line x1="327.90" y1="468.10" x2="365.80" y2="468.10" stroke="#555" stroke-width="1.0"/>
<g stroke="#fff" stroke-linecap="round" fill="none"><polygon points="30.0,483.7 26.5,500.0 23.5,520.0 22.4,535.0 23.0,555.0 26.5,575.0 30.5,595.0 33.5,610.0 35.2,620.0 35.8,620.0 36.8,610.0 37.5,595.0 38.5,575.0 39.5,555.0 39.0,535.0 37.5,520.0 32.5,500.0 30.6,483.7" fill="#fff" opacity="0.10" filter="url(#b2)"/><path d="M28.0 562.3v0.5M27.0 558.9v2.2M35.3 563.4v1.0M35.4 568.8v1.0M27.9 517.7v0.01M31.3 553.8v2.2M32.5 589.2v0.01M35.1 573.6v0.01M27.5 559.7v1.0M33.5 589.8v1.0M30.4 575.2v0.5M32.9 559.2v0.01M29.9 585.6v2.2M35.8 542.2v0.01M32.6 514.8v1.0" stroke-width="1.1" opacity="0.8"/><path d="M33.0 560.0v1.6M35.6 540.1v1.0M31.5 558.2v1.0M26.1 531.1v0.5M35.8 551.4v0.5M26.0 540.7v1.6M30.8 547.2v0.5M35.2 535.6v0.5M28.4 530.3v0.01M33.1 561.5v0.01M26.5 554.5v0.01M28.7 555.1v1.6M28.5 544.6v1.6M30.8 536.6v1.6M29.3 583.4v1.0" stroke-width="0.8" opacity="0.8"/><path d="M35.0 611.6v1.6M28.3 532.4v1.0M24.0 540.6v1.0M26.3 539.3v1.0M29.3 582.0v0.01M32.4 572.5v1.6M31.5 519.0v0.5M29.1 582.9v1.0M32.2 504.4v0.01M36.3 598.0v2.2M33.6 553.4v1.6M26.1 567.4v1.0M36.5 590.6v1.0M25.2 559.1v0.5M32.2 598.3v1.6M27.6 559.2v2.2M31.8 584.0v1.6M26.3 552.8v0.5M35.0 575.4v1.0M35.9 548.7v0.01M28.9 549.1v2.2M23.7 543.2v2.2M27.1 519.0v1.6M32.8 600.1v2.2M29.2 528.3v1.6M33.5 508.4v2.2M24.3 527.6v1.6M35.3 534.6v0.01M30.7 535.3v1.0M35.8 600.8v0.5M38.3 551.8v1.0" stroke-width="1.1" opacity="0.4"/><path d="M28.8 509.5v1.0M33.9 606.4v0.01M33.7 604.1v1.0M35.1 574.7v0.01M36.6 585.8v0.5M33.3 507.8v1.0M27.3 501.3v0.01M23.5 538.2v0.01M30.1 575.6v1.0M30.0 505.3v1.0" stroke-width="0.8" opacity="0.6"/><path d="M35.2 608.9v2.2M31.3 593.7v2.2M28.6 495.0v1.0M26.8 569.8v0.5M28.6 494.9v0.01M38.0 547.1v2.2M33.2 602.2v1.0M27.2 505.6v2.2M35.2 569.0v0.5M33.4 604.1v1.6M34.6 571.7v0.5M37.4 578.6v0.01M32.4 514.5v1.6M36.1 598.5v0.01M31.7 519.6v1.6M29.7 500.1v1.6M30.9 566.3v1.0M29.7 502.6v0.5M37.9 542.3v0.01M33.1 517.6v1.6M23.7 544.8v0.01M23.9 543.8v2.2" stroke-width="1.1" opacity="0.6"/><path d="M33.2 564.1v2.2M30.5 579.6v0.5M35.4 616.5v2.2M36.3 589.4v1.0M35.4 538.0v0.5M24.5 524.7v0.5M36.6 592.0v1.0M34.9 609.8v1.6M35.2 533.7v0.01M27.8 561.7v1.6M35.0 515.5v1.6M35.5 562.9v2.2" stroke-width="1.5" opacity="0.4"/><path d="M24.4 525.5v0.01M28.4 530.7v1.6M36.5 598.3v2.2M28.6 547.8v0.01M37.3 577.8v1.6M23.9 531.6v2.2M35.0 573.0v1.0M23.5 532.6v0.5M30.8 499.5v1.0M30.1 488.7v1.6M33.0 601.2v0.01M33.8 595.1v0.01M24.0 543.7v1.0M35.3 516.1v1.6M34.7 588.7v0.5M37.9 568.4v1.0M36.3 518.9v0.01M35.2 613.2v1.6M33.5 605.2v0.5M33.9 520.5v1.6M29.0 551.4v0.01M25.1 517.4v2.2M33.7 508.5v1.6M28.3 566.6v0.5M30.7 493.4v1.6M32.0 582.9v0.01M28.9 511.7v1.6M34.3 583.3v0.01M33.4 567.3v2.2M37.0 526.1v1.0M33.5 602.8v1.0M36.5 592.3v1.6M33.5 589.6v0.5M28.4 535.6v1.0M38.1 555.2v0.5M27.2 518.1v1.6" stroke-width="0.8" opacity="0.4"/><path d="M23.8 547.0v0.01M31.0 592.3v2.2M35.1 575.1v0.5M30.9 493.4v0.5M37.3 579.0v0.01M31.3 518.7v1.0M34.8 513.6v1.0M31.6 527.1v0.01M30.1 486.0v0.01M31.9 528.6v0.5M36.5 590.9v0.01M35.6 617.3v2.2M34.1 510.9v1.0M29.9 586.7v0.5M25.9 564.1v1.0" stroke-width="1.1" opacity="0.2"/><path d="M34.0 606.1v0.01M27.1 518.7v1.0M36.1 601.3v0.01M30.9 589.6v2.2M35.8 602.8v1.0M30.4 575.7v1.6M29.1 522.9v0.5" stroke-width="1.5" opacity="0.6"/><path d="M30.1 488.2v1.0M35.8 601.9v1.6M31.1 590.9v0.5M32.7 505.4v1.0M27.0 525.8v0.01M28.7 493.0v0.5M32.6 574.5v0.01M38.4 552.5v1.0M32.2 598.7v2.2M37.7 531.7v2.2M28.9 581.9v0.5" stroke-width="0.8" opacity="0.2"/><path d="M32.6 515.8v0.5M29.1 582.7v0.5M23.9 542.4v1.0M35.7 517.5v0.01M24.1 528.2v1.0M32.0 597.6v0.5M37.0 582.8v0.01" stroke-width="1.5" opacity="0.2"/><path d="M33.4 548.4v0.01M28.2 562.4v1.0M33.5 544.0v1.0M33.4 538.5v2.2M28.5 540.8v2.2M26.3 540.2v0.01M29.0 556.1v0.5M29.6 583.9v1.6M30.3 513.3v2.2" stroke-width="1.5" opacity="0.8"/><circle cx="35.5" cy="524.4" r="2.1" fill="#fff" stroke="none" opacity="0.95" filter="url(#b1)"/><circle cx="35.5" cy="530.9" r="1.9" fill="#fff" stroke="none" opacity="0.9" filter="url(#b1)"/><circle cx="36.8" cy="551.9" r="2.8" fill="#fff" stroke="none" opacity="1" filter="url(#b1)"/><circle cx="35.5" cy="563.7" r="2.3" fill="#fff" stroke="none" opacity="0.95" filter="url(#b1)"/><circle cx="27.5" cy="518.0" r="2.4" fill="#fff" stroke="none" opacity="0.35" filter="url(#b1)"/><circle cx="28.5" cy="536.0" r="2.2" fill="#fff" stroke="none" opacity="0.3" filter="url(#b1)"/></g>
<g stroke="#fff" stroke-linecap="round" fill="none"><polygon points="64.0,478.5 64.0,495.0 64.2,515.0 64.0,535.0 64.5,548.0 65.0,560.0 65.8,575.0 67.0,590.0 69.5,603.0 73.0,613.5 74.0,613.5 76.0,603.0 78.5,590.0 82.0,575.0 85.5,560.0 86.6,548.0 82.5,535.0 75.5,515.0 69.5,495.0 64.8,478.5" fill="#fff" opacity="0.11" filter="url(#b2)"/><path d="M69.9 542.3v2.2M75.6 552.9v1.6M71.0 566.0v0.5M70.4 544.5v0.01M74.6 542.4v1.0M65.5 513.2v1.6M72.2 508.2v1.6M65.4 507.8v1.6M73.7 564.0v1.6M76.2 564.6v1.0M76.4 561.6v1.0M70.3 543.1v2.2M77.7 539.5v0.01M76.4 534.2v0.01M72.2 521.5v1.6M75.3 551.3v0.5" stroke-width="1.5" opacity="0.6"/><path d="M65.1 489.6v0.5M65.4 502.1v0.5M64.7 489.4v1.0M82.7 540.1v1.6M78.0 526.4v2.2M69.4 597.7v2.2M68.0 517.7v1.0M74.5 515.7v0.5M67.5 577.3v2.2M65.4 511.3v2.2M76.7 571.8v0.01M74.3 592.5v1.0M76.3 594.8v0.01M68.1 495.3v1.6M65.7 553.8v1.0M75.5 541.5v1.0M77.8 556.6v1.0M80.1 553.2v1.0M65.4 486.3v0.5M74.1 595.3v2.2M72.0 582.3v2.2M70.0 500.2v1.0M70.5 503.3v1.0M65.3 536.2v0.01M75.2 531.5v2.2M79.8 560.2v2.2M75.5 598.5v0.01M75.8 586.5v0.5M71.5 576.0v1.0M65.3 515.3v0.01M67.5 509.0v1.0M74.1 574.5v0.5M85.0 551.3v0.01M65.7 543.7v0.01M72.1 506.6v2.2M65.6 549.2v1.6M66.9 490.3v0.01M67.8 509.8v2.2" stroke-width="1.1" opacity="0.4"/><path d="M76.2 597.0v2.2M70.6 553.2v0.5M78.0 526.1v0.01M70.2 538.2v2.2M76.2 597.3v0.01M72.6 599.8v2.2M67.6 581.8v0.5M72.4 516.4v0.5M76.3 576.1v1.0M65.2 522.8v0.01M65.5 496.0v0.01M69.9 581.6v2.2M72.6 543.6v0.01M71.0 504.8v1.0M81.9 570.0v1.6M76.9 534.9v1.0" stroke-width="1.5" opacity="0.2"/><path d="M70.0 583.9v1.0M65.6 515.3v0.5M66.8 488.3v1.6M69.0 562.2v1.6M68.0 525.9v0.5M66.5 568.6v1.0M71.5 575.5v1.0M73.2 519.2v1.6M81.8 570.8v1.6M74.7 581.4v1.6M70.9 560.3v1.0M68.7 563.7v0.5M67.5 499.1v2.2M65.7 504.5v0.5M78.3 586.0v0.01M68.0 541.6v2.2M67.7 516.9v1.0M73.7 513.5v0.5M76.5 593.0v2.2M74.0 595.9v0.5M65.8 555.1v0.01M76.3 574.3v1.0" stroke-width="1.5" opacity="0.4"/><path d="M73.2 511.3v0.5M73.1 587.4v1.6M70.8 504.5v1.6M65.6 495.6v0.5M68.1 526.4v1.6M73.9 593.8v0.01M67.7 500.2v1.6M65.4 483.8v0.5M67.8 518.6v0.01M65.5 521.9v1.0M72.3 523.7v2.2M77.8 532.7v1.0M70.7 603.5v1.0M66.7 573.5v0.01M65.4 493.8v1.6M73.1 584.8v1.0M73.0 589.2v0.5M69.8 581.8v1.6M66.1 559.8v2.2M68.0 526.1v0.5M65.5 531.9v0.5M77.4 559.0v0.01M68.2 588.8v2.2M67.3 535.9v0.01M71.2 592.1v0.5M70.6 550.0v0.5M77.1 537.9v2.2M65.2 532.4v1.0M68.1 539.7v1.0M69.6 506.4v0.01M65.6 519.1v1.0M83.0 547.6v0.01M67.8 525.5v0.01M79.7 530.4v0.01M75.6 587.0v0.01M66.3 560.6v0.01M67.5 578.7v2.2M70.4 524.2v1.0M77.3 590.5v0.5M67.6 578.5v0.5M65.3 483.3v0.5M67.3 521.3v0.01M82.2 569.5v0.5M75.9 585.5v1.0M72.9 559.8v1.6M80.7 574.5v2.2M78.3 584.7v0.01M65.3 483.9v0.5" stroke-width="0.8" opacity="0.2"/><path d="M65.5 496.1v0.01M73.2 559.2v2.2M84.0 560.4v0.5M81.9 558.8v2.2M71.3 604.5v0.5M68.6 496.5v1.6M65.5 525.6v1.0M70.0 542.8v2.2M75.4 599.9v1.0M70.1 508.5v1.6M73.9 607.0v1.6M67.9 502.0v2.2M66.8 489.8v1.6M79.5 569.5v1.0M65.7 504.6v2.2M68.5 555.5v0.01M78.3 575.8v1.6M66.8 568.3v0.01M74.8 515.9v0.5M68.2 557.5v2.2M73.2 540.6v0.01M64.9 482.5v1.0M70.3 517.9v0.01M73.2 610.7v0.01M72.5 577.4v0.01M75.2 540.0v0.5M67.3 499.0v0.01M65.0 491.0v2.2M76.7 592.2v0.5M69.5 528.0v1.0M73.0 609.2v0.01M65.7 496.5v0.01M65.2 497.0v1.0M70.8 555.1v1.6M79.1 581.7v1.6M72.4 530.3v0.5M66.6 562.8v2.2M74.2 593.4v1.6M65.5 539.0v1.6M69.8 534.1v2.2M76.8 542.8v1.0" stroke-width="1.1" opacity="0.2"/><path d="M67.5 578.6v1.0M72.9 557.1v1.0M77.8 577.0v0.01M67.6 516.2v1.0M82.2 538.3v0.5M70.8 513.1v1.0M74.4 514.8v2.2M66.3 565.3v0.01M65.2 500.0v0.01M65.1 527.8v1.6M82.6 551.7v2.2M70.1 509.0v1.6M71.7 605.8v0.5M67.5 522.4v0.01M82.1 537.6v2.2M65.4 484.4v1.6M70.0 544.7v0.5M67.5 514.7v0.01M84.9 553.1v1.6M79.8 579.7v1.6M83.9 543.4v2.2M85.1 553.5v1.0M71.8 607.0v1.0M72.5 600.2v0.01M73.8 596.5v0.5M69.2 572.9v1.0M70.0 507.3v1.6M72.5 508.2v0.5M72.2 522.3v0.5" stroke-width="0.8" opacity="0.4"/><path d="M76.1 574.4v1.6M80.3 539.9v1.0M70.0 528.7v0.01M71.2 566.4v1.0M65.4 508.9v0.01M71.3 567.5v2.2M68.2 550.4v1.6M65.6 503.7v0.5M76.3 533.8v2.2M69.2 574.0v2.2M79.7 545.5v0.01M68.7 566.7v0.5M79.5 544.4v1.0M80.1 555.1v1.0M80.1 556.6v0.01M75.5 541.5v0.5M78.2 566.4v1.6M70.7 512.1v1.6M78.0 548.1v1.6M69.1 569.9v0.5M76.7 572.1v0.5M75.6 548.3v0.01M67.9 525.5v1.6M82.9 547.4v1.0M74.9 577.2v0.01M75.2 537.8v1.0" stroke-width="1.1" opacity="0.6"/><path d="M81.8 544.1v1.6M71.7 520.3v1.6M67.4 535.9v1.6M67.8 539.5v1.6M78.9 534.2v0.5M74.4 541.9v0.01M72.3 579.4v0.5M69.0 562.4v0.5M70.5 540.5v0.01M72.9 588.8v1.6M72.0 584.1v0.5M70.4 511.4v2.2M73.2 540.6v0.5M77.5 531.6v0.5" stroke-width="0.8" opacity="0.6"/><circle cx="68.0" cy="542.0" r="4.0" fill="#fff" stroke="none" opacity="0.4" filter="url(#b1)"/><circle cx="75.0" cy="538.0" r="3.0" fill="#fff" stroke="none" opacity="0.3" filter="url(#b1)"/><circle cx="82.0" cy="549.0" r="2.6" fill="#fff" stroke="none" opacity="0.35" filter="url(#b1)"/><circle cx="66.5" cy="507.0" r="2.0" fill="#fff" stroke="none" opacity="0.35" filter="url(#b1)"/><circle cx="72.0" cy="560.0" r="2.6" fill="#fff" stroke="none" opacity="0.25" filter="url(#b1)"/></g>
<g stroke="#fff" stroke-linecap="round" fill="none"><polygon points="118.8,483.7 117.5,505.0 116.2,525.0 115.0,546.0 117.0,560.0 119.5,580.0 122.5,600.0 126.4,618.7 127.2,618.7 128.0,600.0 129.0,580.0 130.0,560.0 130.8,546.0 124.5,525.0 121.5,505.0 119.4,483.7" fill="#fff" opacity="0.10" filter="url(#b2)"/><path d="M127.3 594.2v1.0M123.9 527.0v2.2M122.8 520.7v0.01M120.6 577.1v0.5M120.7 509.2v0.5M123.1 580.8v2.2M126.7 553.6v1.0M123.4 560.9v1.6M121.5 568.7v1.6M118.5 502.5v1.0M119.5 537.4v0.01M120.6 579.7v2.2M118.2 512.8v0.01M125.0 593.0v2.2M117.6 520.5v1.0M127.7 583.6v0.01M120.2 521.7v1.0M127.2 595.1v1.0M121.1 542.4v0.5M123.7 526.3v1.0M120.8 560.4v2.2" stroke-width="1.1" opacity="0.6"/><path d="M119.4 525.7v1.6M126.7 552.8v2.2M122.4 572.7v1.6M125.2 574.5v1.6M122.3 530.1v1.0M124.7 529.7v0.5M125.6 573.8v0.5M124.2 544.6v1.0M123.6 559.4v2.2M120.6 505.6v1.0M126.3 564.7v1.0M122.4 573.4v2.2M117.8 522.4v1.0M125.0 531.3v2.2M120.1 518.4v0.01M117.5 519.4v2.2M117.9 515.5v1.6M117.7 519.9v0.5M123.7 532.8v1.6M122.6 573.9v1.6M126.9 550.5v1.6M120.1 524.1v0.5M119.2 525.9v1.0M121.6 570.1v0.01" stroke-width="0.8" opacity="0.6"/><path d="M122.8 523.1v1.6M119.3 498.7v1.6M126.8 599.5v1.0M125.5 582.6v2.2M123.8 599.2v0.5M119.2 494.2v2.2M117.1 527.4v0.5M126.1 533.7v1.6M128.2 541.6v1.0M118.5 506.8v1.6M118.4 560.6v0.01M119.3 496.6v0.01" stroke-width="1.5" opacity="0.4"/><path d="M126.2 608.9v1.0M122.5 573.6v1.6M126.4 602.7v1.0M128.7 559.7v1.6M119.7 501.3v2.2M121.9 588.4v2.2M119.4 487.9v1.0M119.1 484.8v1.6M126.2 608.7v2.2M126.2 611.9v1.0M119.3 492.7v0.5M125.6 585.2v1.6M124.9 590.9v1.0M120.9 539.0v0.5M117.6 558.0v2.2M122.2 530.6v2.2M126.6 535.3v0.01M124.8 538.1v1.6M120.6 504.0v0.5M126.3 563.0v1.6M122.7 519.8v0.01M127.4 588.8v1.6M125.2 580.9v0.5M126.8 604.2v0.01M120.3 575.4v1.6" stroke-width="1.1" opacity="0.2"/><path d="M119.1 490.4v1.6M118.6 511.7v2.2M126.5 600.8v0.5M122.9 581.3v2.2M129.7 546.8v1.0M128.9 558.0v0.01M129.1 553.4v1.6M118.9 486.9v2.2M123.8 598.7v1.6M120.8 539.3v1.0M126.7 606.6v0.01M123.4 559.5v0.01M121.2 512.1v1.6M121.1 539.8v1.0M125.9 563.7v1.0M128.8 564.6v1.0M128.4 571.0v1.0M129.7 547.1v1.6M124.1 603.2v1.0M120.8 510.0v2.2M119.3 490.2v1.0M119.5 500.7v0.01M125.9 608.9v0.01M126.9 598.4v0.01M117.5 556.4v0.5M119.2 495.6v1.6M127.8 576.5v2.2" stroke-width="0.8" opacity="0.2"/><path d="M119.7 553.9v1.6M125.5 532.8v1.0M124.4 548.0v2.2M122.0 550.6v0.5M122.3 554.0v0.01M121.8 551.8v0.01M117.2 531.4v0.5" stroke-width="0.8" opacity="0.8"/><path d="M121.5 568.7v1.6M126.0 542.9v0.01M122.0 551.6v2.2M125.3 572.8v1.0M119.8 530.7v2.2M122.1 558.1v0.5M122.2 558.2v0.5M123.0 547.0v0.5" stroke-width="1.1" opacity="0.8"/><path d="M126.6 601.3v0.01M125.6 532.5v0.5M126.8 605.7v2.2M129.4 553.0v1.6M124.7 587.7v2.2M118.3 562.0v2.2M121.9 586.5v1.6M122.1 558.9v2.2M126.4 614.0v0.01M117.5 526.1v0.01M119.3 496.2v0.5M121.9 514.6v2.2M121.6 549.1v0.5M119.4 494.3v2.2M122.5 558.9v1.6M124.8 591.6v1.0M129.5 545.4v1.0M118.8 502.5v0.01M128.4 570.9v0.01M118.5 563.7v0.01M123.0 522.7v0.01M125.4 538.8v0.01M124.9 590.3v1.6M118.4 562.9v2.2M128.4 563.4v1.0M126.6 556.1v2.2M126.2 608.5v1.0M126.8 550.9v1.0" stroke-width="0.8" opacity="0.4"/><path d="M121.1 539.5v2.2M124.4 586.0v2.2M127.6 580.4v1.0M123.8 570.5v1.6M125.4 584.2v0.01M125.2 580.6v0.5M117.7 518.3v1.0M123.0 524.5v2.2M122.5 520.2v0.5M122.6 519.1v1.6M122.4 557.9v0.01" stroke-width="1.5" opacity="0.6"/><path d="M118.4 503.6v2.2M125.0 591.0v1.0M123.7 600.3v0.01M127.0 592.5v1.0M129.2 548.2v0.01M120.7 507.2v1.0M126.5 615.7v2.2M121.7 586.6v1.6M126.9 605.1v2.2M126.4 534.6v0.5M119.3 496.5v1.6M119.3 486.9v1.0M123.0 596.4v2.2M117.3 526.0v0.5M118.5 504.9v2.2" stroke-width="1.5" opacity="0.2"/><path d="M127.8 539.5v0.01M127.4 595.3v1.6M122.8 592.4v1.0M118.2 511.9v2.2M128.4 565.7v1.6M125.6 585.2v2.2M120.2 504.3v1.0M128.9 560.6v1.0M122.3 530.9v0.5M118.5 561.9v1.6M121.8 571.1v1.0M118.8 564.2v2.2M126.4 602.3v2.2M123.2 583.1v1.6M128.9 543.9v0.5M126.6 601.6v1.6M126.7 603.2v1.0M122.9 575.8v1.0M119.0 544.3v0.5M116.6 543.2v1.0M128.2 570.0v0.01M117.6 517.2v0.01M125.3 576.2v0.5M119.0 490.1v2.2M116.2 546.7v2.2M117.5 556.6v1.6M120.6 545.7v2.2M124.2 601.4v2.2M124.3 602.7v0.5M128.4 571.0v0.01" stroke-width="1.1" opacity="0.4"/><path d="M123.7 535.2v2.2M119.7 530.8v1.6" stroke-width="1.5" opacity="0.8"/><circle cx="118.5" cy="548.0" r="3.2" fill="#fff" stroke="none" opacity="0.4" filter="url(#b1)"/><circle cx="127.0" cy="547.0" r="2.2" fill="#fff" stroke="none" opacity="0.45" filter="url(#b1)"/><circle cx="124.0" cy="553.0" r="2.0" fill="#fff" stroke="none" opacity="0.4" filter="url(#b1)"/><circle cx="121.0" cy="540.0" r="2.0" fill="#fff" stroke="none" opacity="0.35" filter="url(#b1)"/></g>
<g stroke="#fff" stroke-linecap="round" fill="none"><polygon points="159.2,478.5 156.5,495.0 154.5,515.0 153.0,533.5 153.0,546.6 154.5,560.0 158.0,580.0 161.0,599.0 165.5,612.0 169.5,622.6 170.5,622.6 172.0,612.0 174.0,599.0 175.0,580.0 175.5,560.0 176.6,546.6 171.4,533.5 166.5,515.0 161.5,495.0 160.0,478.5" fill="#fff" opacity="0.07" filter="url(#b2)"/><path d="M160.7 588.0v0.01M172.7 539.7v0.5M159.1 487.3v0.01M170.7 597.1v2.2M172.9 596.4v1.6M161.8 581.3v1.6M166.7 580.2v0.01M155.0 523.9v1.0M167.7 614.7v2.2M169.5 605.8v1.0M157.3 499.4v0.5M164.4 584.8v1.6M157.4 523.8v2.2M169.5 617.7v2.2M165.5 608.5v0.5M159.4 483.9v0.01M159.4 487.5v0.01M166.9 583.0v1.6M167.6 615.0v0.5" stroke-width="0.8" opacity="0.2"/><path d="M158.9 508.9v2.2M169.8 562.0v0.01M165.0 558.5v0.01M156.2 511.1v2.2M157.8 523.1v1.6M168.1 540.0v2.2M156.5 510.7v0.5M164.7 531.7v1.6M162.5 557.8v2.2M169.8 558.5v1.6M167.6 551.3v1.0M167.5 558.1v0.01M156.9 542.5v1.6M159.5 532.1v0.5M171.8 572.5v1.6M169.5 561.1v2.2M162.2 519.7v1.6M161.7 567.7v2.2M172.7 550.3v1.0" stroke-width="1.1" opacity="0.8"/><path d="M162.2 585.8v0.01M163.0 587.1v1.6M164.6 531.2v0.5M162.9 561.0v1.0M159.3 579.8v0.5M166.4 580.6v1.0M171.7 575.0v0.5M163.7 540.6v0.01M162.5 554.4v0.01M166.5 536.4v2.2M159.2 486.7v2.2M172.1 558.0v2.2M169.2 603.9v1.0M172.0 544.2v0.01M171.6 571.1v1.0M166.7 583.0v0.5" stroke-width="1.5" opacity="0.4"/><path d="M160.2 490.3v1.0M161.1 545.4v0.01M166.6 605.2v0.5M164.2 563.3v1.0M168.3 550.6v1.0M156.8 550.6v0.5M164.7 511.8v2.2M168.8 581.7v1.6M165.9 549.9v1.0M168.6 594.5v2.2M158.9 541.4v0.5M159.8 478.8v1.6M157.8 555.6v2.2M171.2 609.2v2.2M160.2 492.3v2.2M154.5 532.3v0.5M164.3 585.5v2.2M157.2 501.0v0.01M167.6 554.8v1.0M170.8 588.6v1.6M171.2 578.3v1.0M160.0 524.1v1.6M164.4 604.5v0.5M166.7 519.3v1.0M166.2 549.6v0.01M162.9 587.6v0.5M169.9 561.7v1.6M170.2 613.0v1.0M159.1 542.5v0.01M159.9 521.5v2.2M159.3 543.1v0.5M172.8 598.4v2.2M167.3 607.0v2.2" stroke-width="0.8" opacity="0.4"/><path d="M163.8 596.4v2.2M171.0 596.2v0.01M166.5 519.6v1.0M166.1 576.8v0.01M170.1 599.2v0.5M160.2 571.1v2.2M170.0 599.0v0.01" stroke-width="1.5" opacity="0.6"/><path d="M171.6 568.2v2.2M169.7 617.9v2.2M169.0 612.9v2.2M160.9 591.6v1.6M173.0 594.3v1.6M163.7 548.5v1.0M159.4 484.4v2.2M163.5 576.0v0.01M171.7 606.9v0.01M159.7 551.8v2.2M156.9 567.3v1.0M170.1 601.0v0.01M161.1 545.6v1.6M157.9 490.8v1.6M166.9 529.7v2.2M160.0 554.1v0.5M159.0 548.6v2.2M169.0 578.3v1.6M163.7 603.5v1.0M160.4 559.3v0.01M173.6 585.4v1.0M156.4 504.9v0.01M175.0 552.8v1.6M161.9 581.5v1.0" stroke-width="1.1" opacity="0.4"/><path d="M170.5 616.0v1.6M157.6 496.7v1.0M162.9 600.4v1.6M159.2 488.9v0.5M159.2 527.5v0.01M165.4 602.0v0.01M159.0 489.0v2.2M157.5 497.5v2.2M168.3 608.7v0.01M157.1 498.3v0.01M156.5 505.5v2.2M165.6 515.6v1.0M154.6 549.1v1.0M163.4 506.8v1.0M171.6 606.9v0.01M161.1 591.6v0.01M167.3 606.7v1.6M160.2 587.1v1.0M173.1 588.8v0.01M158.0 514.5v2.2M157.2 568.7v0.5" stroke-width="1.1" opacity="0.2"/><path d="M169.9 538.6v0.01M160.1 511.8v1.6M163.2 532.6v0.5M157.1 528.6v2.2M164.5 530.0v0.5M167.0 529.7v1.6M164.7 554.6v0.5M170.4 550.7v2.2M159.7 531.1v0.5M160.9 517.8v0.5M172.6 545.5v1.6M171.8 572.1v1.6M163.4 517.7v0.01" stroke-width="0.8" opacity="0.8"/><path d="M156.8 503.6v0.5M162.3 572.9v1.6M161.3 578.7v0.01M164.0 509.7v0.01M174.0 578.8v0.5M156.8 502.5v0.01M158.8 504.9v1.6M156.2 532.8v1.6M165.1 600.3v1.0M157.2 525.5v0.01M164.7 571.3v1.6M168.3 594.9v2.2" stroke-width="0.8" opacity="0.6"/><path d="M157.1 550.3v0.5M160.1 523.1v0.01M160.2 555.3v0.01M164.5 531.0v1.6M161.5 578.7v2.2M166.4 543.2v1.0M172.3 557.5v2.2M156.9 529.1v0.5M158.7 563.9v0.01M163.3 534.3v0.5M170.0 562.5v0.5M166.1 550.1v1.6" stroke-width="1.5" opacity="0.8"/><path d="M174.5 544.2v0.01M168.6 578.3v1.0M156.8 505.2v1.6M161.9 531.8v0.5M169.0 582.2v1.0M167.7 602.7v1.6M158.9 532.5v2.2M155.0 523.1v0.01M154.2 546.4v2.2M159.6 501.4v1.0M154.1 538.0v0.5M162.1 520.5v0.5M157.1 503.1v0.01M156.5 534.4v1.6M155.5 558.4v2.2M159.9 583.5v2.2M158.6 575.5v0.5M159.4 581.7v1.0" stroke-width="1.1" opacity="0.6"/><path d="M166.8 606.2v2.2M158.8 507.1v1.6M165.8 590.1v2.2M159.1 579.6v2.2M168.8 528.7v0.01M160.0 491.1v2.2M157.7 495.9v1.6M164.6 572.4v0.5M165.9 593.0v0.5M166.7 529.4v0.5M162.8 514.0v1.6M157.2 500.0v2.2M157.9 512.7v2.2M173.9 573.3v0.01M155.4 520.3v0.5M165.0 598.3v2.2" stroke-width="1.5" opacity="0.2"/><circle cx="170.1" cy="531.0" r="1.7" fill="#fff" stroke="none" opacity="1" filter="url(#b1)"/><circle cx="171.4" cy="544.0" r="1.9" fill="#fff" stroke="none" opacity="1" filter="url(#b1)"/><circle cx="176.6" cy="546.6" r="1.5" fill="#fff" stroke="none" opacity="0.95" filter="url(#b1)"/><circle cx="173.5" cy="557.6" r="2.0" fill="#fff" stroke="none" opacity="1" filter="url(#b1)"/><circle cx="172.7" cy="565.5" r="1.4" fill="#fff" stroke="none" opacity="0.95" filter="url(#b1)"/><circle cx="155.5" cy="535.0" r="2.0" fill="#fff" stroke="none" opacity="0.5" filter="url(#b1)"/><circle cx="162.0" cy="597.0" r="2.2" fill="#fff" stroke="none" opacity="0.5" filter="url(#b1)"/><circle cx="161.0" cy="533.0" r="1.6" fill="#fff" stroke="none" opacity="0.6" filter="url(#b1)"/></g>
<g stroke="#fff" stroke-linecap="round" fill="none"><polygon points="211.3,492.9 210.5,510.0 208.0,530.0 205.5,541.4 205.0,552.0 207.0,570.0 209.5,590.0 212.5,604.3 213.3,604.3 216.0,590.0 219.0,570.0 220.8,552.0 220.5,541.4 217.5,530.0 214.5,510.0 212.0,492.9" fill="#fff" opacity="0.05" filter="url(#b2)"/><path d="M213.8 582.8v0.5M208.7 549.8v2.2M211.9 501.2v1.0M206.3 546.4v1.6M214.4 577.6v1.6M212.7 597.4v0.5M214.1 516.0v2.2M211.3 514.6v1.0M211.6 576.0v0.01M211.8 559.4v1.6M212.9 552.2v1.6M212.5 517.8v1.0M212.3 505.0v0.5M214.2 592.5v0.5M215.8 564.5v1.6M207.1 560.4v2.2M214.8 590.5v0.01M212.1 505.7v0.01M209.8 582.2v2.2M218.1 568.7v1.0M213.1 565.9v2.2" stroke-width="0.8" opacity="0.4"/><path d="M213.6 508.7v2.2M216.8 543.4v0.01M208.0 535.7v2.2M211.9 497.3v0.5M206.9 540.2v1.6M212.8 598.1v1.6M212.1 502.0v0.01M219.4 542.6v0.5M211.4 591.9v0.5M215.4 525.8v0.5M208.9 532.6v1.6M215.0 587.4v0.5M209.4 541.8v1.0M214.0 592.5v2.2M219.2 558.3v1.0" stroke-width="0.8" opacity="0.2"/><path d="M209.4 580.5v2.2M217.2 533.1v2.2M211.5 594.2v0.5M212.6 507.2v0.01M215.3 564.7v1.6M212.3 506.7v2.2M219.5 544.9v0.5M214.0 592.5v1.6M218.1 568.4v1.0M217.5 573.6v1.0M209.8 525.6v0.01M216.3 528.2v1.0M218.2 536.7v2.2M215.2 572.7v0.5M215.2 534.4v0.5M211.9 502.7v0.01M212.5 506.0v0.5M211.4 526.7v0.5M211.8 594.5v1.0M212.3 505.5v0.01M216.6 557.2v0.5M209.6 559.5v0.5M219.3 543.3v2.2M216.4 531.4v1.6" stroke-width="1.1" opacity="0.4"/><path d="M210.9 549.5v1.6M209.7 526.2v1.0M211.7 494.3v0.5M214.1 541.9v0.5M210.9 572.9v0.01" stroke-width="1.5" opacity="0.2"/><path d="M210.3 587.4v2.2M213.1 567.5v1.0M215.2 571.4v1.6M210.6 534.6v0.01M211.4 575.5v1.0M214.2 556.3v1.6M216.8 576.7v0.5M209.0 546.4v2.2M214.1 574.7v0.01M211.5 509.0v1.6M215.4 569.1v0.01M212.9 568.5v0.5M215.5 536.3v0.01" stroke-width="1.1" opacity="0.6"/><path d="M208.8 574.0v1.6M214.2 558.7v0.01M215.3 572.8v2.2M211.6 581.3v0.5M211.5 526.8v0.01M210.1 537.2v0.01M212.5 517.8v0.01M214.0 532.4v0.01M214.4 578.1v0.5M211.6 532.2v0.01" stroke-width="0.8" opacity="0.6"/><path d="M215.1 524.8v0.01M212.9 588.8v1.0M210.4 586.9v0.5M213.1 573.7v2.2M211.8 554.2v0.01M212.1 504.5v0.01M213.8 514.0v2.2M212.8 597.8v1.6M212.5 588.3v1.6M216.2 563.6v1.0M215.6 586.0v2.2M218.0 566.6v1.6M216.5 560.7v0.5M211.7 510.0v1.0M218.2 537.1v0.5M213.0 599.1v0.01M217.0 549.1v0.5" stroke-width="1.1" opacity="0.2"/><path d="M216.4 538.5v2.2M211.6 538.1v0.5M211.8 545.0v1.6M211.9 540.9v1.6M216.6 530.9v0.5" stroke-width="0.8" opacity="0.8"/><path d="M209.1 555.8v0.01M217.0 548.7v0.5M209.0 547.3v2.2" stroke-width="1.1" opacity="0.8"/><path d="M212.5 519.5v0.01M219.2 543.9v1.0M212.3 502.9v1.0" stroke-width="1.5" opacity="0.4"/><path d="M209.1 548.7v2.2M212.7 520.3v0.01M212.9 585.0v0.01" stroke-width="1.5" opacity="0.6"/><path d="M209.2 545.2v0.5" stroke-width="1.5" opacity="0.8"/><circle cx="214.2" cy="541.4" r="4.3" fill="#fff" stroke="none" opacity="1.0" filter="url(#b1)"/><circle cx="216.5" cy="540.0" r="3.0" fill="#fff" stroke="none" opacity="1.0" filter="url(#b1)"/><circle cx="212.0" cy="543.5" r="3.2" fill="#fff" stroke="none" opacity="0.85" filter="url(#b1)"/><circle cx="212.9" cy="614.8" r="0.7" fill="#fff" stroke="none" opacity="0.6" filter="url(#b1)"/></g>
<g stroke="#fff" stroke-linecap="round" fill="none"><polygon points="255.8,483.7 252.5,490.0 250.0,500.0 249.0,515.0 247.0,541.4 248.5,565.0 250.5,586.0 251.5,600.0 253.5,612.0 255.2,621.3 256.0,621.3 258.5,612.0 260.0,600.0 261.0,586.0 263.0,565.0 264.0,541.4 261.0,515.0 260.0,500.0 258.5,490.0 256.6,483.7" fill="#fff" opacity="0.12" filter="url(#b2)"/><path d="M255.6 616.6v0.5M261.2 571.8v1.0M260.5 522.1v2.2M259.1 594.9v1.6M253.9 607.5v1.6M259.9 518.6v1.0M259.7 514.2v2.2M250.5 511.4v1.0M260.3 518.4v1.0M253.6 501.2v1.6M254.2 587.5v1.0M250.0 520.6v0.5M257.6 490.5v1.0M249.5 565.7v2.2M256.9 613.0v2.2M252.7 507.7v1.6M249.4 564.2v0.01M257.7 535.4v0.5M249.3 529.0v1.6M251.2 583.8v0.5M255.8 600.4v1.0M260.0 519.2v1.0M250.9 549.9v0.01M261.0 525.0v1.6M258.6 501.1v1.6M262.2 535.5v1.6M256.0 485.1v1.0M257.4 610.0v1.6M248.3 545.0v2.2" stroke-width="0.8" opacity="0.2"/><path d="M257.1 588.2v1.6M259.0 529.4v1.6M253.2 576.3v1.6M257.2 587.5v0.5M253.4 547.6v1.0M260.2 548.4v0.01M252.6 510.0v0.5M250.7 547.6v0.01M258.8 528.5v1.6M259.3 533.2v0.5M253.1 547.9v0.5M258.5 572.6v0.5M255.2 521.0v1.0" stroke-width="1.1" opacity="0.6"/><path d="M255.7 578.2v1.6M254.2 584.5v1.0M257.6 514.7v2.2M248.3 538.6v0.5M258.1 605.3v1.0M257.6 513.5v1.0M249.2 556.7v0.01M254.5 560.4v1.0M260.6 521.4v0.01M261.7 531.8v2.2M248.4 548.0v2.2M250.2 570.2v1.6M252.4 595.3v0.5M258.2 579.4v2.2M255.7 576.4v0.01M251.9 564.2v0.01M258.0 582.0v0.5M256.9 589.9v0.5M257.3 507.7v1.0M259.3 507.2v1.0M254.8 596.6v2.2M257.8 608.3v1.0M250.5 514.2v0.5M252.5 519.9v2.2M258.7 499.5v1.0M256.1 605.1v0.5M250.7 578.0v0.01M261.7 568.0v1.6M256.4 496.8v0.01M254.2 530.0v0.5M260.3 550.3v1.0M261.3 526.3v2.2M261.4 529.9v1.0M256.6 598.6v2.2M254.9 510.3v1.6M251.7 524.7v0.5M255.9 602.1v1.6M250.6 537.8v0.5M253.7 498.4v1.0" stroke-width="0.8" opacity="0.4"/><path d="M259.5 511.0v1.6M263.0 542.1v1.6M254.0 489.6v0.5M252.7 597.7v1.0M256.7 488.8v0.5M259.7 516.4v0.01M257.9 493.5v0.01M250.5 542.3v2.2M251.0 535.1v0.01M259.8 513.6v2.2M260.2 551.0v0.01M258.3 578.4v0.01M249.7 563.1v1.0M250.4 510.5v1.0M254.3 496.5v1.0M249.8 567.4v1.0M253.5 550.0v2.2M250.9 546.6v2.2M260.6 574.2v1.6M254.9 510.7v2.2M255.8 601.2v2.2M255.4 495.4v1.6M259.0 595.3v0.5M258.0 579.5v1.6M251.1 582.8v0.5M254.4 568.3v1.6M250.9 547.3v2.2M259.4 569.2v1.0M259.6 592.5v1.0M260.2 519.5v1.6M251.3 499.9v0.01M249.3 557.3v0.01M262.3 538.3v1.0M252.7 512.5v1.6M254.7 613.3v0.5M250.9 537.7v1.6M253.5 548.9v0.5M262.6 543.5v1.0M250.0 520.6v2.2M251.7 531.6v1.0M259.2 507.4v1.0M248.9 552.2v1.0M262.1 535.3v2.2M257.6 490.4v1.6" stroke-width="1.1" opacity="0.2"/><path d="M256.3 504.3v1.6M254.0 521.4v0.01M255.6 553.8v0.5M255.5 538.9v1.0M257.8 545.6v2.2M254.9 509.7v0.01M256.3 525.3v0.01M257.3 585.3v0.01" stroke-width="1.5" opacity="0.6"/><path d="M258.1 496.0v2.2M248.6 551.2v0.5M251.0 554.4v1.6M256.8 590.9v0.01M249.5 564.4v0.5M262.5 548.0v2.2M256.5 501.5v1.6M252.1 596.1v2.2M257.2 612.8v0.5M259.3 590.2v1.0M256.5 533.9v1.0M262.3 554.8v2.2M257.4 491.2v0.5M255.3 544.3v1.0M251.0 578.8v0.01M257.9 551.6v0.01M254.4 587.3v1.6M253.3 547.0v0.01M258.0 540.4v2.2M262.3 534.1v1.6M251.6 526.9v1.6M254.8 515.9v1.6M259.1 596.0v1.0M250.7 540.0v1.0M249.5 556.2v2.2M260.4 583.3v0.01M254.9 514.4v1.6M248.1 541.9v1.6M248.7 532.7v2.2M256.6 487.2v1.6M257.1 563.3v0.01M258.3 575.6v1.0M259.7 513.1v2.2M253.1 492.9v1.0M257.6 535.8v2.2M251.7 584.9v1.0M262.4 536.7v2.2M254.0 498.8v1.6" stroke-width="1.1" opacity="0.4"/><path d="M259.1 569.8v0.01M257.7 517.5v1.0M251.9 588.4v0.01M252.7 509.4v0.5M259.2 530.5v0.01M255.6 577.7v0.01M259.4 560.4v2.2M251.7 584.9v1.0M257.9 580.7v0.01M252.0 522.1v0.5M255.3 517.5v2.2M257.9 541.3v0.5M255.6 581.2v0.5M252.0 521.5v2.2M255.7 583.5v0.01M256.9 599.9v0.01M254.7 591.5v1.0" stroke-width="0.8" opacity="0.6"/><path d="M251.9 560.7v0.01M251.0 582.3v0.01M255.6 615.4v0.5M252.8 509.8v0.5M254.0 500.0v2.2M259.8 515.1v0.5M253.5 605.6v1.6M256.9 589.8v1.6M256.3 505.6v1.6M250.1 515.9v0.01M253.1 603.8v0.5M250.7 576.7v2.2M260.3 578.5v2.2M256.0 485.0v2.2M260.3 518.2v2.2M252.6 496.0v2.2" stroke-width="1.5" opacity="0.2"/><path d="M252.9 510.1v2.2M258.9 599.9v1.6M249.1 553.8v0.5M251.9 559.3v2.2M254.7 567.6v1.6M249.3 560.2v1.0M251.3 582.5v0.5M254.8 515.6v1.6M249.5 565.4v1.6M253.0 538.3v2.2M261.0 526.9v1.6M258.5 572.5v1.6M257.9 535.0v0.01" stroke-width="1.5" opacity="0.4"/><path d="M259.3 532.9v0.01M252.5 569.7v1.0M254.7 564.9v0.5M259.5 561.1v1.6M254.7 560.3v2.2" stroke-width="0.8" opacity="0.8"/><path d="M256.9 554.8v2.2M253.0 549.2v1.6M257.0 564.8v2.2" stroke-width="1.5" opacity="0.8"/><path d="M254.4 562.5v0.5M254.4 570.2v0.01M259.0 567.0v1.0M259.4 558.9v0.5M255.6 573.6v0.01" stroke-width="1.1" opacity="0.8"/><circle cx="257.5" cy="503.0" r="2.0" fill="#fff" stroke="none" opacity="0.95" filter="url(#b1)"/><circle cx="255.0" cy="498.0" r="1.6" fill="#fff" stroke="none" opacity="0.9" filter="url(#b1)"/><ellipse cx="255.5" cy="497.5" rx="3.6" ry="9.5" fill="#fff" stroke="none" opacity="0.9" filter="url(#b2)"/><ellipse cx="255.8" cy="605.0" rx="3.2" ry="11" fill="#fff" stroke="none" opacity="0.75" filter="url(#b2)"/></g>
<g stroke="#fff" stroke-linecap="round" fill="none"><polygon points="309.8,498.1 304.5,508.0 297.5,520.4 295.8,535.0 295.7,546.6 296.2,560.0 297.0,572.8 300.5,590.0 304.5,604.3 305.3,604.3 309.0,590.0 311.5,572.8 313.0,560.0 314.0,546.6 313.8,535.0 312.8,520.4 311.8,508.0 310.4,498.1" fill="#fff" opacity="0.10" filter="url(#b2)"/><path d="M299.8 533.2v1.0M297.2 557.2v0.5M307.3 551.3v2.2M305.2 524.0v0.5M308.8 520.5v0.5M310.7 509.8v0.5M306.0 595.3v2.2M297.0 547.9v0.5M300.3 529.0v1.0M297.1 541.9v0.01M305.9 597.0v1.6M308.2 547.4v1.6M300.5 523.2v0.5M310.0 504.2v0.5M303.3 594.9v1.0M304.8 532.8v0.5M302.2 552.3v1.0M308.1 570.7v2.2M298.0 567.6v1.0M302.3 550.4v2.2M302.5 528.9v1.0M308.8 520.4v1.0M307.5 523.3v0.5M309.3 581.2v1.0M310.1 550.0v2.2M308.2 512.1v0.01" stroke-width="1.1" opacity="0.4"/><path d="M307.8 571.1v0.5M301.5 539.1v1.6M312.6 533.8v1.0M312.4 532.9v1.6M299.5 578.1v1.0M299.0 542.5v1.0M298.0 525.2v2.2M304.6 592.2v2.2M297.8 569.0v0.5" stroke-width="1.5" opacity="0.6"/><path d="M311.7 518.6v0.5M311.3 565.3v1.0M312.7 543.8v1.0M296.7 548.0v0.5M302.9 522.8v0.01M312.6 538.4v1.0M311.5 562.6v0.5M308.1 508.2v0.5M306.6 515.3v1.6M304.1 521.3v0.01M304.8 601.5v2.2M312.1 531.1v1.0M304.9 599.4v1.6M312.2 554.2v2.2" stroke-width="0.8" opacity="0.2"/><path d="M312.5 533.5v1.0M304.5 591.0v0.5M308.1 541.3v0.5M301.8 577.0v1.6M303.2 516.7v0.01M303.7 587.7v1.6M298.1 571.0v0.01M304.6 559.0v1.6M306.0 597.3v1.6M302.4 561.9v0.01M304.8 509.8v1.0M307.4 550.6v1.6M305.5 570.5v0.5M303.1 567.9v1.6M308.0 508.0v0.01M302.8 594.3v0.5M301.3 537.7v1.0M307.5 522.6v1.6M300.2 583.2v0.01M303.0 575.6v1.6M297.2 533.4v0.01M302.1 590.8v0.01" stroke-width="0.8" opacity="0.6"/><path d="M300.1 528.1v1.6M304.5 518.7v1.6M308.0 574.1v0.01M302.4 534.2v1.6M300.9 584.3v2.2M306.6 514.8v0.01M300.6 573.7v1.0M307.2 531.6v1.0M309.7 524.1v1.0" stroke-width="1.1" opacity="0.8"/><path d="M307.6 531.2v1.6M297.0 552.6v0.5M303.7 589.1v1.6M310.7 546.9v0.5M306.6 563.0v0.5M302.4 553.3v0.01M299.0 577.0v1.6M296.9 539.7v0.5M303.4 587.3v2.2M299.2 519.9v0.5M303.9 540.1v1.0M303.5 537.6v0.01M312.9 544.2v0.5M303.1 585.2v1.6M310.4 540.2v2.2M312.0 558.7v0.5M306.2 521.0v2.2M298.3 574.5v2.2M306.3 594.7v1.0M302.4 552.8v1.6M303.6 516.9v1.0M306.7 578.2v1.0M302.4 561.9v2.2" stroke-width="1.1" opacity="0.6"/><path d="M310.6 548.8v0.5M310.7 547.8v0.5M305.8 516.9v1.6M299.7 562.4v0.5M305.2 575.1v0.5M308.5 544.9v0.5M300.0 561.9v2.2M307.2 523.0v1.0M306.8 579.9v0.01M307.3 551.7v1.0M305.4 571.3v0.5" stroke-width="0.8" opacity="0.8"/><path d="M304.8 601.1v0.01M309.3 579.3v0.5M309.3 578.2v0.01M308.5 583.7v2.2M300.7 522.4v2.2M297.9 525.7v0.5M310.4 508.0v2.2M308.0 588.8v0.5M301.0 576.5v1.6M309.0 583.3v0.5M305.7 588.1v1.0M310.2 504.2v1.0M311.7 561.0v2.2M296.9 537.6v0.5M312.0 522.6v1.0M310.5 571.0v0.5M309.6 501.0v0.5M296.7 540.2v2.2M296.6 547.6v0.01" stroke-width="1.1" opacity="0.2"/><path d="M301.5 548.5v0.01M309.2 561.9v2.2M309.8 555.2v1.0M300.5 571.5v2.2M309.5 552.5v0.5M305.9 536.8v1.6M308.3 542.6v1.6M308.0 567.9v0.01M305.7 536.9v1.0" stroke-width="1.1" opacity="1.0"/><path d="M301.5 589.0v0.01M311.9 555.0v0.5M304.7 600.8v0.01M304.5 563.6v0.01M310.3 509.1v1.0M311.8 526.9v2.2M307.1 556.7v0.01M311.0 568.3v2.2M307.5 528.5v1.6M308.2 567.4v1.0M311.2 519.2v1.6M309.7 499.8v2.2M302.4 526.3v1.6M307.2 549.4v0.01M302.3 551.1v1.6M304.6 553.0v2.2M303.2 576.3v1.6" stroke-width="1.5" opacity="0.4"/><path d="M308.1 548.3v1.6M310.7 541.1v1.6M306.2 520.8v2.2M301.1 587.2v1.0M305.3 570.5v1.0" stroke-width="1.5" opacity="0.8"/><path d="M311.9 555.5v1.6M299.8 560.6v1.6M309.5 579.8v0.5M304.8 590.9v0.01M303.1 574.8v1.6M301.2 587.3v0.01M300.1 564.2v1.0M297.6 560.9v2.2M302.6 513.7v1.0M299.8 532.1v1.0M309.6 532.2v2.2M307.0 556.3v1.0M302.0 562.9v0.01M308.4 585.0v2.2M312.2 554.4v1.0M303.4 589.1v1.0M304.1 519.7v2.2M309.3 579.2v0.5M308.1 549.0v1.6M311.6 517.3v1.6M298.0 568.5v1.0M303.0 571.1v1.0" stroke-width="0.8" opacity="0.4"/><path d="M308.4 538.2v2.2M305.7 572.2v0.01M299.0 536.7v1.0" stroke-width="1.5" opacity="1.0"/><path d="M304.7 556.8v1.6M306.0 546.8v0.01M301.4 546.5v0.01M309.8 530.8v0.5M307.4 550.5v1.6M310.7 540.4v0.01M302.2 560.6v1.6M299.6 560.9v2.2" stroke-width="0.8" opacity="1.0"/><path d="M304.9 600.7v1.6M304.1 598.8v0.01M297.3 550.7v1.0" stroke-width="1.5" opacity="0.2"/><circle cx="306.2" cy="541.4" r="3.8" fill="#fff" stroke="none" opacity="0.85" filter="url(#b1)"/><circle cx="309.5" cy="545.0" r="3.0" fill="#fff" stroke="none" opacity="0.8" filter="url(#b1)"/><circle cx="303.0" cy="538.0" r="2.6" fill="#fff" stroke="none" opacity="0.7" filter="url(#b1)"/><circle cx="308.0" cy="531.0" r="2.2" fill="#fff" stroke="none" opacity="0.7" filter="url(#b1)"/><circle cx="301.0" cy="548.0" r="2.0" fill="#fff" stroke="none" opacity="0.6" filter="url(#b1)"/></g>
<g stroke="#fff" stroke-linecap="round" fill="none"><polygon points="345.6,492.9 343.0,505.0 341.0,520.0 340.3,533.5 340.8,550.0 341.6,572.8 342.5,590.0 343.3,605.0 343.9,613.5 344.5,613.5 346.5,605.0 348.5,590.0 350.8,572.8 353.5,550.0 354.7,533.5 352.5,520.0 348.5,505.0 346.4,492.9" fill="#fff" opacity="0.06" filter="url(#b2)"/><path d="M341.4 534.8v1.0M346.0 528.2v1.0M347.1 545.8v1.6M342.3 519.4v0.5M349.5 575.8v2.2M342.7 573.6v2.2M349.5 575.7v1.0M347.1 545.7v1.0M347.7 589.1v2.2M349.0 520.7v0.01M347.2 523.9v0.01M344.7 524.5v2.2M349.0 559.4v1.0M350.7 542.8v0.5M349.0 519.5v1.6M345.8 506.8v0.5M345.8 499.0v1.0M347.0 546.9v1.0M344.6 611.3v1.0M349.5 524.8v2.2M345.0 604.5v2.2M344.8 607.0v1.0M342.1 557.6v1.0M351.0 537.9v0.5M345.0 605.9v1.0" stroke-width="0.8" opacity="0.2"/><path d="M350.0 567.7v1.6M341.6 535.6v0.01M350.6 517.6v0.01M344.5 611.9v0.01M344.7 525.1v1.0M341.7 526.7v1.0M344.4 607.6v0.01M351.5 522.4v1.0" stroke-width="1.5" opacity="0.2"/><path d="M343.4 510.2v0.01M342.4 557.6v2.2M342.1 549.7v0.01M347.1 526.4v0.5M343.2 588.0v1.0M347.0 524.8v0.01M349.5 553.5v2.2M342.2 547.4v1.6M348.0 583.8v2.2M344.6 525.0v1.0M343.8 591.3v2.2M344.2 594.2v2.2M344.1 598.5v2.2M344.6 526.9v0.01M352.0 552.6v0.5" stroke-width="0.8" opacity="0.6"/><path d="M344.6 607.2v1.0M341.7 534.0v0.01M346.7 558.5v1.0M351.4 558.5v1.0M344.6 608.2v1.0M351.4 557.3v0.5M344.7 608.1v0.01M348.7 537.0v1.6M351.2 558.1v1.6M344.0 591.1v0.5M351.6 521.6v2.2M345.3 564.6v0.5M347.4 527.3v2.2M342.6 575.4v1.6M346.3 544.9v0.01M350.1 569.5v1.6M346.7 590.7v0.5M347.7 587.1v1.0M350.5 542.6v0.5M349.1 521.8v0.5M349.7 549.0v0.5M347.8 588.7v1.6" stroke-width="0.8" opacity="0.4"/><path d="M343.8 595.3v0.5M352.9 542.5v0.5M350.8 530.1v1.6M351.8 554.1v1.0M347.2 577.1v0.5M346.5 595.1v1.6M348.4 541.1v1.6M342.8 514.5v1.0M343.8 596.4v1.0M349.3 521.1v1.6M346.6 519.1v1.0M351.6 553.9v0.01M346.0 583.2v0.01M342.3 562.9v0.5M343.3 584.0v0.01M351.0 540.4v0.5M343.3 583.7v1.6M346.9 562.3v1.0M350.5 543.3v1.6M341.4 538.8v2.2M346.8 557.2v1.0M348.2 580.6v2.2" stroke-width="1.1" opacity="0.6"/><path d="M345.4 566.2v1.0M346.0 497.9v1.0M349.0 561.9v1.6M345.8 508.3v0.5M350.6 528.1v0.5M349.1 522.0v2.2M344.1 612.0v0.5M341.5 534.6v1.0M341.5 539.5v0.5M347.1 553.4v0.5M345.0 569.9v1.0M346.4 597.6v1.6M346.9 590.2v1.6M349.0 521.2v0.5M347.7 567.5v1.6M353.6 533.9v0.5M347.7 564.5v1.0M342.5 573.1v0.01M352.7 529.0v0.5M344.2 504.6v0.5M341.5 537.0v0.5M350.2 569.3v1.0M346.4 598.2v2.2M345.1 605.0v2.2M351.2 561.9v0.01M343.4 512.2v1.0" stroke-width="1.1" opacity="0.4"/><path d="M345.7 578.7v0.5M346.0 530.4v1.6M345.0 571.7v1.6M349.6 526.5v1.0M346.9 552.3v0.01M344.5 551.6v2.2M348.0 563.1v1.0M348.5 528.4v1.6M348.4 542.3v0.5M344.0 534.2v0.5M348.8 578.4v1.0M349.6 547.4v2.2M348.4 537.8v0.5" stroke-width="0.8" opacity="0.8"/><path d="M350.7 545.0v1.6M345.0 606.3v0.5M346.1 496.6v0.01M347.3 576.9v0.5M348.7 518.6v1.6M345.5 586.2v1.0M343.9 601.2v1.6M344.6 519.6v2.2M346.1 495.4v2.2M346.1 534.7v1.0M345.9 508.1v1.6M342.3 522.0v0.01M344.3 610.3v0.01M347.9 566.6v0.5M342.3 520.9v1.6M344.6 503.8v1.6M344.8 605.7v1.6M343.2 584.4v1.0M344.3 597.4v0.01M347.1 553.7v1.6M351.6 554.6v1.6M352.0 554.0v1.6M352.8 542.8v2.2M342.1 526.4v0.01M344.5 607.1v0.01M346.0 493.9v2.2M347.5 572.1v2.2" stroke-width="1.1" opacity="0.2"/><path d="M342.7 573.7v0.5M350.8 561.6v1.6M342.9 573.9v0.01M348.0 563.5v2.2" stroke-width="1.5" opacity="0.8"/><path d="M342.2 522.8v2.2M351.9 523.0v0.5M353.6 535.4v0.5M346.1 597.1v1.0M346.6 595.9v1.0M344.0 594.7v0.01M341.8 542.3v2.2M352.9 539.5v1.6M342.2 524.4v2.2M346.1 601.8v1.6M346.1 497.9v0.01M342.1 556.8v0.01M349.3 557.9v1.0M342.8 562.9v0.01M351.3 560.7v1.0" stroke-width="1.5" opacity="0.4"/><path d="M345.4 517.4v1.6M343.5 512.0v0.01M342.7 568.9v1.0M348.5 579.2v1.6M346.9 557.4v0.01M345.2 515.5v0.01M347.7 565.2v1.0M342.9 575.8v1.6M343.5 584.4v0.5M351.3 560.0v0.5" stroke-width="1.5" opacity="0.6"/><path d="M350.3 565.9v0.5M345.1 570.7v0.5M344.9 577.1v0.5" stroke-width="1.1" opacity="0.8"/><circle cx="346.0" cy="493.6" r="2.1" fill="#fff" stroke="none" opacity="1.0" filter="url(#b1)"/><circle cx="344.2" cy="572.3" r="2.3" fill="#fff" stroke="none" opacity="0.9" filter="url(#b1)"/><circle cx="352.0" cy="526.0" r="1.5" fill="#fff" stroke="none" opacity="0.7" filter="url(#b1)"/><circle cx="351.0" cy="540.0" r="1.4" fill="#fff" stroke="none" opacity="0.6" filter="url(#b1)"/></g>
<rect x="406.30" y="544.78" width="9.30" height="34.62" fill="#f0606c"/>
<rect x="406.30" y="505.34" width="9.30" height="39.45" fill="#70d0e2"/>
<rect x="406.30" y="498.90" width="9.30" height="6.44" fill="#74cc4e"/>
<rect x="421.20" y="557.66" width="9.30" height="21.74" fill="url(#hP)"/>
<rect x="421.20" y="523.05" width="9.30" height="34.62" fill="url(#hI)"/>
<rect x="421.20" y="498.90" width="9.30" height="24.15" fill="url(#hF)"/>
<rect x="435.70" y="526.27" width="9.30" height="53.13" fill="#f0606c"/>
<rect x="435.70" y="505.34" width="9.30" height="20.93" fill="#70d0e2"/>
<rect x="435.70" y="498.90" width="9.30" height="6.44" fill="#74cc4e"/>
<rect x="450.20" y="528.68" width="9.30" height="50.72" fill="url(#hP)"/>
<rect x="450.20" y="503.73" width="9.30" height="24.96" fill="url(#hI)"/>
<rect x="450.20" y="498.90" width="9.30" height="4.83" fill="url(#hF)"/>
<rect x="464.60" y="531.90" width="9.30" height="47.50" fill="#f0606c"/>
<rect x="464.60" y="502.12" width="9.30" height="29.79" fill="#70d0e2"/>
<rect x="464.60" y="498.90" width="9.30" height="3.22" fill="#74cc4e"/>
<rect x="479.10" y="533.51" width="9.30" height="45.89" fill="url(#hP)"/>
<rect x="479.10" y="503.73" width="9.30" height="29.79" fill="url(#hI)"/>
<rect x="479.10" y="498.90" width="9.30" height="4.83" fill="url(#hF)"/>
<rect x="493.70" y="530.29" width="9.30" height="49.11" fill="#f0606c"/>
<rect x="493.70" y="498.90" width="9.30" height="31.40" fill="#70d0e2"/>
<rect x="508.50" y="519.83" width="9.30" height="59.57" fill="url(#hP)"/>
<rect x="508.50" y="498.90" width="9.30" height="20.93" fill="url(#hI)"/>
<line x1="401.60" y1="498.60" x2="401.60" y2="579.70" stroke="#333" stroke-width="0.6"/>
<line x1="401.30" y1="579.40" x2="522.50" y2="579.40" stroke="#333" stroke-width="0.6"/>
<line x1="399.30" y1="579.40" x2="401.60" y2="579.40" stroke="#333" stroke-width="0.6"/>
<text x="398.90" y="582.30" font-size="8.4" font-weight="bold" text-anchor="end" fill="#000">0</text>
<line x1="399.30" y1="559.27" x2="401.60" y2="559.27" stroke="#333" stroke-width="0.6"/>
<text x="398.90" y="562.17" font-size="8.4" font-weight="bold" text-anchor="end" fill="#000">25</text>
<line x1="399.30" y1="539.15" x2="401.60" y2="539.15" stroke="#333" stroke-width="0.6"/>
<text x="398.90" y="542.05" font-size="8.4" font-weight="bold" text-anchor="end" fill="#000">50</text>
<line x1="399.30" y1="519.02" x2="401.60" y2="519.02" stroke="#333" stroke-width="0.6"/>
<text x="398.90" y="521.92" font-size="8.4" font-weight="bold" text-anchor="end" fill="#000">75</text>
<line x1="399.30" y1="498.90" x2="401.60" y2="498.90" stroke="#333" stroke-width="0.6"/>
<text x="398.90" y="501.80" font-size="8.4" font-weight="bold" text-anchor="end" fill="#000">100</text>
<line x1="418.50" y1="579.40" x2="418.50" y2="581.80" stroke="#333" stroke-width="0.6"/>
<line x1="447.50" y1="579.40" x2="447.50" y2="581.80" stroke="#333" stroke-width="0.6"/>
<line x1="476.40" y1="579.40" x2="476.40" y2="581.80" stroke="#333" stroke-width="0.6"/>
<line x1="505.50" y1="579.40" x2="505.50" y2="581.80" stroke="#333" stroke-width="0.6"/>
<text x="381.60" y="540.00" font-size="8.8" font-weight="bold" text-anchor="middle" fill="#000" transform="rotate(-90 381.60 540.00)">% Distribution</text>
<text x="421.95" y="585.20" font-size="8.2" font-weight="bold" text-anchor="end" fill="#000" transform="rotate(-90 421.95 585.20)">WT</text>
<text x="444.54" y="599.23" font-size="7.9" font-weight="bold" font-style="italic" text-anchor="middle" fill="#000" transform="rotate(-90 444.54 599.23)">pek-1</text>
<text x="454.94" y="599.23" font-size="7.9" font-weight="bold" font-style="italic" text-anchor="middle" fill="#000" transform="rotate(-90 454.94 599.23)">(ok275)</text>
<text x="472.74" y="601.64" font-size="7.9" font-weight="bold" font-style="italic" text-anchor="middle" fill="#000" transform="rotate(-90 472.74 601.64)">atfs-1</text>
<text x="483.14" y="601.64" font-size="7.9" font-weight="bold" font-style="italic" text-anchor="middle" fill="#000" transform="rotate(-90 483.14 601.64)">(tm4525)</text>
<text x="502.94" y="600.98" font-size="7.9" font-weight="bold" font-style="italic" text-anchor="middle" fill="#000" transform="rotate(-90 502.94 600.98)">pek-1(-);</text>
<text x="513.54" y="600.98" font-size="7.9" font-weight="bold" font-style="italic" text-anchor="middle" fill="#000" transform="rotate(-90 513.54 600.98)">atfs-1(-)</text>
<rect x="382.70" y="454.90" width="7.20" height="7.20" fill="#fff" stroke="#111" stroke-width="1.0"/>
<rect x="382.70" y="464.90" width="7.20" height="7.20" fill="url(#hatchL)" stroke="#222" stroke-width="1.0"/>
<text x="393.30" y="461.10" font-size="7.4" text-anchor="start" fill="#000">CNT</text>
<text x="393.30" y="471.10" font-size="7.4" text-anchor="start" fill="#000">TM</text>
<rect x="373.00" y="611.10" width="63.30" height="31.00" fill="#fff" stroke="#666" stroke-width="0.6"/>
<rect x="376.20" y="613.30" width="5.00" height="5.00" fill="#74cc4e" stroke="#555" stroke-width="0.3"/>
<text x="384.30" y="618.90" font-size="8.6" text-anchor="start" fill="#222">Filamentous</text>
<rect x="376.20" y="622.60" width="5.00" height="5.00" fill="#70d0e2" stroke="#555" stroke-width="0.3"/>
<text x="384.30" y="628.20" font-size="8.6" text-anchor="start" fill="#222">Intermediate</text>
<rect x="376.20" y="631.80" width="5.00" height="5.00" fill="#f0606c" stroke="#555" stroke-width="0.3"/>
<text x="384.30" y="637.40" font-size="8.6" text-anchor="start" fill="#222">Punctate</text>
<polyline points="425.40,475.10 425.40,450.40 513.60,450.40 513.60,493.10" fill="none" stroke="#222" stroke-width="0.8"/>
<text x="470.00" y="450.85" font-size="7.0" font-weight="bold" text-anchor="middle" fill="#000">****</text>
<polyline points="425.40,456.70 484.20,456.70 484.20,467.50" fill="none" stroke="#222" stroke-width="0.8"/>
<text x="455.20" y="457.15" font-size="7.0" font-weight="bold" text-anchor="middle" fill="#000">****</text>
<polyline points="485.70,467.50 485.70,456.70 511.70,456.70 511.70,493.10" fill="none" stroke="#222" stroke-width="0.8"/>
<text x="499.00" y="457.15" font-size="7.0" font-weight="bold" text-anchor="middle" fill="#000">**</text>
<polyline points="425.40,463.20 454.80,463.20 454.80,467.50" fill="none" stroke="#222" stroke-width="0.8"/>
<text x="440.50" y="463.55" font-size="7.0" font-weight="bold" text-anchor="middle" fill="#000">****</text>
<polyline points="440.20,475.10 440.20,469.40 499.00,469.40 499.00,487.40" fill="none" stroke="#222" stroke-width="0.8"/>
<text x="470.00" y="469.75" font-size="7.0" font-weight="bold" text-anchor="middle" fill="#000">**</text>
<polyline points="410.60,497.00 410.60,475.10 499.00,475.10" fill="none" stroke="#222" stroke-width="0.8"/>
<text x="454.80" y="475.55" font-size="7.0" font-weight="bold" text-anchor="middle" fill="#000">**</text>
<polyline points="410.60,482.10 469.40,482.10 469.40,486.50" fill="none" stroke="#222" stroke-width="0.8"/>
<text x="440.20" y="482.55" font-size="7.0" font-weight="bold" text-anchor="middle" fill="#000">*</text>
<polyline points="411.70,491.20 411.70,488.40 440.50,488.40 440.50,497.00" fill="none" stroke="#222" stroke-width="0.8"/>
<text x="425.80" y="488.85" font-size="7.0" font-weight="bold" text-anchor="middle" fill="#000">**</text>
<polyline points="454.80,497.00 454.80,488.40 510.80,488.40 510.80,493.10" fill="none" stroke="#222" stroke-width="0.8"/>
<text x="482.70" y="488.85" font-size="7.0" font-weight="bold" text-anchor="middle" fill="#000">*</text>
<polyline points="410.60,495.00 425.40,495.00 425.40,497.00" fill="none" stroke="#222" stroke-width="0.8"/>
<text x="418.40" y="495.35" font-size="7.0" font-weight="bold" text-anchor="middle" fill="#000">***</text>
<polyline points="498.40,497.00 498.40,495.00 513.60,495.00 513.60,497.00" fill="none" stroke="#222" stroke-width="0.8"/>
<text x="506.40" y="494.95" font-size="7.0" font-weight="bold" text-anchor="middle" fill="#000">*</text>
<rect x="560.10" y="418.08" width="10.20" height="11.32" fill="#000" stroke="#000" stroke-width="0.4"/>
<rect x="575.80" y="403.60" width="10.20" height="25.80" fill="url(#ckK)" stroke="#333" stroke-width="0.4"/>
<rect x="591.20" y="423.35" width="10.20" height="6.05" fill="#dc2d9c" stroke="#b01870" stroke-width="0.4"/>
<rect x="606.40" y="425.19" width="10.20" height="4.21" fill="url(#ckM)" stroke="#d63a92" stroke-width="0.4"/>
<rect x="622.10" y="421.24" width="10.20" height="8.16" fill="#ec832c" stroke="#c96a18" stroke-width="0.4"/>
<rect x="637.60" y="421.24" width="10.20" height="8.16" fill="url(#ckO)" stroke="#e8923c" stroke-width="0.4"/>
<rect x="653.00" y="419.92" width="10.20" height="9.48" fill="#37a03a" stroke="#227a26" stroke-width="0.4"/>
<rect x="668.40" y="419.92" width="10.20" height="9.48" fill="url(#ckG)" stroke="#3fa23f" stroke-width="0.4"/>
<line x1="565.20" y1="416.76" x2="565.20" y2="419.40" stroke="#999" stroke-width="0.5"/>
<line x1="562.80" y1="416.76" x2="567.60" y2="416.76" stroke="#999" stroke-width="0.5"/>
<line x1="580.90" y1="401.23" x2="580.90" y2="405.97" stroke="#333" stroke-width="0.5"/>
<line x1="578.50" y1="401.23" x2="583.30" y2="401.23" stroke="#333" stroke-width="0.5"/>
<line x1="596.30" y1="422.29" x2="596.30" y2="424.40" stroke="#bbb" stroke-width="0.5"/>
<line x1="593.90" y1="422.29" x2="598.70" y2="422.29" stroke="#bbb" stroke-width="0.5"/>
<line x1="611.50" y1="424.27" x2="611.50" y2="426.11" stroke="#333" stroke-width="0.5"/>
<line x1="609.10" y1="424.27" x2="613.90" y2="424.27" stroke="#333" stroke-width="0.5"/>
<line x1="627.20" y1="419.92" x2="627.20" y2="422.56" stroke="#bbb" stroke-width="0.5"/>
<line x1="624.80" y1="419.92" x2="629.60" y2="419.92" stroke="#bbb" stroke-width="0.5"/>
<line x1="642.70" y1="419.79" x2="642.70" y2="422.69" stroke="#333" stroke-width="0.5"/>
<line x1="640.30" y1="419.79" x2="645.10" y2="419.79" stroke="#333" stroke-width="0.5"/>
<line x1="658.10" y1="418.34" x2="658.10" y2="421.50" stroke="#bbb" stroke-width="0.5"/>
<line x1="655.70" y1="418.34" x2="660.50" y2="418.34" stroke="#bbb" stroke-width="0.5"/>
<line x1="673.50" y1="418.61" x2="673.50" y2="421.24" stroke="#333" stroke-width="0.5"/>
<line x1="671.10" y1="418.61" x2="675.90" y2="418.61" stroke="#333" stroke-width="0.5"/>
<line x1="555.40" y1="323.80" x2="555.40" y2="429.70" stroke="#333" stroke-width="0.6"/>
<line x1="555.10" y1="429.40" x2="683.00" y2="429.40" stroke="#333" stroke-width="0.6"/>
<line x1="553.10" y1="429.40" x2="555.40" y2="429.40" stroke="#333" stroke-width="0.6"/>
<text x="553.00" y="432.00" font-size="7.4" font-weight="bold" text-anchor="end" fill="#000">0</text>
<line x1="553.10" y1="403.07" x2="555.40" y2="403.07" stroke="#333" stroke-width="0.6"/>
<text x="553.00" y="405.68" font-size="7.4" font-weight="bold" text-anchor="end" fill="#000">10</text>
<line x1="553.10" y1="376.75" x2="555.40" y2="376.75" stroke="#333" stroke-width="0.6"/>
<text x="553.00" y="379.35" font-size="7.4" font-weight="bold" text-anchor="end" fill="#000">20</text>
<line x1="553.10" y1="350.43" x2="555.40" y2="350.43" stroke="#333" stroke-width="0.6"/>
<text x="553.00" y="353.03" font-size="7.4" font-weight="bold" text-anchor="end" fill="#000">30</text>
<line x1="553.10" y1="324.10" x2="555.40" y2="324.10" stroke="#333" stroke-width="0.6"/>
<text x="553.00" y="326.70" font-size="7.4" font-weight="bold" text-anchor="end" fill="#000">40</text>
<line x1="573.00" y1="429.40" x2="573.00" y2="431.80" stroke="#333" stroke-width="0.6"/>
<line x1="604.00" y1="429.40" x2="604.00" y2="431.80" stroke="#333" stroke-width="0.6"/>
<line x1="635.00" y1="429.40" x2="635.00" y2="431.80" stroke="#333" stroke-width="0.6"/>
<line x1="665.90" y1="429.40" x2="665.90" y2="431.80" stroke="#333" stroke-width="0.6"/>
<text x="536.80" y="323.00" font-size="13" font-weight="bold" text-anchor="start" fill="#000">I</text>
<text x="541.20" y="376.20" font-size="8.25" font-weight="bold" text-anchor="middle" fill="#000" transform="rotate(-90 541.20 376.20)">Travel Speed (mm/min)</text>
<rect x="649.40" y="326.40" width="7.60" height="7.60" fill="#fff" stroke="#111" stroke-width="1.0"/>
<rect x="649.40" y="337.00" width="7.60" height="7.60" fill="url(#hatchL)" stroke="#222" stroke-width="1.0"/>
<text x="660.10" y="332.80" font-size="8.0" text-anchor="start" fill="#000">CNT</text>
<text x="660.10" y="343.40" font-size="8.0" text-anchor="start" fill="#000">TM</text>
<text x="575.87" y="433.50" font-size="8.8" font-weight="bold" text-anchor="end" fill="#000" transform="rotate(-90 575.87 433.50)">WT</text>
<text x="601.98" y="447.50" font-size="8.0" font-weight="bold" font-style="italic" text-anchor="middle" fill="#000" transform="rotate(-90 601.98 447.50)">pek-1</text>
<text x="612.48" y="447.50" font-size="8.0" font-weight="bold" font-style="italic" text-anchor="middle" fill="#000" transform="rotate(-90 612.48 447.50)">(ok275)</text>
<text x="632.38" y="449.95" font-size="8.0" font-weight="bold" font-style="italic" text-anchor="middle" fill="#000" transform="rotate(-90 632.38 449.95)">atfs-1</text>
<text x="642.78" y="449.95" font-size="8.0" font-weight="bold" font-style="italic" text-anchor="middle" fill="#000" transform="rotate(-90 642.78 449.95)">(tm4525)</text>
<text x="663.68" y="449.28" font-size="8.0" font-weight="bold" font-style="italic" text-anchor="middle" fill="#000" transform="rotate(-90 663.68 449.28)">pek-1(-);</text>
<text x="674.18" y="449.28" font-size="8.0" font-weight="bold" font-style="italic" text-anchor="middle" fill="#000" transform="rotate(-90 674.18 449.28)">atfs-1(-)</text>
<g fill="#000"><rect x="560.7" y="419.4" width="1.5" height="1.5" rx="0.5"/><rect x="562.6" y="419.8" width="1.5" height="1.5" rx="0.5"/><rect x="564.5" y="420.2" width="1.5" height="1.5" rx="0.5"/><rect x="566.4" y="420.4" width="1.5" height="1.5" rx="0.5"/><rect x="568.2" y="420.6" width="1.5" height="1.5" rx="0.5"/><rect x="560.1" y="424.5" width="1.5" height="1.5" rx="0.5"/><rect x="561.0" y="424.7" width="1.5" height="1.5" rx="0.5"/><rect x="562.0" y="424.7" width="1.5" height="1.5" rx="0.5"/><rect x="563.0" y="424.7" width="1.5" height="1.5" rx="0.5"/><rect x="564.0" y="425.0" width="1.5" height="1.5" rx="0.5"/><rect x="564.9" y="425.0" width="1.5" height="1.5" rx="0.5"/><rect x="565.9" y="425.1" width="1.5" height="1.5" rx="0.5"/><rect x="566.9" y="425.1" width="1.5" height="1.5" rx="0.5"/><rect x="567.9" y="425.5" width="1.5" height="1.5" rx="0.5"/><rect x="568.9" y="425.6" width="1.5" height="1.5" rx="0.5"/><rect x="560.1" y="422.8" width="1.5" height="1.5" rx="0.5"/><rect x="561.2" y="423.0" width="1.5" height="1.5" rx="0.5"/><rect x="562.2" y="423.2" width="1.5" height="1.5" rx="0.5"/><rect x="563.4" y="423.4" width="1.5" height="1.5" rx="0.5"/><rect x="564.5" y="423.4" width="1.5" height="1.5" rx="0.5"/><rect x="565.6" y="423.6" width="1.5" height="1.5" rx="0.5"/><rect x="566.7" y="423.7" width="1.5" height="1.5" rx="0.5"/><rect x="567.8" y="423.9" width="1.5" height="1.5" rx="0.5"/><rect x="568.9" y="424.2" width="1.5" height="1.5" rx="0.5"/><rect x="562.6" y="410.7" width="1.5" height="1.5" rx="0.5"/><rect x="564.5" y="411.4" width="1.5" height="1.5" rx="0.5"/><rect x="566.4" y="412.0" width="1.5" height="1.5" rx="0.5"/><rect x="562.6" y="416.4" width="1.5" height="1.5" rx="0.5"/><rect x="564.5" y="416.7" width="1.5" height="1.5" rx="0.5"/><rect x="566.4" y="417.4" width="1.5" height="1.5" rx="0.5"/><rect x="562.6" y="414.3" width="1.5" height="1.5" rx="0.5"/><rect x="564.5" y="414.9" width="1.5" height="1.5" rx="0.5"/><rect x="566.4" y="415.6" width="1.5" height="1.5" rx="0.5"/><rect x="564.5" y="399.6" width="1.5" height="1.5" rx="0.5"/><rect x="560.7" y="426.6" width="1.5" height="1.5" rx="0.5"/><rect x="562.6" y="426.8" width="1.5" height="1.5" rx="0.5"/><rect x="564.5" y="426.9" width="1.5" height="1.5" rx="0.5"/><rect x="566.4" y="427.0" width="1.5" height="1.5" rx="0.5"/><rect x="568.2" y="427.1" width="1.5" height="1.5" rx="0.5"/><rect x="562.6" y="407.6" width="1.5" height="1.5" rx="0.5"/><rect x="564.5" y="408.2" width="1.5" height="1.5" rx="0.5"/><rect x="566.4" y="408.6" width="1.5" height="1.5" rx="0.5"/><rect x="561.6" y="412.6" width="1.5" height="1.5" rx="0.5"/><rect x="563.5" y="412.8" width="1.5" height="1.5" rx="0.5"/><rect x="565.4" y="413.5" width="1.5" height="1.5" rx="0.5"/><rect x="567.3" y="413.9" width="1.5" height="1.5" rx="0.5"/><rect x="560.7" y="421.0" width="1.5" height="1.5" rx="0.5"/><rect x="562.6" y="421.0" width="1.5" height="1.5" rx="0.5"/><rect x="564.5" y="421.6" width="1.5" height="1.5" rx="0.5"/><rect x="566.4" y="421.6" width="1.5" height="1.5" rx="0.5"/><rect x="568.2" y="422.1" width="1.5" height="1.5" rx="0.5"/><rect x="561.6" y="418.2" width="1.5" height="1.5" rx="0.5"/><rect x="563.5" y="418.3" width="1.5" height="1.5" rx="0.5"/><rect x="565.4" y="418.5" width="1.5" height="1.5" rx="0.5"/><rect x="567.3" y="418.7" width="1.5" height="1.5" rx="0.5"/><rect x="562.6" y="409.6" width="1.5" height="1.5" rx="0.5"/><rect x="564.5" y="410.4" width="1.5" height="1.5" rx="0.5"/><rect x="566.4" y="410.5" width="1.5" height="1.5" rx="0.5"/><rect x="563.5" y="406.1" width="1.5" height="1.5" rx="0.5"/><rect x="565.4" y="406.2" width="1.5" height="1.5" rx="0.5"/><rect x="564.5" y="387.8" width="1.5" height="1.5" rx="0.5"/></g>
<g fill="#000"><rect x="580.1" y="420.9" width="1.5" height="1.5" rx="0.5"/><rect x="576.4" y="410.9" width="1.5" height="1.5" rx="0.5"/><rect x="578.2" y="410.9" width="1.5" height="1.5" rx="0.5"/><rect x="580.1" y="411.2" width="1.5" height="1.5" rx="0.5"/><rect x="582.0" y="411.5" width="1.5" height="1.5" rx="0.5"/><rect x="583.9" y="411.5" width="1.5" height="1.5" rx="0.5"/><rect x="576.4" y="402.3" width="1.5" height="1.5" rx="0.5"/><rect x="578.2" y="402.5" width="1.5" height="1.5" rx="0.5"/><rect x="580.1" y="402.7" width="1.5" height="1.5" rx="0.5"/><rect x="582.0" y="403.0" width="1.5" height="1.5" rx="0.5"/><rect x="583.9" y="403.3" width="1.5" height="1.5" rx="0.5"/><rect x="578.2" y="419.8" width="1.5" height="1.5" rx="0.5"/><rect x="580.1" y="420.3" width="1.5" height="1.5" rx="0.5"/><rect x="582.0" y="420.7" width="1.5" height="1.5" rx="0.5"/><rect x="577.3" y="426.0" width="1.5" height="1.5" rx="0.5"/><rect x="579.2" y="426.4" width="1.5" height="1.5" rx="0.5"/><rect x="581.1" y="426.6" width="1.5" height="1.5" rx="0.5"/><rect x="583.0" y="427.0" width="1.5" height="1.5" rx="0.5"/><rect x="578.2" y="409.0" width="1.5" height="1.5" rx="0.5"/><rect x="580.1" y="409.5" width="1.5" height="1.5" rx="0.5"/><rect x="582.0" y="410.4" width="1.5" height="1.5" rx="0.5"/><rect x="577.3" y="415.8" width="1.5" height="1.5" rx="0.5"/><rect x="579.2" y="416.1" width="1.5" height="1.5" rx="0.5"/><rect x="581.1" y="416.4" width="1.5" height="1.5" rx="0.5"/><rect x="583.0" y="416.9" width="1.5" height="1.5" rx="0.5"/><rect x="580.1" y="385.8" width="1.5" height="1.5" rx="0.5"/><rect x="576.4" y="397.7" width="1.5" height="1.5" rx="0.5"/><rect x="578.2" y="397.9" width="1.5" height="1.5" rx="0.5"/><rect x="580.1" y="398.0" width="1.5" height="1.5" rx="0.5"/><rect x="582.0" y="398.2" width="1.5" height="1.5" rx="0.5"/><rect x="583.9" y="398.7" width="1.5" height="1.5" rx="0.5"/><rect x="578.2" y="407.5" width="1.5" height="1.5" rx="0.5"/><rect x="580.1" y="408.5" width="1.5" height="1.5" rx="0.5"/><rect x="582.0" y="408.9" width="1.5" height="1.5" rx="0.5"/><rect x="580.1" y="406.3" width="1.5" height="1.5" rx="0.5"/><rect x="577.3" y="404.0" width="1.5" height="1.5" rx="0.5"/><rect x="579.2" y="405.0" width="1.5" height="1.5" rx="0.5"/><rect x="581.1" y="405.2" width="1.5" height="1.5" rx="0.5"/><rect x="583.0" y="405.5" width="1.5" height="1.5" rx="0.5"/><rect x="580.1" y="392.9" width="1.5" height="1.5" rx="0.5"/><rect x="580.1" y="390.6" width="1.5" height="1.5" rx="0.5"/><rect x="580.1" y="401.6" width="1.5" height="1.5" rx="0.5"/><rect x="577.3" y="414.3" width="1.5" height="1.5" rx="0.5"/><rect x="579.2" y="414.5" width="1.5" height="1.5" rx="0.5"/><rect x="581.1" y="415.1" width="1.5" height="1.5" rx="0.5"/><rect x="583.0" y="415.3" width="1.5" height="1.5" rx="0.5"/><rect x="577.3" y="387.3" width="1.5" height="1.5" rx="0.5"/><rect x="579.2" y="387.5" width="1.5" height="1.5" rx="0.5"/><rect x="581.1" y="387.6" width="1.5" height="1.5" rx="0.5"/><rect x="583.0" y="388.4" width="1.5" height="1.5" rx="0.5"/><rect x="580.1" y="396.9" width="1.5" height="1.5" rx="0.5"/><rect x="579.2" y="394.0" width="1.5" height="1.5" rx="0.5"/><rect x="581.1" y="394.7" width="1.5" height="1.5" rx="0.5"/><rect x="580.1" y="424.1" width="1.5" height="1.5" rx="0.5"/><rect x="580.1" y="380.7" width="1.5" height="1.5" rx="0.5"/><rect x="580.1" y="382.6" width="1.5" height="1.5" rx="0.5"/><rect x="578.2" y="418.5" width="1.5" height="1.5" rx="0.5"/><rect x="580.1" y="418.5" width="1.5" height="1.5" rx="0.5"/><rect x="582.0" y="419.1" width="1.5" height="1.5" rx="0.5"/><rect x="580.1" y="413.4" width="1.5" height="1.5" rx="0.5"/><rect x="580.1" y="370.7" width="1.5" height="1.5" rx="0.5"/><rect x="580.1" y="340.5" width="1.5" height="1.5" rx="0.5"/></g>
<g fill="#000"><rect x="591.2" y="421.0" width="1.5" height="1.5" rx="0.5"/><rect x="592.4" y="421.1" width="1.5" height="1.5" rx="0.5"/><rect x="593.7" y="421.7" width="1.5" height="1.5" rx="0.5"/><rect x="594.9" y="421.8" width="1.5" height="1.5" rx="0.5"/><rect x="596.2" y="422.0" width="1.5" height="1.5" rx="0.5"/><rect x="597.4" y="422.4" width="1.5" height="1.5" rx="0.5"/><rect x="598.7" y="422.5" width="1.5" height="1.5" rx="0.5"/><rect x="600.0" y="422.5" width="1.5" height="1.5" rx="0.5"/><rect x="593.7" y="418.6" width="1.5" height="1.5" rx="0.5"/><rect x="595.6" y="418.7" width="1.5" height="1.5" rx="0.5"/><rect x="597.5" y="418.7" width="1.5" height="1.5" rx="0.5"/><rect x="591.2" y="424.3" width="1.5" height="1.5" rx="0.5"/><rect x="592.1" y="424.7" width="1.5" height="1.5" rx="0.5"/><rect x="593.1" y="425.1" width="1.5" height="1.5" rx="0.5"/><rect x="594.1" y="425.3" width="1.5" height="1.5" rx="0.5"/><rect x="595.1" y="425.4" width="1.5" height="1.5" rx="0.5"/><rect x="596.0" y="425.5" width="1.5" height="1.5" rx="0.5"/><rect x="597.0" y="425.5" width="1.5" height="1.5" rx="0.5"/><rect x="598.0" y="425.5" width="1.5" height="1.5" rx="0.5"/><rect x="599.0" y="425.7" width="1.5" height="1.5" rx="0.5"/><rect x="600.0" y="425.9" width="1.5" height="1.5" rx="0.5"/><rect x="591.2" y="422.7" width="1.5" height="1.5" rx="0.5"/><rect x="592.1" y="422.7" width="1.5" height="1.5" rx="0.5"/><rect x="593.1" y="422.9" width="1.5" height="1.5" rx="0.5"/><rect x="594.1" y="422.9" width="1.5" height="1.5" rx="0.5"/><rect x="595.1" y="423.1" width="1.5" height="1.5" rx="0.5"/><rect x="596.0" y="423.3" width="1.5" height="1.5" rx="0.5"/><rect x="597.0" y="423.5" width="1.5" height="1.5" rx="0.5"/><rect x="598.0" y="423.7" width="1.5" height="1.5" rx="0.5"/><rect x="599.0" y="423.9" width="1.5" height="1.5" rx="0.5"/><rect x="600.0" y="424.1" width="1.5" height="1.5" rx="0.5"/><rect x="591.2" y="419.6" width="1.5" height="1.5" rx="0.5"/><rect x="592.9" y="419.6" width="1.5" height="1.5" rx="0.5"/><rect x="594.7" y="419.7" width="1.5" height="1.5" rx="0.5"/><rect x="596.4" y="419.8" width="1.5" height="1.5" rx="0.5"/><rect x="598.2" y="420.1" width="1.5" height="1.5" rx="0.5"/><rect x="600.0" y="420.3" width="1.5" height="1.5" rx="0.5"/><rect x="592.7" y="427.9" width="1.5" height="1.5" rx="0.5"/><rect x="594.6" y="428.0" width="1.5" height="1.5" rx="0.5"/><rect x="596.5" y="428.0" width="1.5" height="1.5" rx="0.5"/><rect x="598.4" y="428.2" width="1.5" height="1.5" rx="0.5"/><rect x="591.2" y="426.2" width="1.5" height="1.5" rx="0.5"/><rect x="592.3" y="426.3" width="1.5" height="1.5" rx="0.5"/><rect x="593.4" y="426.6" width="1.5" height="1.5" rx="0.5"/><rect x="594.5" y="426.7" width="1.5" height="1.5" rx="0.5"/><rect x="595.6" y="426.8" width="1.5" height="1.5" rx="0.5"/><rect x="596.7" y="427.3" width="1.5" height="1.5" rx="0.5"/><rect x="597.8" y="427.4" width="1.5" height="1.5" rx="0.5"/><rect x="598.9" y="427.4" width="1.5" height="1.5" rx="0.5"/><rect x="600.0" y="427.4" width="1.5" height="1.5" rx="0.5"/><rect x="593.7" y="414.2" width="1.5" height="1.5" rx="0.5"/><rect x="595.6" y="414.4" width="1.5" height="1.5" rx="0.5"/><rect x="597.5" y="414.8" width="1.5" height="1.5" rx="0.5"/><rect x="595.6" y="412.8" width="1.5" height="1.5" rx="0.5"/><rect x="594.6" y="411.5" width="1.5" height="1.5" rx="0.5"/><rect x="596.5" y="412.1" width="1.5" height="1.5" rx="0.5"/><rect x="595.6" y="409.7" width="1.5" height="1.5" rx="0.5"/><rect x="595.6" y="407.6" width="1.5" height="1.5" rx="0.5"/><rect x="595.6" y="405.5" width="1.5" height="1.5" rx="0.5"/><rect x="595.6" y="403.4" width="1.5" height="1.5" rx="0.5"/><rect x="595.6" y="401.5" width="1.5" height="1.5" rx="0.5"/></g>
<g fill="#000"><rect x="606.4" y="422.6" width="1.5" height="1.5" rx="0.5"/><rect x="607.5" y="422.7" width="1.5" height="1.5" rx="0.5"/><rect x="608.5" y="423.3" width="1.5" height="1.5" rx="0.5"/><rect x="609.6" y="423.8" width="1.5" height="1.5" rx="0.5"/><rect x="610.8" y="423.8" width="1.5" height="1.5" rx="0.5"/><rect x="611.9" y="423.9" width="1.5" height="1.5" rx="0.5"/><rect x="613.0" y="424.0" width="1.5" height="1.5" rx="0.5"/><rect x="614.0" y="424.0" width="1.5" height="1.5" rx="0.5"/><rect x="615.1" y="424.0" width="1.5" height="1.5" rx="0.5"/><rect x="609.8" y="412.7" width="1.5" height="1.5" rx="0.5"/><rect x="611.7" y="413.1" width="1.5" height="1.5" rx="0.5"/><rect x="606.4" y="426.1" width="1.5" height="1.5" rx="0.5"/><rect x="607.0" y="426.2" width="1.5" height="1.5" rx="0.5"/><rect x="607.7" y="426.4" width="1.5" height="1.5" rx="0.5"/><rect x="608.4" y="426.4" width="1.5" height="1.5" rx="0.5"/><rect x="609.1" y="426.4" width="1.5" height="1.5" rx="0.5"/><rect x="609.7" y="426.6" width="1.5" height="1.5" rx="0.5"/><rect x="610.4" y="426.6" width="1.5" height="1.5" rx="0.5"/><rect x="611.1" y="426.7" width="1.5" height="1.5" rx="0.5"/><rect x="611.8" y="426.7" width="1.5" height="1.5" rx="0.5"/><rect x="612.4" y="426.7" width="1.5" height="1.5" rx="0.5"/><rect x="613.1" y="426.8" width="1.5" height="1.5" rx="0.5"/><rect x="613.8" y="426.9" width="1.5" height="1.5" rx="0.5"/><rect x="614.5" y="427.0" width="1.5" height="1.5" rx="0.5"/><rect x="615.1" y="427.6" width="1.5" height="1.5" rx="0.5"/><rect x="606.4" y="424.3" width="1.5" height="1.5" rx="0.5"/><rect x="607.5" y="424.5" width="1.5" height="1.5" rx="0.5"/><rect x="608.5" y="424.9" width="1.5" height="1.5" rx="0.5"/><rect x="609.6" y="425.0" width="1.5" height="1.5" rx="0.5"/><rect x="610.8" y="425.3" width="1.5" height="1.5" rx="0.5"/><rect x="611.9" y="425.4" width="1.5" height="1.5" rx="0.5"/><rect x="613.0" y="425.5" width="1.5" height="1.5" rx="0.5"/><rect x="614.0" y="425.5" width="1.5" height="1.5" rx="0.5"/><rect x="615.1" y="425.9" width="1.5" height="1.5" rx="0.5"/><rect x="609.8" y="416.5" width="1.5" height="1.5" rx="0.5"/><rect x="611.7" y="417.4" width="1.5" height="1.5" rx="0.5"/><rect x="610.8" y="422.1" width="1.5" height="1.5" rx="0.5"/><rect x="607.0" y="417.7" width="1.5" height="1.5" rx="0.5"/><rect x="608.9" y="418.2" width="1.5" height="1.5" rx="0.5"/><rect x="610.8" y="418.5" width="1.5" height="1.5" rx="0.5"/><rect x="612.6" y="418.7" width="1.5" height="1.5" rx="0.5"/><rect x="614.5" y="419.0" width="1.5" height="1.5" rx="0.5"/><rect x="607.9" y="427.7" width="1.5" height="1.5" rx="0.5"/><rect x="609.8" y="427.9" width="1.5" height="1.5" rx="0.5"/><rect x="611.7" y="428.1" width="1.5" height="1.5" rx="0.5"/><rect x="613.6" y="428.1" width="1.5" height="1.5" rx="0.5"/><rect x="610.8" y="398.4" width="1.5" height="1.5" rx="0.5"/><rect x="610.8" y="414.4" width="1.5" height="1.5" rx="0.5"/><rect x="610.8" y="412.3" width="1.5" height="1.5" rx="0.5"/><rect x="610.8" y="410.2" width="1.5" height="1.5" rx="0.5"/></g>
<g fill="#000"><rect x="622.1" y="419.3" width="1.5" height="1.5" rx="0.5"/><rect x="623.3" y="419.4" width="1.5" height="1.5" rx="0.5"/><rect x="624.6" y="419.5" width="1.5" height="1.5" rx="0.5"/><rect x="625.8" y="420.0" width="1.5" height="1.5" rx="0.5"/><rect x="627.1" y="420.4" width="1.5" height="1.5" rx="0.5"/><rect x="628.3" y="420.4" width="1.5" height="1.5" rx="0.5"/><rect x="629.6" y="420.6" width="1.5" height="1.5" rx="0.5"/><rect x="630.9" y="420.6" width="1.5" height="1.5" rx="0.5"/><rect x="624.6" y="410.7" width="1.5" height="1.5" rx="0.5"/><rect x="626.5" y="410.9" width="1.5" height="1.5" rx="0.5"/><rect x="628.4" y="411.1" width="1.5" height="1.5" rx="0.5"/><rect x="622.1" y="424.4" width="1.5" height="1.5" rx="0.5"/><rect x="623.5" y="424.6" width="1.5" height="1.5" rx="0.5"/><rect x="625.0" y="424.9" width="1.5" height="1.5" rx="0.5"/><rect x="626.5" y="425.0" width="1.5" height="1.5" rx="0.5"/><rect x="627.9" y="425.2" width="1.5" height="1.5" rx="0.5"/><rect x="629.4" y="425.3" width="1.5" height="1.5" rx="0.5"/><rect x="630.9" y="425.9" width="1.5" height="1.5" rx="0.5"/><rect x="622.1" y="417.6" width="1.5" height="1.5" rx="0.5"/><rect x="623.8" y="417.9" width="1.5" height="1.5" rx="0.5"/><rect x="625.6" y="417.9" width="1.5" height="1.5" rx="0.5"/><rect x="627.3" y="418.3" width="1.5" height="1.5" rx="0.5"/><rect x="629.1" y="418.8" width="1.5" height="1.5" rx="0.5"/><rect x="630.9" y="418.9" width="1.5" height="1.5" rx="0.5"/><rect x="626.5" y="410.6" width="1.5" height="1.5" rx="0.5"/><rect x="624.6" y="412.6" width="1.5" height="1.5" rx="0.5"/><rect x="626.5" y="412.9" width="1.5" height="1.5" rx="0.5"/><rect x="628.4" y="413.7" width="1.5" height="1.5" rx="0.5"/><rect x="624.6" y="428.0" width="1.5" height="1.5" rx="0.5"/><rect x="626.5" y="428.2" width="1.5" height="1.5" rx="0.5"/><rect x="628.4" y="428.3" width="1.5" height="1.5" rx="0.5"/><rect x="622.1" y="426.6" width="1.5" height="1.5" rx="0.5"/><rect x="623.8" y="426.9" width="1.5" height="1.5" rx="0.5"/><rect x="625.6" y="427.0" width="1.5" height="1.5" rx="0.5"/><rect x="627.3" y="427.0" width="1.5" height="1.5" rx="0.5"/><rect x="629.1" y="427.6" width="1.5" height="1.5" rx="0.5"/><rect x="630.9" y="427.6" width="1.5" height="1.5" rx="0.5"/><rect x="623.6" y="422.7" width="1.5" height="1.5" rx="0.5"/><rect x="625.5" y="423.0" width="1.5" height="1.5" rx="0.5"/><rect x="627.4" y="423.8" width="1.5" height="1.5" rx="0.5"/><rect x="629.3" y="423.8" width="1.5" height="1.5" rx="0.5"/><rect x="626.5" y="404.5" width="1.5" height="1.5" rx="0.5"/><rect x="625.5" y="414.7" width="1.5" height="1.5" rx="0.5"/><rect x="627.4" y="415.2" width="1.5" height="1.5" rx="0.5"/><rect x="625.5" y="408.2" width="1.5" height="1.5" rx="0.5"/><rect x="627.4" y="408.5" width="1.5" height="1.5" rx="0.5"/><rect x="622.1" y="421.4" width="1.5" height="1.5" rx="0.5"/><rect x="623.5" y="421.5" width="1.5" height="1.5" rx="0.5"/><rect x="625.0" y="421.7" width="1.5" height="1.5" rx="0.5"/><rect x="626.5" y="421.7" width="1.5" height="1.5" rx="0.5"/><rect x="627.9" y="422.2" width="1.5" height="1.5" rx="0.5"/><rect x="629.4" y="422.3" width="1.5" height="1.5" rx="0.5"/><rect x="630.9" y="422.5" width="1.5" height="1.5" rx="0.5"/><rect x="626.5" y="405.9" width="1.5" height="1.5" rx="0.5"/><rect x="626.5" y="417.4" width="1.5" height="1.5" rx="0.5"/><rect x="626.5" y="393.6" width="1.5" height="1.5" rx="0.5"/></g>
<g fill="#000"><rect x="638.2" y="423.0" width="1.5" height="1.5" rx="0.5"/><rect x="640.1" y="423.5" width="1.5" height="1.5" rx="0.5"/><rect x="642.0" y="423.7" width="1.5" height="1.5" rx="0.5"/><rect x="643.9" y="424.0" width="1.5" height="1.5" rx="0.5"/><rect x="645.8" y="424.1" width="1.5" height="1.5" rx="0.5"/><rect x="641.0" y="405.1" width="1.5" height="1.5" rx="0.5"/><rect x="642.9" y="405.4" width="1.5" height="1.5" rx="0.5"/><rect x="637.6" y="424.4" width="1.5" height="1.5" rx="0.5"/><rect x="638.5" y="424.5" width="1.5" height="1.5" rx="0.5"/><rect x="639.5" y="424.5" width="1.5" height="1.5" rx="0.5"/><rect x="640.5" y="424.8" width="1.5" height="1.5" rx="0.5"/><rect x="641.5" y="424.9" width="1.5" height="1.5" rx="0.5"/><rect x="642.4" y="425.3" width="1.5" height="1.5" rx="0.5"/><rect x="643.4" y="425.4" width="1.5" height="1.5" rx="0.5"/><rect x="644.4" y="425.4" width="1.5" height="1.5" rx="0.5"/><rect x="645.4" y="425.4" width="1.5" height="1.5" rx="0.5"/><rect x="646.4" y="425.8" width="1.5" height="1.5" rx="0.5"/><rect x="637.6" y="421.7" width="1.5" height="1.5" rx="0.5"/><rect x="639.0" y="421.8" width="1.5" height="1.5" rx="0.5"/><rect x="640.5" y="422.1" width="1.5" height="1.5" rx="0.5"/><rect x="642.0" y="422.2" width="1.5" height="1.5" rx="0.5"/><rect x="643.4" y="422.3" width="1.5" height="1.5" rx="0.5"/><rect x="644.9" y="422.4" width="1.5" height="1.5" rx="0.5"/><rect x="646.4" y="422.4" width="1.5" height="1.5" rx="0.5"/><rect x="638.2" y="419.3" width="1.5" height="1.5" rx="0.5"/><rect x="640.1" y="419.6" width="1.5" height="1.5" rx="0.5"/><rect x="642.0" y="420.0" width="1.5" height="1.5" rx="0.5"/><rect x="643.9" y="420.2" width="1.5" height="1.5" rx="0.5"/><rect x="645.8" y="420.6" width="1.5" height="1.5" rx="0.5"/><rect x="642.0" y="400.5" width="1.5" height="1.5" rx="0.5"/><rect x="637.6" y="426.1" width="1.5" height="1.5" rx="0.5"/><rect x="638.4" y="426.3" width="1.5" height="1.5" rx="0.5"/><rect x="639.3" y="426.3" width="1.5" height="1.5" rx="0.5"/><rect x="640.2" y="426.5" width="1.5" height="1.5" rx="0.5"/><rect x="641.1" y="426.6" width="1.5" height="1.5" rx="0.5"/><rect x="642.0" y="426.7" width="1.5" height="1.5" rx="0.5"/><rect x="642.8" y="426.9" width="1.5" height="1.5" rx="0.5"/><rect x="643.7" y="426.9" width="1.5" height="1.5" rx="0.5"/><rect x="644.6" y="427.4" width="1.5" height="1.5" rx="0.5"/><rect x="645.5" y="427.5" width="1.5" height="1.5" rx="0.5"/><rect x="646.4" y="427.5" width="1.5" height="1.5" rx="0.5"/><rect x="641.0" y="407.9" width="1.5" height="1.5" rx="0.5"/><rect x="642.9" y="408.3" width="1.5" height="1.5" rx="0.5"/><rect x="640.1" y="415.3" width="1.5" height="1.5" rx="0.5"/><rect x="642.0" y="415.3" width="1.5" height="1.5" rx="0.5"/><rect x="643.9" y="415.4" width="1.5" height="1.5" rx="0.5"/><rect x="640.1" y="416.4" width="1.5" height="1.5" rx="0.5"/><rect x="642.0" y="416.6" width="1.5" height="1.5" rx="0.5"/><rect x="643.9" y="417.0" width="1.5" height="1.5" rx="0.5"/><rect x="641.0" y="413.3" width="1.5" height="1.5" rx="0.5"/><rect x="642.9" y="413.9" width="1.5" height="1.5" rx="0.5"/><rect x="641.0" y="418.4" width="1.5" height="1.5" rx="0.5"/><rect x="642.9" y="418.8" width="1.5" height="1.5" rx="0.5"/><rect x="642.0" y="409.2" width="1.5" height="1.5" rx="0.5"/><rect x="642.0" y="411.0" width="1.5" height="1.5" rx="0.5"/><rect x="642.0" y="391.3" width="1.5" height="1.5" rx="0.5"/></g>
<g fill="#000"><rect x="654.5" y="414.2" width="1.5" height="1.5" rx="0.5"/><rect x="656.4" y="414.5" width="1.5" height="1.5" rx="0.5"/><rect x="658.3" y="414.7" width="1.5" height="1.5" rx="0.5"/><rect x="660.2" y="414.8" width="1.5" height="1.5" rx="0.5"/><rect x="653.6" y="418.2" width="1.5" height="1.5" rx="0.5"/><rect x="655.5" y="418.3" width="1.5" height="1.5" rx="0.5"/><rect x="657.4" y="418.5" width="1.5" height="1.5" rx="0.5"/><rect x="659.2" y="418.8" width="1.5" height="1.5" rx="0.5"/><rect x="661.1" y="419.0" width="1.5" height="1.5" rx="0.5"/><rect x="657.4" y="411.3" width="1.5" height="1.5" rx="0.5"/><rect x="653.0" y="422.6" width="1.5" height="1.5" rx="0.5"/><rect x="654.7" y="422.8" width="1.5" height="1.5" rx="0.5"/><rect x="656.5" y="422.9" width="1.5" height="1.5" rx="0.5"/><rect x="658.2" y="423.5" width="1.5" height="1.5" rx="0.5"/><rect x="660.0" y="423.9" width="1.5" height="1.5" rx="0.5"/><rect x="661.8" y="424.1" width="1.5" height="1.5" rx="0.5"/><rect x="655.5" y="407.3" width="1.5" height="1.5" rx="0.5"/><rect x="657.4" y="408.7" width="1.5" height="1.5" rx="0.5"/><rect x="659.2" y="408.9" width="1.5" height="1.5" rx="0.5"/><rect x="654.5" y="427.2" width="1.5" height="1.5" rx="0.5"/><rect x="656.4" y="427.2" width="1.5" height="1.5" rx="0.5"/><rect x="658.3" y="427.3" width="1.5" height="1.5" rx="0.5"/><rect x="660.2" y="427.4" width="1.5" height="1.5" rx="0.5"/><rect x="654.5" y="413.0" width="1.5" height="1.5" rx="0.5"/><rect x="656.4" y="413.2" width="1.5" height="1.5" rx="0.5"/><rect x="658.3" y="413.3" width="1.5" height="1.5" rx="0.5"/><rect x="660.2" y="413.8" width="1.5" height="1.5" rx="0.5"/><rect x="653.6" y="427.8" width="1.5" height="1.5" rx="0.5"/><rect x="655.5" y="427.8" width="1.5" height="1.5" rx="0.5"/><rect x="657.4" y="428.0" width="1.5" height="1.5" rx="0.5"/><rect x="659.2" y="428.1" width="1.5" height="1.5" rx="0.5"/><rect x="661.1" y="428.1" width="1.5" height="1.5" rx="0.5"/><rect x="653.6" y="424.4" width="1.5" height="1.5" rx="0.5"/><rect x="655.5" y="425.3" width="1.5" height="1.5" rx="0.5"/><rect x="657.4" y="425.3" width="1.5" height="1.5" rx="0.5"/><rect x="659.2" y="425.5" width="1.5" height="1.5" rx="0.5"/><rect x="661.1" y="425.9" width="1.5" height="1.5" rx="0.5"/><rect x="655.5" y="416.4" width="1.5" height="1.5" rx="0.5"/><rect x="657.4" y="416.6" width="1.5" height="1.5" rx="0.5"/><rect x="659.2" y="417.1" width="1.5" height="1.5" rx="0.5"/><rect x="657.4" y="410.5" width="1.5" height="1.5" rx="0.5"/><rect x="657.4" y="405.7" width="1.5" height="1.5" rx="0.5"/><rect x="657.4" y="397.0" width="1.5" height="1.5" rx="0.5"/><rect x="657.4" y="420.7" width="1.5" height="1.5" rx="0.5"/><rect x="657.4" y="405.5" width="1.5" height="1.5" rx="0.5"/></g>
<g fill="#000"><rect x="668.4" y="414.3" width="1.5" height="1.5" rx="0.5"/><rect x="669.6" y="414.4" width="1.5" height="1.5" rx="0.5"/><rect x="670.9" y="415.0" width="1.5" height="1.5" rx="0.5"/><rect x="672.1" y="415.0" width="1.5" height="1.5" rx="0.5"/><rect x="673.4" y="415.2" width="1.5" height="1.5" rx="0.5"/><rect x="674.6" y="415.5" width="1.5" height="1.5" rx="0.5"/><rect x="675.9" y="415.5" width="1.5" height="1.5" rx="0.5"/><rect x="677.1" y="415.7" width="1.5" height="1.5" rx="0.5"/><rect x="669.9" y="410.8" width="1.5" height="1.5" rx="0.5"/><rect x="671.8" y="411.5" width="1.5" height="1.5" rx="0.5"/><rect x="673.7" y="412.0" width="1.5" height="1.5" rx="0.5"/><rect x="675.6" y="412.1" width="1.5" height="1.5" rx="0.5"/><rect x="668.4" y="422.6" width="1.5" height="1.5" rx="0.5"/><rect x="669.8" y="422.6" width="1.5" height="1.5" rx="0.5"/><rect x="671.3" y="422.9" width="1.5" height="1.5" rx="0.5"/><rect x="672.8" y="423.0" width="1.5" height="1.5" rx="0.5"/><rect x="674.2" y="424.1" width="1.5" height="1.5" rx="0.5"/><rect x="675.7" y="424.1" width="1.5" height="1.5" rx="0.5"/><rect x="677.1" y="424.1" width="1.5" height="1.5" rx="0.5"/><rect x="670.9" y="419.9" width="1.5" height="1.5" rx="0.5"/><rect x="672.8" y="419.9" width="1.5" height="1.5" rx="0.5"/><rect x="674.6" y="420.2" width="1.5" height="1.5" rx="0.5"/><rect x="671.8" y="416.5" width="1.5" height="1.5" rx="0.5"/><rect x="673.7" y="416.6" width="1.5" height="1.5" rx="0.5"/><rect x="668.4" y="426.0" width="1.5" height="1.5" rx="0.5"/><rect x="670.1" y="426.0" width="1.5" height="1.5" rx="0.5"/><rect x="671.9" y="426.9" width="1.5" height="1.5" rx="0.5"/><rect x="673.6" y="427.0" width="1.5" height="1.5" rx="0.5"/><rect x="675.4" y="427.4" width="1.5" height="1.5" rx="0.5"/><rect x="677.1" y="427.5" width="1.5" height="1.5" rx="0.5"/><rect x="669.9" y="427.8" width="1.5" height="1.5" rx="0.5"/><rect x="671.8" y="427.9" width="1.5" height="1.5" rx="0.5"/><rect x="673.7" y="428.0" width="1.5" height="1.5" rx="0.5"/><rect x="675.6" y="428.2" width="1.5" height="1.5" rx="0.5"/><rect x="670.9" y="418.1" width="1.5" height="1.5" rx="0.5"/><rect x="672.8" y="418.5" width="1.5" height="1.5" rx="0.5"/><rect x="674.6" y="419.0" width="1.5" height="1.5" rx="0.5"/><rect x="668.4" y="424.3" width="1.5" height="1.5" rx="0.5"/><rect x="669.6" y="424.3" width="1.5" height="1.5" rx="0.5"/><rect x="670.9" y="424.5" width="1.5" height="1.5" rx="0.5"/><rect x="672.1" y="425.3" width="1.5" height="1.5" rx="0.5"/><rect x="673.4" y="425.4" width="1.5" height="1.5" rx="0.5"/><rect x="674.6" y="425.5" width="1.5" height="1.5" rx="0.5"/><rect x="675.9" y="425.6" width="1.5" height="1.5" rx="0.5"/><rect x="677.1" y="425.9" width="1.5" height="1.5" rx="0.5"/><rect x="668.4" y="421.1" width="1.5" height="1.5" rx="0.5"/><rect x="669.8" y="421.2" width="1.5" height="1.5" rx="0.5"/><rect x="671.3" y="421.4" width="1.5" height="1.5" rx="0.5"/><rect x="672.8" y="422.1" width="1.5" height="1.5" rx="0.5"/><rect x="674.2" y="422.1" width="1.5" height="1.5" rx="0.5"/><rect x="675.7" y="422.2" width="1.5" height="1.5" rx="0.5"/><rect x="677.1" y="422.5" width="1.5" height="1.5" rx="0.5"/><rect x="672.8" y="409.6" width="1.5" height="1.5" rx="0.5"/><rect x="670.9" y="407.9" width="1.5" height="1.5" rx="0.5"/><rect x="672.8" y="408.2" width="1.5" height="1.5" rx="0.5"/><rect x="674.6" y="408.6" width="1.5" height="1.5" rx="0.5"/><rect x="671.8" y="413.2" width="1.5" height="1.5" rx="0.5"/><rect x="673.7" y="413.6" width="1.5" height="1.5" rx="0.5"/><rect x="671.8" y="405.8" width="1.5" height="1.5" rx="0.5"/><rect x="673.7" y="407.0" width="1.5" height="1.5" rx="0.5"/><rect x="672.8" y="393.1" width="1.5" height="1.5" rx="0.5"/></g>
<polyline points="565.20,385.40 565.20,335.60 580.70,335.60 580.70,338.60" fill="none" stroke="#222" stroke-width="0.6"/>
<text x="573.00" y="336.35" font-size="7.2" font-weight="bold" text-anchor="middle" fill="#000">****</text>
<rect x="560.10" y="589.13" width="10.20" height="12.27" fill="#000" stroke="#000" stroke-width="0.4"/>
<rect x="575.80" y="590.00" width="10.20" height="11.40" fill="url(#ckK)" stroke="#333" stroke-width="0.4"/>
<rect x="591.20" y="564.58" width="10.20" height="36.82" fill="#dc2d9c" stroke="#b01870" stroke-width="0.4"/>
<rect x="606.40" y="575.98" width="10.20" height="25.42" fill="url(#ckM)" stroke="#d63a92" stroke-width="0.4"/>
<rect x="622.10" y="585.27" width="10.20" height="16.13" fill="#ec832c" stroke="#c96a18" stroke-width="0.4"/>
<rect x="637.60" y="587.02" width="10.20" height="14.38" fill="url(#ckO)" stroke="#e8923c" stroke-width="0.4"/>
<rect x="653.00" y="570.89" width="10.20" height="30.51" fill="#37a03a" stroke="#227a26" stroke-width="0.4"/>
<rect x="668.40" y="576.33" width="10.20" height="25.07" fill="url(#ckG)" stroke="#3fa23f" stroke-width="0.4"/>
<line x1="565.20" y1="587.72" x2="565.20" y2="590.53" stroke="#999" stroke-width="0.5"/>
<line x1="562.80" y1="587.72" x2="567.60" y2="587.72" stroke="#999" stroke-width="0.5"/>
<line x1="580.90" y1="587.90" x2="580.90" y2="592.11" stroke="#333" stroke-width="0.5"/>
<line x1="578.50" y1="587.90" x2="583.30" y2="587.90" stroke="#333" stroke-width="0.5"/>
<line x1="596.30" y1="560.20" x2="596.30" y2="568.96" stroke="#bbb" stroke-width="0.5"/>
<line x1="593.90" y1="560.20" x2="598.70" y2="560.20" stroke="#bbb" stroke-width="0.5"/>
<line x1="611.50" y1="572.47" x2="611.50" y2="579.48" stroke="#333" stroke-width="0.5"/>
<line x1="609.10" y1="572.47" x2="613.90" y2="572.47" stroke="#333" stroke-width="0.5"/>
<line x1="627.20" y1="583.52" x2="627.20" y2="587.02" stroke="#bbb" stroke-width="0.5"/>
<line x1="624.80" y1="583.52" x2="629.60" y2="583.52" stroke="#bbb" stroke-width="0.5"/>
<line x1="642.70" y1="585.27" x2="642.70" y2="588.78" stroke="#333" stroke-width="0.5"/>
<line x1="640.30" y1="585.27" x2="645.10" y2="585.27" stroke="#333" stroke-width="0.5"/>
<line x1="658.10" y1="567.39" x2="658.10" y2="574.40" stroke="#bbb" stroke-width="0.5"/>
<line x1="655.70" y1="567.39" x2="660.50" y2="567.39" stroke="#bbb" stroke-width="0.5"/>
<line x1="673.50" y1="573.70" x2="673.50" y2="578.96" stroke="#333" stroke-width="0.5"/>
<line x1="671.10" y1="573.70" x2="675.90" y2="573.70" stroke="#333" stroke-width="0.5"/>
<line x1="555.40" y1="495.90" x2="555.40" y2="601.70" stroke="#333" stroke-width="0.6"/>
<line x1="555.10" y1="601.40" x2="683.00" y2="601.40" stroke="#333" stroke-width="0.6"/>
<line x1="553.10" y1="601.40" x2="555.40" y2="601.40" stroke="#333" stroke-width="0.6"/>
<text x="553.00" y="604.00" font-size="7.4" font-weight="bold" text-anchor="end" fill="#000">0.00</text>
<line x1="553.10" y1="566.33" x2="555.40" y2="566.33" stroke="#333" stroke-width="0.6"/>
<text x="553.00" y="568.93" font-size="7.4" font-weight="bold" text-anchor="end" fill="#000">0.02</text>
<line x1="553.10" y1="531.27" x2="555.40" y2="531.27" stroke="#333" stroke-width="0.6"/>
<text x="553.00" y="533.87" font-size="7.4" font-weight="bold" text-anchor="end" fill="#000">0.04</text>
<line x1="553.10" y1="496.20" x2="555.40" y2="496.20" stroke="#333" stroke-width="0.6"/>
<text x="553.00" y="498.80" font-size="7.4" font-weight="bold" text-anchor="end" fill="#000">0.06</text>
<line x1="573.00" y1="601.40" x2="573.00" y2="603.80" stroke="#333" stroke-width="0.6"/>
<line x1="604.00" y1="601.40" x2="604.00" y2="603.80" stroke="#333" stroke-width="0.6"/>
<line x1="635.00" y1="601.40" x2="635.00" y2="603.80" stroke="#333" stroke-width="0.6"/>
<line x1="665.90" y1="601.40" x2="665.90" y2="603.80" stroke="#333" stroke-width="0.6"/>
<text x="531.30" y="480.30" font-size="13" font-weight="bold" text-anchor="start" fill="#000">J</text>
<text x="536.90" y="550.20" font-size="8.55" text-anchor="middle" fill="#000" transform="rotate(-90 536.90 550.20)">Average body curvature (/mm)</text>
<rect x="650.60" y="477.60" width="7.60" height="7.60" fill="#fff" stroke="#111" stroke-width="1.0"/>
<rect x="650.60" y="488.30" width="7.60" height="7.60" fill="url(#hatchL)" stroke="#222" stroke-width="1.0"/>
<text x="661.30" y="484.00" font-size="8.0" text-anchor="start" fill="#000">CNT</text>
<text x="661.30" y="494.70" font-size="8.0" text-anchor="start" fill="#000">TM</text>
<text x="575.87" y="605.30" font-size="8.8" font-weight="bold" text-anchor="end" fill="#000" transform="rotate(-90 575.87 605.30)">WT</text>
<text x="601.98" y="619.30" font-size="8.0" font-weight="bold" font-style="italic" text-anchor="middle" fill="#000" transform="rotate(-90 601.98 619.30)">pek-1</text>
<text x="612.48" y="619.30" font-size="8.0" font-weight="bold" font-style="italic" text-anchor="middle" fill="#000" transform="rotate(-90 612.48 619.30)">(ok275)</text>
<text x="632.38" y="621.75" font-size="8.0" font-weight="bold" font-style="italic" text-anchor="middle" fill="#000" transform="rotate(-90 632.38 621.75)">atfs-1</text>
<text x="642.78" y="621.75" font-size="8.0" font-weight="bold" font-style="italic" text-anchor="middle" fill="#000" transform="rotate(-90 642.78 621.75)">(tm4525)</text>
<text x="663.68" y="621.08" font-size="8.0" font-weight="bold" font-style="italic" text-anchor="middle" fill="#000" transform="rotate(-90 663.68 621.08)">pek-1(-);</text>
<text x="674.18" y="621.08" font-size="8.0" font-weight="bold" font-style="italic" text-anchor="middle" fill="#000" transform="rotate(-90 674.18 621.08)">atfs-1(-)</text>
<g fill="#000"><rect x="562.0" y="589.5" width="1.5" height="1.5" rx="0.5"/><rect x="564.5" y="589.8" width="1.5" height="1.5" rx="0.5"/><rect x="567.0" y="590.2" width="1.5" height="1.5" rx="0.5"/><rect x="560.1" y="592.3" width="1.5" height="1.5" rx="0.5"/><rect x="561.0" y="593.2" width="1.5" height="1.5" rx="0.5"/><rect x="562.0" y="593.5" width="1.5" height="1.5" rx="0.5"/><rect x="563.0" y="593.7" width="1.5" height="1.5" rx="0.5"/><rect x="564.0" y="593.8" width="1.5" height="1.5" rx="0.5"/><rect x="564.9" y="594.0" width="1.5" height="1.5" rx="0.5"/><rect x="565.9" y="594.2" width="1.5" height="1.5" rx="0.5"/><rect x="566.9" y="594.2" width="1.5" height="1.5" rx="0.5"/><rect x="567.9" y="594.3" width="1.5" height="1.5" rx="0.5"/><rect x="568.9" y="594.6" width="1.5" height="1.5" rx="0.5"/><rect x="560.1" y="587.0" width="1.5" height="1.5" rx="0.5"/><rect x="562.2" y="587.5" width="1.5" height="1.5" rx="0.5"/><rect x="564.5" y="587.7" width="1.5" height="1.5" rx="0.5"/><rect x="566.7" y="588.5" width="1.5" height="1.5" rx="0.5"/><rect x="568.9" y="589.0" width="1.5" height="1.5" rx="0.5"/><rect x="560.7" y="581.9" width="1.5" height="1.5" rx="0.5"/><rect x="563.2" y="583.5" width="1.5" height="1.5" rx="0.5"/><rect x="565.7" y="583.7" width="1.5" height="1.5" rx="0.5"/><rect x="568.2" y="583.7" width="1.5" height="1.5" rx="0.5"/><rect x="564.5" y="579.4" width="1.5" height="1.5" rx="0.5"/><rect x="560.1" y="584.7" width="1.5" height="1.5" rx="0.5"/><rect x="561.8" y="585.4" width="1.5" height="1.5" rx="0.5"/><rect x="563.6" y="585.4" width="1.5" height="1.5" rx="0.5"/><rect x="565.3" y="585.5" width="1.5" height="1.5" rx="0.5"/><rect x="567.1" y="586.2" width="1.5" height="1.5" rx="0.5"/><rect x="568.9" y="586.4" width="1.5" height="1.5" rx="0.5"/><rect x="562.0" y="577.2" width="1.5" height="1.5" rx="0.5"/><rect x="564.5" y="578.9" width="1.5" height="1.5" rx="0.5"/><rect x="567.0" y="579.0" width="1.5" height="1.5" rx="0.5"/><rect x="563.2" y="561.2" width="1.5" height="1.5" rx="0.5"/><rect x="565.7" y="562.1" width="1.5" height="1.5" rx="0.5"/><rect x="564.5" y="572.6" width="1.5" height="1.5" rx="0.5"/></g>
<g fill="#000"><rect x="575.8" y="592.1" width="1.5" height="1.5" rx="0.5"/><rect x="576.9" y="592.3" width="1.5" height="1.5" rx="0.5"/><rect x="577.9" y="592.9" width="1.5" height="1.5" rx="0.5"/><rect x="579.0" y="593.4" width="1.5" height="1.5" rx="0.5"/><rect x="580.1" y="593.7" width="1.5" height="1.5" rx="0.5"/><rect x="581.2" y="594.1" width="1.5" height="1.5" rx="0.5"/><rect x="582.4" y="594.3" width="1.5" height="1.5" rx="0.5"/><rect x="583.4" y="594.3" width="1.5" height="1.5" rx="0.5"/><rect x="584.5" y="594.3" width="1.5" height="1.5" rx="0.5"/><rect x="580.1" y="580.0" width="1.5" height="1.5" rx="0.5"/><rect x="577.6" y="590.4" width="1.5" height="1.5" rx="0.5"/><rect x="580.1" y="591.1" width="1.5" height="1.5" rx="0.5"/><rect x="582.6" y="591.6" width="1.5" height="1.5" rx="0.5"/><rect x="575.8" y="595.0" width="1.5" height="1.5" rx="0.5"/><rect x="577.0" y="595.2" width="1.5" height="1.5" rx="0.5"/><rect x="578.3" y="595.2" width="1.5" height="1.5" rx="0.5"/><rect x="579.5" y="595.3" width="1.5" height="1.5" rx="0.5"/><rect x="580.8" y="596.1" width="1.5" height="1.5" rx="0.5"/><rect x="582.0" y="596.2" width="1.5" height="1.5" rx="0.5"/><rect x="583.3" y="597.2" width="1.5" height="1.5" rx="0.5"/><rect x="584.5" y="597.2" width="1.5" height="1.5" rx="0.5"/><rect x="575.8" y="584.4" width="1.5" height="1.5" rx="0.5"/><rect x="577.9" y="584.4" width="1.5" height="1.5" rx="0.5"/><rect x="580.1" y="584.9" width="1.5" height="1.5" rx="0.5"/><rect x="582.4" y="585.9" width="1.5" height="1.5" rx="0.5"/><rect x="584.5" y="586.8" width="1.5" height="1.5" rx="0.5"/><rect x="577.6" y="574.6" width="1.5" height="1.5" rx="0.5"/><rect x="580.1" y="574.7" width="1.5" height="1.5" rx="0.5"/><rect x="582.6" y="576.0" width="1.5" height="1.5" rx="0.5"/><rect x="576.4" y="597.4" width="1.5" height="1.5" rx="0.5"/><rect x="578.9" y="597.6" width="1.5" height="1.5" rx="0.5"/><rect x="581.4" y="597.9" width="1.5" height="1.5" rx="0.5"/><rect x="583.9" y="598.2" width="1.5" height="1.5" rx="0.5"/><rect x="578.9" y="570.0" width="1.5" height="1.5" rx="0.5"/><rect x="581.4" y="570.6" width="1.5" height="1.5" rx="0.5"/><rect x="576.4" y="587.5" width="1.5" height="1.5" rx="0.5"/><rect x="578.9" y="587.6" width="1.5" height="1.5" rx="0.5"/><rect x="581.4" y="588.3" width="1.5" height="1.5" rx="0.5"/><rect x="583.9" y="589.2" width="1.5" height="1.5" rx="0.5"/><rect x="580.1" y="572.3" width="1.5" height="1.5" rx="0.5"/><rect x="578.9" y="583.0" width="1.5" height="1.5" rx="0.5"/><rect x="581.4" y="584.1" width="1.5" height="1.5" rx="0.5"/><rect x="580.1" y="555.9" width="1.5" height="1.5" rx="0.5"/></g>
<g fill="#000"><rect x="594.3" y="595.4" width="1.5" height="1.5" rx="0.5"/><rect x="596.8" y="596.8" width="1.5" height="1.5" rx="0.5"/><rect x="593.1" y="590.1" width="1.5" height="1.5" rx="0.5"/><rect x="595.6" y="590.6" width="1.5" height="1.5" rx="0.5"/><rect x="598.1" y="591.4" width="1.5" height="1.5" rx="0.5"/><rect x="595.6" y="546.7" width="1.5" height="1.5" rx="0.5"/><rect x="591.8" y="571.3" width="1.5" height="1.5" rx="0.5"/><rect x="594.3" y="572.1" width="1.5" height="1.5" rx="0.5"/><rect x="596.8" y="572.8" width="1.5" height="1.5" rx="0.5"/><rect x="599.3" y="573.5" width="1.5" height="1.5" rx="0.5"/><rect x="595.6" y="598.3" width="1.5" height="1.5" rx="0.5"/><rect x="591.8" y="576.9" width="1.5" height="1.5" rx="0.5"/><rect x="594.3" y="577.0" width="1.5" height="1.5" rx="0.5"/><rect x="596.8" y="577.0" width="1.5" height="1.5" rx="0.5"/><rect x="599.3" y="577.2" width="1.5" height="1.5" rx="0.5"/><rect x="594.3" y="562.8" width="1.5" height="1.5" rx="0.5"/><rect x="596.8" y="562.9" width="1.5" height="1.5" rx="0.5"/><rect x="591.8" y="566.2" width="1.5" height="1.5" rx="0.5"/><rect x="594.3" y="566.3" width="1.5" height="1.5" rx="0.5"/><rect x="596.8" y="566.7" width="1.5" height="1.5" rx="0.5"/><rect x="599.3" y="567.5" width="1.5" height="1.5" rx="0.5"/><rect x="594.3" y="524.8" width="1.5" height="1.5" rx="0.5"/><rect x="596.8" y="527.0" width="1.5" height="1.5" rx="0.5"/><rect x="591.2" y="592.3" width="1.5" height="1.5" rx="0.5"/><rect x="593.4" y="592.6" width="1.5" height="1.5" rx="0.5"/><rect x="595.6" y="592.9" width="1.5" height="1.5" rx="0.5"/><rect x="597.8" y="593.9" width="1.5" height="1.5" rx="0.5"/><rect x="600.0" y="594.0" width="1.5" height="1.5" rx="0.5"/><rect x="591.8" y="558.5" width="1.5" height="1.5" rx="0.5"/><rect x="594.3" y="558.7" width="1.5" height="1.5" rx="0.5"/><rect x="596.8" y="559.4" width="1.5" height="1.5" rx="0.5"/><rect x="599.3" y="559.7" width="1.5" height="1.5" rx="0.5"/><rect x="594.3" y="553.9" width="1.5" height="1.5" rx="0.5"/><rect x="596.8" y="554.0" width="1.5" height="1.5" rx="0.5"/><rect x="595.6" y="564.6" width="1.5" height="1.5" rx="0.5"/><rect x="591.2" y="587.2" width="1.5" height="1.5" rx="0.5"/><rect x="593.4" y="588.2" width="1.5" height="1.5" rx="0.5"/><rect x="595.6" y="588.3" width="1.5" height="1.5" rx="0.5"/><rect x="597.8" y="588.3" width="1.5" height="1.5" rx="0.5"/><rect x="600.0" y="589.4" width="1.5" height="1.5" rx="0.5"/><rect x="595.6" y="557.9" width="1.5" height="1.5" rx="0.5"/><rect x="595.6" y="522.7" width="1.5" height="1.5" rx="0.5"/><rect x="595.6" y="534.5" width="1.5" height="1.5" rx="0.5"/><rect x="594.3" y="579.5" width="1.5" height="1.5" rx="0.5"/><rect x="596.8" y="580.2" width="1.5" height="1.5" rx="0.5"/><rect x="595.6" y="541.1" width="1.5" height="1.5" rx="0.5"/><rect x="594.3" y="575.0" width="1.5" height="1.5" rx="0.5"/><rect x="596.8" y="576.4" width="1.5" height="1.5" rx="0.5"/><rect x="595.6" y="504.8" width="1.5" height="1.5" rx="0.5"/><rect x="595.6" y="586.2" width="1.5" height="1.5" rx="0.5"/><rect x="595.6" y="584.1" width="1.5" height="1.5" rx="0.5"/><rect x="595.6" y="535.8" width="1.5" height="1.5" rx="0.5"/><rect x="595.6" y="530.5" width="1.5" height="1.5" rx="0.5"/><rect x="595.6" y="521.8" width="1.5" height="1.5" rx="0.5"/><rect x="595.6" y="517.4" width="1.5" height="1.5" rx="0.5"/><rect x="594.3" y="512.1" width="1.5" height="1.5" rx="0.5"/><rect x="596.8" y="513.0" width="1.5" height="1.5" rx="0.5"/><rect x="594.3" y="502.5" width="1.5" height="1.5" rx="0.5"/><rect x="596.8" y="503.3" width="1.5" height="1.5" rx="0.5"/><rect x="595.6" y="500.7" width="1.5" height="1.5" rx="0.5"/></g>
<g fill="#000"><rect x="609.5" y="582.5" width="1.5" height="1.5" rx="0.5"/><rect x="612.0" y="583.9" width="1.5" height="1.5" rx="0.5"/><rect x="609.5" y="592.6" width="1.5" height="1.5" rx="0.5"/><rect x="612.0" y="592.6" width="1.5" height="1.5" rx="0.5"/><rect x="610.8" y="563.1" width="1.5" height="1.5" rx="0.5"/><rect x="607.0" y="595.5" width="1.5" height="1.5" rx="0.5"/><rect x="609.5" y="595.9" width="1.5" height="1.5" rx="0.5"/><rect x="612.0" y="595.9" width="1.5" height="1.5" rx="0.5"/><rect x="614.5" y="595.9" width="1.5" height="1.5" rx="0.5"/><rect x="606.4" y="569.2" width="1.5" height="1.5" rx="0.5"/><rect x="608.5" y="569.3" width="1.5" height="1.5" rx="0.5"/><rect x="610.8" y="569.5" width="1.5" height="1.5" rx="0.5"/><rect x="613.0" y="570.0" width="1.5" height="1.5" rx="0.5"/><rect x="615.1" y="570.8" width="1.5" height="1.5" rx="0.5"/><rect x="608.2" y="579.1" width="1.5" height="1.5" rx="0.5"/><rect x="610.8" y="581.2" width="1.5" height="1.5" rx="0.5"/><rect x="613.2" y="581.4" width="1.5" height="1.5" rx="0.5"/><rect x="607.0" y="589.8" width="1.5" height="1.5" rx="0.5"/><rect x="609.5" y="591.0" width="1.5" height="1.5" rx="0.5"/><rect x="612.0" y="591.4" width="1.5" height="1.5" rx="0.5"/><rect x="614.5" y="591.8" width="1.5" height="1.5" rx="0.5"/><rect x="606.4" y="587.2" width="1.5" height="1.5" rx="0.5"/><rect x="607.6" y="587.4" width="1.5" height="1.5" rx="0.5"/><rect x="608.9" y="588.0" width="1.5" height="1.5" rx="0.5"/><rect x="610.1" y="588.2" width="1.5" height="1.5" rx="0.5"/><rect x="611.4" y="588.3" width="1.5" height="1.5" rx="0.5"/><rect x="612.6" y="588.6" width="1.5" height="1.5" rx="0.5"/><rect x="613.9" y="589.2" width="1.5" height="1.5" rx="0.5"/><rect x="615.1" y="589.4" width="1.5" height="1.5" rx="0.5"/><rect x="610.8" y="564.9" width="1.5" height="1.5" rx="0.5"/><rect x="610.8" y="560.5" width="1.5" height="1.5" rx="0.5"/><rect x="608.2" y="566.9" width="1.5" height="1.5" rx="0.5"/><rect x="610.8" y="567.1" width="1.5" height="1.5" rx="0.5"/><rect x="613.2" y="567.5" width="1.5" height="1.5" rx="0.5"/><rect x="609.5" y="571.4" width="1.5" height="1.5" rx="0.5"/><rect x="612.0" y="572.1" width="1.5" height="1.5" rx="0.5"/><rect x="609.5" y="585.3" width="1.5" height="1.5" rx="0.5"/><rect x="612.0" y="585.5" width="1.5" height="1.5" rx="0.5"/><rect x="609.5" y="577.2" width="1.5" height="1.5" rx="0.5"/><rect x="612.0" y="578.5" width="1.5" height="1.5" rx="0.5"/><rect x="608.2" y="574.2" width="1.5" height="1.5" rx="0.5"/><rect x="610.8" y="575.0" width="1.5" height="1.5" rx="0.5"/><rect x="613.2" y="575.9" width="1.5" height="1.5" rx="0.5"/><rect x="610.8" y="552.3" width="1.5" height="1.5" rx="0.5"/><rect x="610.8" y="548.0" width="1.5" height="1.5" rx="0.5"/><rect x="610.8" y="537.5" width="1.5" height="1.5" rx="0.5"/><rect x="610.8" y="534.9" width="1.5" height="1.5" rx="0.5"/><rect x="610.8" y="526.1" width="1.5" height="1.5" rx="0.5"/><rect x="609.5" y="523.5" width="1.5" height="1.5" rx="0.5"/><rect x="612.0" y="524.4" width="1.5" height="1.5" rx="0.5"/></g>
<g fill="#000"><rect x="622.1" y="590.0" width="1.5" height="1.5" rx="0.5"/><rect x="623.5" y="590.5" width="1.5" height="1.5" rx="0.5"/><rect x="625.0" y="591.0" width="1.5" height="1.5" rx="0.5"/><rect x="626.5" y="591.5" width="1.5" height="1.5" rx="0.5"/><rect x="627.9" y="591.6" width="1.5" height="1.5" rx="0.5"/><rect x="629.4" y="591.8" width="1.5" height="1.5" rx="0.5"/><rect x="630.9" y="591.9" width="1.5" height="1.5" rx="0.5"/><rect x="622.1" y="595.0" width="1.5" height="1.5" rx="0.5"/><rect x="622.9" y="595.2" width="1.5" height="1.5" rx="0.5"/><rect x="623.8" y="596.0" width="1.5" height="1.5" rx="0.5"/><rect x="624.7" y="596.3" width="1.5" height="1.5" rx="0.5"/><rect x="625.6" y="596.3" width="1.5" height="1.5" rx="0.5"/><rect x="626.5" y="596.5" width="1.5" height="1.5" rx="0.5"/><rect x="627.3" y="596.6" width="1.5" height="1.5" rx="0.5"/><rect x="628.2" y="596.6" width="1.5" height="1.5" rx="0.5"/><rect x="629.1" y="596.8" width="1.5" height="1.5" rx="0.5"/><rect x="630.0" y="596.9" width="1.5" height="1.5" rx="0.5"/><rect x="630.9" y="597.2" width="1.5" height="1.5" rx="0.5"/><rect x="624.0" y="597.6" width="1.5" height="1.5" rx="0.5"/><rect x="626.5" y="598.2" width="1.5" height="1.5" rx="0.5"/><rect x="629.0" y="598.4" width="1.5" height="1.5" rx="0.5"/><rect x="624.0" y="573.9" width="1.5" height="1.5" rx="0.5"/><rect x="626.5" y="574.6" width="1.5" height="1.5" rx="0.5"/><rect x="629.0" y="576.4" width="1.5" height="1.5" rx="0.5"/><rect x="625.2" y="577.0" width="1.5" height="1.5" rx="0.5"/><rect x="627.7" y="578.2" width="1.5" height="1.5" rx="0.5"/><rect x="622.7" y="592.8" width="1.5" height="1.5" rx="0.5"/><rect x="625.2" y="593.0" width="1.5" height="1.5" rx="0.5"/><rect x="627.7" y="594.0" width="1.5" height="1.5" rx="0.5"/><rect x="630.2" y="594.3" width="1.5" height="1.5" rx="0.5"/><rect x="624.0" y="571.5" width="1.5" height="1.5" rx="0.5"/><rect x="626.5" y="573.2" width="1.5" height="1.5" rx="0.5"/><rect x="629.0" y="573.5" width="1.5" height="1.5" rx="0.5"/><rect x="622.7" y="588.3" width="1.5" height="1.5" rx="0.5"/><rect x="625.2" y="588.6" width="1.5" height="1.5" rx="0.5"/><rect x="627.7" y="588.9" width="1.5" height="1.5" rx="0.5"/><rect x="630.2" y="589.0" width="1.5" height="1.5" rx="0.5"/><rect x="624.0" y="582.4" width="1.5" height="1.5" rx="0.5"/><rect x="626.5" y="582.6" width="1.5" height="1.5" rx="0.5"/><rect x="629.0" y="583.1" width="1.5" height="1.5" rx="0.5"/><rect x="622.1" y="579.1" width="1.5" height="1.5" rx="0.5"/><rect x="623.8" y="579.4" width="1.5" height="1.5" rx="0.5"/><rect x="625.6" y="579.7" width="1.5" height="1.5" rx="0.5"/><rect x="627.3" y="580.0" width="1.5" height="1.5" rx="0.5"/><rect x="629.1" y="581.1" width="1.5" height="1.5" rx="0.5"/><rect x="630.9" y="581.2" width="1.5" height="1.5" rx="0.5"/><rect x="626.5" y="570.6" width="1.5" height="1.5" rx="0.5"/><rect x="626.5" y="585.1" width="1.5" height="1.5" rx="0.5"/><rect x="626.5" y="561.2" width="1.5" height="1.5" rx="0.5"/><rect x="626.5" y="559.4" width="1.5" height="1.5" rx="0.5"/><rect x="626.5" y="551.6" width="1.5" height="1.5" rx="0.5"/><rect x="626.5" y="549.8" width="1.5" height="1.5" rx="0.5"/></g>
<g fill="#000"><rect x="637.6" y="583.2" width="1.5" height="1.5" rx="0.5"/><rect x="639.8" y="583.4" width="1.5" height="1.5" rx="0.5"/><rect x="642.0" y="583.4" width="1.5" height="1.5" rx="0.5"/><rect x="644.2" y="584.0" width="1.5" height="1.5" rx="0.5"/><rect x="646.4" y="584.2" width="1.5" height="1.5" rx="0.5"/><rect x="637.6" y="592.4" width="1.5" height="1.5" rx="0.5"/><rect x="638.7" y="592.6" width="1.5" height="1.5" rx="0.5"/><rect x="639.8" y="592.6" width="1.5" height="1.5" rx="0.5"/><rect x="640.9" y="593.2" width="1.5" height="1.5" rx="0.5"/><rect x="642.0" y="593.3" width="1.5" height="1.5" rx="0.5"/><rect x="643.1" y="593.5" width="1.5" height="1.5" rx="0.5"/><rect x="644.2" y="593.6" width="1.5" height="1.5" rx="0.5"/><rect x="645.2" y="593.9" width="1.5" height="1.5" rx="0.5"/><rect x="646.4" y="594.6" width="1.5" height="1.5" rx="0.5"/><rect x="637.6" y="590.1" width="1.5" height="1.5" rx="0.5"/><rect x="638.7" y="590.8" width="1.5" height="1.5" rx="0.5"/><rect x="639.8" y="591.2" width="1.5" height="1.5" rx="0.5"/><rect x="640.9" y="591.4" width="1.5" height="1.5" rx="0.5"/><rect x="642.0" y="591.6" width="1.5" height="1.5" rx="0.5"/><rect x="643.1" y="591.6" width="1.5" height="1.5" rx="0.5"/><rect x="644.2" y="591.8" width="1.5" height="1.5" rx="0.5"/><rect x="645.2" y="591.9" width="1.5" height="1.5" rx="0.5"/><rect x="646.4" y="592.0" width="1.5" height="1.5" rx="0.5"/><rect x="637.6" y="595.2" width="1.5" height="1.5" rx="0.5"/><rect x="638.8" y="595.3" width="1.5" height="1.5" rx="0.5"/><rect x="640.1" y="596.1" width="1.5" height="1.5" rx="0.5"/><rect x="641.3" y="596.3" width="1.5" height="1.5" rx="0.5"/><rect x="642.6" y="596.5" width="1.5" height="1.5" rx="0.5"/><rect x="643.8" y="596.7" width="1.5" height="1.5" rx="0.5"/><rect x="645.1" y="596.9" width="1.5" height="1.5" rx="0.5"/><rect x="646.4" y="597.2" width="1.5" height="1.5" rx="0.5"/><rect x="637.6" y="587.3" width="1.5" height="1.5" rx="0.5"/><rect x="639.8" y="587.6" width="1.5" height="1.5" rx="0.5"/><rect x="642.0" y="587.8" width="1.5" height="1.5" rx="0.5"/><rect x="644.2" y="588.0" width="1.5" height="1.5" rx="0.5"/><rect x="646.4" y="588.7" width="1.5" height="1.5" rx="0.5"/><rect x="638.2" y="573.9" width="1.5" height="1.5" rx="0.5"/><rect x="640.7" y="575.0" width="1.5" height="1.5" rx="0.5"/><rect x="643.2" y="575.7" width="1.5" height="1.5" rx="0.5"/><rect x="645.7" y="575.9" width="1.5" height="1.5" rx="0.5"/><rect x="638.2" y="584.3" width="1.5" height="1.5" rx="0.5"/><rect x="640.7" y="585.1" width="1.5" height="1.5" rx="0.5"/><rect x="643.2" y="585.6" width="1.5" height="1.5" rx="0.5"/><rect x="645.7" y="586.8" width="1.5" height="1.5" rx="0.5"/><rect x="640.7" y="577.5" width="1.5" height="1.5" rx="0.5"/><rect x="643.2" y="578.1" width="1.5" height="1.5" rx="0.5"/><rect x="640.7" y="581.2" width="1.5" height="1.5" rx="0.5"/><rect x="643.2" y="581.5" width="1.5" height="1.5" rx="0.5"/><rect x="642.0" y="561.2" width="1.5" height="1.5" rx="0.5"/><rect x="642.0" y="558.6" width="1.5" height="1.5" rx="0.5"/><rect x="642.0" y="552.4" width="1.5" height="1.5" rx="0.5"/></g>
<g fill="#000"><rect x="653.6" y="579.3" width="1.5" height="1.5" rx="0.5"/><rect x="656.1" y="579.6" width="1.5" height="1.5" rx="0.5"/><rect x="658.6" y="580.0" width="1.5" height="1.5" rx="0.5"/><rect x="661.1" y="581.2" width="1.5" height="1.5" rx="0.5"/><rect x="656.1" y="574.3" width="1.5" height="1.5" rx="0.5"/><rect x="658.6" y="574.8" width="1.5" height="1.5" rx="0.5"/><rect x="653.0" y="568.9" width="1.5" height="1.5" rx="0.5"/><rect x="654.2" y="569.3" width="1.5" height="1.5" rx="0.5"/><rect x="655.5" y="569.8" width="1.5" height="1.5" rx="0.5"/><rect x="656.7" y="570.0" width="1.5" height="1.5" rx="0.5"/><rect x="658.0" y="570.3" width="1.5" height="1.5" rx="0.5"/><rect x="659.2" y="570.7" width="1.5" height="1.5" rx="0.5"/><rect x="660.5" y="571.0" width="1.5" height="1.5" rx="0.5"/><rect x="661.8" y="571.0" width="1.5" height="1.5" rx="0.5"/><rect x="654.9" y="594.7" width="1.5" height="1.5" rx="0.5"/><rect x="657.4" y="595.1" width="1.5" height="1.5" rx="0.5"/><rect x="659.9" y="596.3" width="1.5" height="1.5" rx="0.5"/><rect x="654.9" y="583.3" width="1.5" height="1.5" rx="0.5"/><rect x="657.4" y="583.3" width="1.5" height="1.5" rx="0.5"/><rect x="659.9" y="583.5" width="1.5" height="1.5" rx="0.5"/><rect x="654.9" y="572.6" width="1.5" height="1.5" rx="0.5"/><rect x="657.4" y="572.8" width="1.5" height="1.5" rx="0.5"/><rect x="659.9" y="573.3" width="1.5" height="1.5" rx="0.5"/><rect x="656.1" y="567.5" width="1.5" height="1.5" rx="0.5"/><rect x="658.6" y="568.3" width="1.5" height="1.5" rx="0.5"/><rect x="654.9" y="577.4" width="1.5" height="1.5" rx="0.5"/><rect x="657.4" y="578.3" width="1.5" height="1.5" rx="0.5"/><rect x="659.9" y="578.8" width="1.5" height="1.5" rx="0.5"/><rect x="657.4" y="565.1" width="1.5" height="1.5" rx="0.5"/><rect x="657.4" y="548.9" width="1.5" height="1.5" rx="0.5"/><rect x="656.1" y="561.3" width="1.5" height="1.5" rx="0.5"/><rect x="658.6" y="563.1" width="1.5" height="1.5" rx="0.5"/><rect x="657.4" y="585.4" width="1.5" height="1.5" rx="0.5"/><rect x="657.4" y="559.0" width="1.5" height="1.5" rx="0.5"/><rect x="656.1" y="589.6" width="1.5" height="1.5" rx="0.5"/><rect x="658.6" y="592.0" width="1.5" height="1.5" rx="0.5"/><rect x="657.4" y="587.2" width="1.5" height="1.5" rx="0.5"/><rect x="657.4" y="594.6" width="1.5" height="1.5" rx="0.5"/><rect x="657.4" y="533.1" width="1.5" height="1.5" rx="0.5"/><rect x="657.4" y="515.6" width="1.5" height="1.5" rx="0.5"/></g>
<g fill="#000"><rect x="669.0" y="571.4" width="1.5" height="1.5" rx="0.5"/><rect x="671.5" y="572.0" width="1.5" height="1.5" rx="0.5"/><rect x="674.0" y="572.4" width="1.5" height="1.5" rx="0.5"/><rect x="676.5" y="573.4" width="1.5" height="1.5" rx="0.5"/><rect x="672.8" y="560.6" width="1.5" height="1.5" rx="0.5"/><rect x="668.4" y="592.2" width="1.5" height="1.5" rx="0.5"/><rect x="669.8" y="592.5" width="1.5" height="1.5" rx="0.5"/><rect x="671.3" y="592.9" width="1.5" height="1.5" rx="0.5"/><rect x="672.8" y="593.3" width="1.5" height="1.5" rx="0.5"/><rect x="674.2" y="593.4" width="1.5" height="1.5" rx="0.5"/><rect x="675.7" y="593.8" width="1.5" height="1.5" rx="0.5"/><rect x="677.1" y="594.5" width="1.5" height="1.5" rx="0.5"/><rect x="668.4" y="587.6" width="1.5" height="1.5" rx="0.5"/><rect x="669.8" y="587.9" width="1.5" height="1.5" rx="0.5"/><rect x="671.3" y="588.3" width="1.5" height="1.5" rx="0.5"/><rect x="672.8" y="588.4" width="1.5" height="1.5" rx="0.5"/><rect x="674.2" y="588.4" width="1.5" height="1.5" rx="0.5"/><rect x="675.7" y="588.4" width="1.5" height="1.5" rx="0.5"/><rect x="677.1" y="589.1" width="1.5" height="1.5" rx="0.5"/><rect x="672.8" y="594.9" width="1.5" height="1.5" rx="0.5"/><rect x="669.0" y="590.0" width="1.5" height="1.5" rx="0.5"/><rect x="671.5" y="590.5" width="1.5" height="1.5" rx="0.5"/><rect x="674.0" y="590.5" width="1.5" height="1.5" rx="0.5"/><rect x="676.5" y="591.6" width="1.5" height="1.5" rx="0.5"/><rect x="671.5" y="562.0" width="1.5" height="1.5" rx="0.5"/><rect x="674.0" y="563.4" width="1.5" height="1.5" rx="0.5"/><rect x="670.2" y="582.4" width="1.5" height="1.5" rx="0.5"/><rect x="672.8" y="583.6" width="1.5" height="1.5" rx="0.5"/><rect x="675.2" y="583.9" width="1.5" height="1.5" rx="0.5"/><rect x="671.5" y="566.2" width="1.5" height="1.5" rx="0.5"/><rect x="674.0" y="566.5" width="1.5" height="1.5" rx="0.5"/><rect x="668.4" y="584.4" width="1.5" height="1.5" rx="0.5"/><rect x="670.1" y="584.4" width="1.5" height="1.5" rx="0.5"/><rect x="671.9" y="584.6" width="1.5" height="1.5" rx="0.5"/><rect x="673.6" y="585.6" width="1.5" height="1.5" rx="0.5"/><rect x="675.4" y="586.1" width="1.5" height="1.5" rx="0.5"/><rect x="677.1" y="586.1" width="1.5" height="1.5" rx="0.5"/><rect x="669.0" y="574.2" width="1.5" height="1.5" rx="0.5"/><rect x="671.5" y="574.5" width="1.5" height="1.5" rx="0.5"/><rect x="674.0" y="575.6" width="1.5" height="1.5" rx="0.5"/><rect x="676.5" y="576.3" width="1.5" height="1.5" rx="0.5"/><rect x="671.5" y="552.8" width="1.5" height="1.5" rx="0.5"/><rect x="674.0" y="553.0" width="1.5" height="1.5" rx="0.5"/><rect x="669.0" y="579.4" width="1.5" height="1.5" rx="0.5"/><rect x="671.5" y="579.6" width="1.5" height="1.5" rx="0.5"/><rect x="674.0" y="579.7" width="1.5" height="1.5" rx="0.5"/><rect x="676.5" y="579.9" width="1.5" height="1.5" rx="0.5"/><rect x="669.0" y="568.9" width="1.5" height="1.5" rx="0.5"/><rect x="671.5" y="568.9" width="1.5" height="1.5" rx="0.5"/><rect x="674.0" y="569.8" width="1.5" height="1.5" rx="0.5"/><rect x="676.5" y="571.1" width="1.5" height="1.5" rx="0.5"/><rect x="669.0" y="563.9" width="1.5" height="1.5" rx="0.5"/><rect x="671.5" y="564.8" width="1.5" height="1.5" rx="0.5"/><rect x="674.0" y="565.0" width="1.5" height="1.5" rx="0.5"/><rect x="676.5" y="565.4" width="1.5" height="1.5" rx="0.5"/><rect x="671.5" y="598.1" width="1.5" height="1.5" rx="0.5"/><rect x="674.0" y="598.5" width="1.5" height="1.5" rx="0.5"/><rect x="672.8" y="577.1" width="1.5" height="1.5" rx="0.5"/><rect x="672.8" y="530.5" width="1.5" height="1.5" rx="0.5"/><rect x="672.8" y="506.8" width="1.5" height="1.5" rx="0.5"/></g>
</svg>
</body></html>
